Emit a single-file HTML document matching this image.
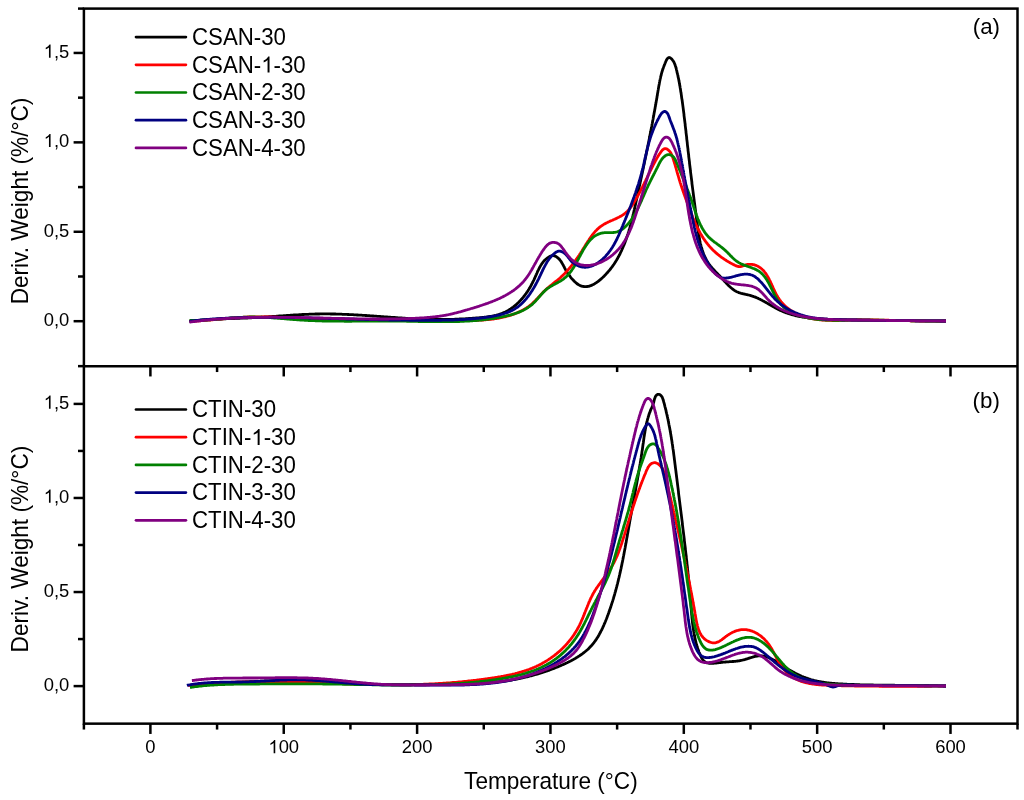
<!DOCTYPE html>
<html><head><meta charset="utf-8"><title>DTG curves</title>
<style>html,body{margin:0;padding:0;background:#fff;}body{width:1024px;height:800px;overflow:hidden;}svg{display:block;}text{font-family:"Liberation Sans",sans-serif;fill:#000;}</style>
</head><body>
<svg width="1024" height="800" viewBox="0 0 1024 800">
<rect x="0" y="0" width="1024" height="800" fill="#ffffff"/>
<g fill="none" stroke-width="2.8" stroke-linejoin="round" stroke-linecap="butt">
<path stroke="#000000" d="M189.5,321.3 L190.3,321.2 L191.0,321.1 L191.8,321.0 L192.6,320.9 L193.4,320.8 L194.1,320.8 L194.9,320.7 L195.7,320.6 L196.4,320.5 L197.2,320.5 L198.0,320.4 L198.7,320.3 L199.5,320.3 L200.3,320.2 L201.1,320.1 L201.8,320.1 L202.6,320.0 L203.4,320.0 L204.1,319.9 L204.9,319.8 L205.7,319.8 L206.5,319.7 L207.2,319.7 L208.0,319.6 L208.8,319.6 L209.5,319.5 L210.3,319.5 L211.1,319.5 L211.9,319.4 L212.6,319.4 L213.4,319.3 L214.2,319.3 L215.0,319.3 L215.7,319.2 L216.5,319.2 L217.3,319.1 L218.0,319.1 L218.8,319.1 L219.6,319.0 L220.4,319.0 L221.1,319.0 L221.9,318.9 L222.7,318.9 L223.5,318.9 L224.2,318.8 L225.0,318.8 L225.8,318.8 L226.5,318.7 L227.3,318.7 L228.1,318.7 L228.9,318.7 L229.6,318.6 L230.4,318.6 L231.2,318.6 L232.0,318.5 L232.7,318.5 L233.5,318.5 L234.3,318.5 L235.0,318.4 L235.8,318.4 L236.6,318.4 L237.4,318.3 L238.1,318.3 L238.9,318.3 L239.7,318.3 L240.5,318.2 L241.2,318.2 L242.0,318.2 L242.8,318.1 L243.5,318.1 L244.3,318.1 L245.1,318.1 L245.9,318.0 L246.6,318.0 L247.4,318.0 L248.2,317.9 L249.0,317.9 L249.7,317.9 L250.5,317.8 L251.3,317.8 L252.1,317.7 L252.8,317.7 L253.6,317.7 L254.4,317.6 L255.1,317.6 L255.9,317.6 L256.7,317.5 L257.5,317.5 L258.2,317.4 L259.0,317.4 L259.8,317.3 L260.5,317.3 L261.3,317.2 L262.1,317.2 L262.9,317.1 L263.6,317.1 L264.4,317.0 L265.2,317.0 L266.0,316.9 L266.7,316.9 L267.5,316.8 L268.3,316.8 L269.0,316.7 L269.8,316.7 L270.6,316.6 L271.4,316.6 L272.1,316.5 L272.9,316.5 L273.7,316.4 L274.4,316.4 L275.2,316.3 L276.0,316.3 L276.8,316.2 L277.5,316.2 L278.3,316.1 L279.1,316.0 L279.9,316.0 L280.6,315.9 L281.4,315.9 L282.2,315.8 L282.9,315.8 L283.7,315.7 L284.5,315.7 L285.3,315.6 L286.0,315.6 L286.8,315.5 L287.6,315.4 L288.3,315.4 L289.1,315.3 L289.9,315.3 L290.7,315.2 L291.4,315.2 L292.2,315.1 L293.0,315.1 L293.7,315.0 L294.5,315.0 L295.3,314.9 L296.1,314.9 L296.8,314.9 L297.6,314.8 L298.4,314.8 L299.1,314.7 L299.9,314.7 L300.7,314.6 L301.5,314.6 L302.2,314.5 L303.0,314.5 L303.8,314.5 L304.5,314.4 L305.3,314.4 L306.1,314.4 L306.9,314.3 L307.6,314.3 L308.4,314.3 L309.2,314.2 L309.9,314.2 L310.7,314.2 L311.5,314.1 L312.3,314.1 L313.0,314.1 L313.8,314.1 L314.6,314.1 L315.3,314.0 L316.1,314.0 L316.9,314.0 L317.7,314.0 L318.4,314.0 L319.2,314.0 L320.0,313.9 L320.7,313.9 L321.5,313.9 L322.3,313.9 L323.1,313.9 L323.8,313.9 L324.6,313.9 L325.4,313.9 L326.2,313.9 L326.9,313.9 L327.7,313.9 L328.5,313.9 L329.2,313.9 L330.0,313.9 L330.8,314.0 L331.6,314.0 L332.3,314.0 L333.1,314.0 L333.9,314.0 L334.6,314.0 L335.4,314.0 L336.2,314.1 L337.0,314.1 L337.7,314.1 L338.5,314.1 L339.3,314.2 L340.0,314.2 L340.8,314.2 L341.6,314.2 L342.4,314.3 L343.1,314.3 L343.9,314.3 L344.7,314.3 L345.5,314.4 L346.2,314.4 L347.0,314.4 L347.8,314.5 L348.5,314.5 L349.3,314.6 L350.1,314.6 L350.9,314.6 L351.6,314.7 L352.4,314.7 L353.2,314.7 L353.9,314.8 L354.7,314.8 L355.5,314.9 L356.3,314.9 L357.0,315.0 L357.8,315.0 L358.6,315.1 L359.4,315.1 L360.1,315.1 L360.9,315.2 L361.7,315.2 L362.4,315.3 L363.2,315.3 L364.0,315.4 L364.8,315.4 L365.5,315.5 L366.3,315.5 L367.1,315.6 L367.8,315.6 L368.6,315.7 L369.4,315.7 L370.2,315.8 L370.9,315.9 L371.7,315.9 L372.5,316.0 L373.3,316.0 L374.0,316.1 L374.8,316.1 L375.6,316.2 L376.3,316.2 L377.1,316.3 L377.9,316.3 L378.7,316.4 L379.4,316.4 L380.2,316.5 L381.0,316.6 L381.7,316.6 L382.5,316.7 L383.3,316.7 L384.1,316.8 L384.8,316.8 L385.6,316.9 L386.4,316.9 L387.2,317.0 L387.9,317.1 L388.7,317.1 L389.5,317.2 L390.2,317.2 L391.0,317.3 L391.8,317.3 L392.6,317.4 L393.3,317.4 L394.1,317.5 L394.9,317.5 L395.6,317.6 L396.4,317.7 L397.2,317.7 L398.0,317.8 L398.7,317.8 L399.5,317.9 L400.3,317.9 L401.1,318.0 L401.8,318.0 L402.6,318.1 L403.4,318.1 L404.1,318.2 L404.9,318.2 L405.7,318.3 L406.5,318.3 L407.2,318.3 L408.0,318.4 L408.8,318.4 L409.5,318.5 L410.3,318.5 L411.1,318.6 L411.9,318.6 L412.6,318.6 L413.4,318.7 L414.2,318.7 L415.0,318.8 L415.7,318.8 L416.5,318.8 L417.3,318.9 L418.0,318.9 L418.8,319.0 L419.6,319.0 L420.4,319.0 L421.1,319.0 L421.9,319.1 L422.7,319.1 L423.4,319.1 L424.2,319.2 L425.0,319.2 L425.8,319.2 L426.5,319.2 L427.3,319.3 L428.1,319.3 L428.8,319.3 L429.6,319.3 L430.4,319.4 L431.2,319.4 L431.9,319.4 L432.7,319.4 L433.5,319.4 L434.2,319.4 L435.0,319.4 L435.8,319.5 L436.6,319.5 L437.3,319.5 L438.1,319.5 L438.9,319.5 L439.7,319.5 L440.4,319.5 L441.2,319.5 L442.0,319.5 L442.7,319.5 L443.5,319.5 L444.3,319.5 L445.1,319.5 L445.8,319.5 L446.6,319.4 L447.4,319.4 L448.1,319.4 L448.9,319.4 L449.7,319.4 L450.5,319.4 L451.2,319.4 L452.0,319.3 L452.8,319.3 L453.5,319.3 L454.3,319.3 L455.1,319.2 L455.9,319.2 L456.6,319.2 L457.4,319.1 L458.2,319.1 L458.9,319.1 L459.7,319.0 L460.5,319.0 L461.3,319.0 L462.0,318.9 L462.8,318.9 L463.6,318.8 L464.4,318.8 L465.1,318.8 L465.9,318.7 L466.7,318.7 L467.5,318.6 L468.2,318.6 L469.0,318.5 L469.8,318.5 L470.6,318.4 L471.3,318.4 L472.1,318.3 L472.9,318.2 L473.7,318.2 L474.4,318.1 L475.2,318.1 L476.0,318.0 L476.8,317.9 L477.5,317.9 L478.3,317.8 L479.1,317.8 L479.9,317.7 L480.7,317.6 L481.4,317.6 L482.2,317.5 L483.0,317.4 L483.8,317.3 L484.5,317.2 L485.3,317.1 L486.1,317.1 L486.9,317.0 L487.6,316.9 L488.4,316.7 L489.2,316.6 L489.9,316.5 L490.7,316.4 L491.5,316.3 L492.2,316.1 L493.0,316.0 L493.7,315.8 L494.5,315.6 L495.2,315.5 L496.0,315.3 L496.7,315.1 L497.4,314.9 L498.2,314.7 L498.9,314.5 L499.6,314.2 L500.4,314.0 L501.1,313.7 L501.8,313.5 L502.5,313.2 L503.2,312.9 L503.9,312.6 L504.6,312.3 L505.3,312.0 L506.0,311.6 L506.7,311.3 L507.3,310.9 L508.0,310.5 L508.7,310.1 L509.3,309.7 L510.0,309.3 L510.6,308.9 L511.3,308.4 L511.9,308.0 L512.5,307.5 L513.2,307.1 L513.8,306.6 L514.4,306.1 L515.0,305.6 L515.6,305.1 L516.2,304.6 L516.8,304.1 L517.3,303.5 L517.9,303.0 L518.5,302.5 L519.0,301.9 L519.6,301.4 L520.1,300.8 L520.6,300.2 L521.2,299.6 L521.7,299.1 L522.2,298.5 L522.7,297.9 L523.2,297.3 L523.7,296.7 L524.1,296.1 L524.6,295.5 L525.1,294.9 L525.5,294.3 L526.0,293.6 L526.4,293.0 L526.8,292.4 L527.3,291.8 L527.7,291.1 L528.1,290.5 L528.5,289.8 L528.9,289.2 L529.3,288.5 L529.7,287.9 L530.1,287.2 L530.5,286.5 L530.8,285.9 L531.2,285.2 L531.6,284.5 L531.9,283.8 L532.3,283.2 L532.6,282.5 L533.0,281.8 L533.3,281.1 L533.7,280.4 L534.0,279.7 L534.3,279.0 L534.7,278.2 L535.0,277.5 L535.3,276.8 L535.6,276.1 L535.9,275.4 L536.3,274.6 L536.6,273.9 L536.9,273.2 L537.2,272.4 L537.5,271.7 L537.9,271.0 L538.2,270.3 L538.6,269.6 L538.9,268.9 L539.3,268.1 L539.6,267.5 L540.0,266.8 L540.4,266.1 L540.8,265.4 L541.2,264.8 L541.6,264.1 L542.0,263.5 L542.5,262.9 L542.9,262.3 L543.4,261.7 L543.9,261.1 L544.4,260.5 L544.9,260.0 L545.5,259.5 L546.1,259.0 L546.7,258.5 L547.3,258.0 L547.9,257.6 L548.6,257.1 L549.3,256.7 L550.0,256.4 L550.7,256.1 L551.5,255.8 L552.2,255.7 L552.9,255.6 L553.7,255.6 L554.4,255.8 L555.1,256.1 L555.8,256.4 L556.5,256.8 L557.2,257.3 L557.8,257.8 L558.4,258.3 L558.9,258.9 L559.5,259.4 L560.0,260.1 L560.5,260.7 L561.0,261.4 L561.4,262.0 L561.8,262.7 L562.2,263.4 L562.6,264.1 L563.0,264.8 L563.4,265.4 L563.7,266.1 L564.1,266.8 L564.4,267.4 L564.7,268.1 L565.1,268.8 L565.5,269.6 L565.9,270.3 L566.3,271.0 L566.8,271.7 L567.2,272.4 L567.6,273.0 L568.0,273.6 L568.5,274.3 L568.9,275.0 L569.5,275.6 L570.0,276.3 L570.5,277.0 L571.1,277.8 L571.7,278.5 L572.2,279.0 L572.6,279.5 L573.1,280.0 L573.6,280.6 L574.1,281.1 L574.8,281.7 L575.4,282.3 L576.1,282.9 L576.8,283.5 L577.5,284.0 L578.2,284.5 L578.9,284.9 L579.6,285.3 L580.3,285.6 L581.0,285.9 L581.7,286.1 L582.4,286.3 L583.1,286.4 L583.8,286.5 L584.5,286.6 L585.4,286.6 L586.3,286.6 L587.1,286.5 L588.0,286.4 L588.7,286.3 L589.3,286.1 L590.0,285.9 L590.7,285.7 L591.4,285.4 L592.0,285.1 L592.7,284.8 L593.4,284.5 L594.0,284.1 L594.7,283.7 L595.3,283.3 L596.0,282.9 L596.6,282.5 L597.2,282.0 L597.9,281.6 L598.5,281.1 L599.1,280.6 L599.7,280.1 L600.3,279.6 L600.9,279.1 L601.5,278.6 L602.1,278.0 L602.7,277.5 L603.2,277.0 L603.8,276.4 L604.3,275.9 L604.9,275.3 L605.4,274.8 L606.0,274.2 L606.5,273.6 L607.0,273.1 L607.5,272.5 L608.0,271.9 L608.5,271.3 L609.0,270.7 L609.5,270.2 L610.0,269.6 L610.5,269.0 L610.9,268.4 L611.4,267.7 L611.9,267.1 L612.3,266.5 L612.8,265.9 L613.2,265.3 L613.6,264.7 L614.1,264.0 L614.5,263.4 L614.9,262.8 L615.3,262.1 L615.7,261.5 L616.1,260.8 L616.5,260.2 L616.9,259.5 L617.3,258.9 L617.7,258.2 L618.0,257.5 L618.4,256.9 L618.8,256.2 L619.1,255.5 L619.5,254.9 L619.8,254.2 L620.2,253.5 L620.5,252.8 L620.8,252.1 L621.2,251.4 L621.5,250.7 L621.8,250.0 L622.1,249.3 L622.4,248.6 L622.7,247.9 L623.0,247.2 L623.3,246.5 L623.6,245.8 L623.9,245.1 L624.2,244.4 L624.5,243.7 L624.8,242.9 L625.1,242.2 L625.3,241.5 L625.6,240.8 L625.9,240.0 L626.1,239.3 L626.4,238.6 L626.6,237.9 L626.9,237.1 L627.1,236.4 L627.4,235.6 L627.6,234.9 L627.9,234.2 L628.1,233.4 L628.3,232.7 L628.6,231.9 L628.8,231.2 L629.0,230.4 L629.2,229.7 L629.5,228.9 L629.7,228.2 L629.9,227.4 L630.1,226.7 L630.3,225.9 L630.5,225.1 L630.7,224.4 L630.9,223.6 L631.1,222.9 L631.3,222.1 L631.5,221.3 L631.7,220.6 L631.9,219.8 L632.1,219.0 L632.3,218.3 L632.5,217.5 L632.7,216.7 L632.9,216.0 L633.0,215.2 L633.2,214.4 L633.4,213.7 L633.6,212.9 L633.8,212.1 L633.9,211.4 L634.1,210.6 L634.3,209.8 L634.4,209.1 L634.6,208.3 L634.8,207.5 L635.0,206.8 L635.1,206.0 L635.3,205.2 L635.5,204.5 L635.6,203.7 L635.8,202.9 L636.0,202.1 L636.1,201.4 L636.3,200.6 L636.5,199.8 L636.6,199.1 L636.8,198.3 L637.0,197.6 L637.1,196.8 L637.3,196.0 L637.5,195.3 L637.6,194.5 L637.8,193.7 L638.0,193.0 L638.1,192.2 L638.3,191.5 L638.4,190.7 L638.6,189.9 L638.8,189.2 L638.9,188.4 L639.1,187.7 L639.3,186.9 L639.4,186.1 L639.6,185.4 L639.8,184.6 L639.9,183.9 L640.1,183.1 L640.2,182.4 L640.4,181.6 L640.6,180.9 L640.7,180.1 L640.9,179.4 L641.0,178.6 L641.2,177.8 L641.4,177.1 L641.5,176.3 L641.7,175.6 L641.8,174.8 L642.0,174.1 L642.2,173.3 L642.3,172.6 L642.5,171.8 L642.6,171.1 L642.8,170.3 L643.0,169.6 L643.1,168.8 L643.3,168.1 L643.4,167.3 L643.6,166.6 L643.7,165.8 L643.9,165.1 L644.1,164.3 L644.2,163.6 L644.4,162.8 L644.5,162.1 L644.7,161.3 L644.8,160.6 L645.0,159.8 L645.2,159.1 L645.3,158.3 L645.5,157.6 L645.6,156.8 L645.8,156.1 L645.9,155.4 L646.1,154.6 L646.2,153.9 L646.4,153.1 L646.5,152.4 L646.7,151.6 L646.8,150.9 L647.0,150.1 L647.1,149.4 L647.3,148.6 L647.5,147.9 L647.6,147.1 L647.8,146.4 L647.9,145.6 L648.1,144.9 L648.2,144.1 L648.4,143.4 L648.5,142.6 L648.7,141.9 L648.8,141.1 L649.0,140.4 L649.1,139.6 L649.3,138.9 L649.4,138.1 L649.5,137.4 L649.7,136.6 L649.8,135.9 L650.0,135.1 L650.1,134.4 L650.3,133.6 L650.4,132.9 L650.6,132.1 L650.7,131.4 L650.9,130.6 L651.0,129.8 L651.2,129.1 L651.3,128.3 L651.4,127.6 L651.6,126.8 L651.7,126.1 L651.9,125.3 L652.0,124.6 L652.2,123.8 L652.3,123.1 L652.5,122.3 L652.6,121.5 L652.7,120.8 L652.9,120.0 L653.0,119.3 L653.2,118.5 L653.3,117.7 L653.4,117.0 L653.6,116.2 L653.7,115.5 L653.9,114.7 L654.0,113.9 L654.1,113.2 L654.3,112.4 L654.4,111.6 L654.6,110.9 L654.7,110.1 L654.8,109.4 L655.0,108.6 L655.1,107.8 L655.2,107.1 L655.4,106.3 L655.5,105.5 L655.7,104.7 L655.8,104.0 L655.9,103.2 L656.1,102.4 L656.2,101.7 L656.3,100.9 L656.5,100.1 L656.6,99.3 L656.7,98.6 L656.9,97.8 L657.0,97.0 L657.1,96.2 L657.3,95.5 L657.4,94.7 L657.5,93.9 L657.6,93.1 L657.8,92.4 L657.9,91.6 L658.0,90.8 L658.2,90.0 L658.3,89.2 L658.4,88.5 L658.6,87.7 L658.7,86.9 L658.8,86.1 L659.0,85.4 L659.1,84.6 L659.3,83.8 L659.4,83.1 L659.5,82.3 L659.7,81.5 L659.8,80.8 L660.0,80.0 L660.1,79.3 L660.3,78.6 L660.5,77.8 L660.6,77.1 L660.8,76.4 L661.0,75.7 L661.2,75.0 L661.3,74.3 L661.5,73.6 L661.7,72.9 L661.9,72.2 L662.1,71.5 L662.3,70.8 L662.5,70.1 L662.8,69.4 L663.0,68.7 L663.3,67.9 L663.5,67.2 L663.8,66.5 L664.1,65.7 L664.4,64.9 L664.7,64.2 L665.0,63.4 L665.4,62.5 L665.7,61.7 L666.1,60.8 L666.5,60.0 L666.9,59.3 L667.4,58.6 L667.8,58.1 L668.5,57.7 L669.2,57.5 L669.9,57.7 L670.5,58.0 L671.1,58.5 L671.7,59.1 L672.3,59.7 L672.7,60.3 L673.2,60.9 L673.6,61.6 L674.0,62.3 L674.3,63.0 L674.6,63.7 L674.9,64.4 L675.2,65.2 L675.4,65.9 L675.7,66.7 L675.9,67.5 L676.1,68.2 L676.3,69.0 L676.5,69.8 L676.7,70.5 L676.9,71.3 L677.0,72.1 L677.2,72.8 L677.4,73.6 L677.6,74.4 L677.8,75.1 L677.9,75.9 L678.1,76.7 L678.2,77.4 L678.4,78.2 L678.6,78.9 L678.7,79.7 L678.9,80.5 L679.0,81.2 L679.2,82.0 L679.3,82.7 L679.4,83.5 L679.6,84.2 L679.7,85.0 L679.8,85.7 L680.0,86.5 L680.1,87.2 L680.2,88.0 L680.4,88.8 L680.5,89.5 L680.6,90.3 L680.7,91.0 L680.8,91.8 L681.0,92.5 L681.1,93.3 L681.2,94.0 L681.3,94.8 L681.4,95.5 L681.5,96.3 L681.6,97.0 L681.7,97.8 L681.8,98.6 L682.0,99.3 L682.1,100.1 L682.2,100.8 L682.3,101.6 L682.4,102.3 L682.5,103.1 L682.6,103.9 L682.7,104.6 L682.8,105.4 L682.9,106.2 L683.0,106.9 L683.1,107.7 L683.2,108.4 L683.3,109.2 L683.4,110.0 L683.5,110.7 L683.6,111.5 L683.7,112.3 L683.8,113.0 L683.9,113.8 L684.0,114.6 L684.0,115.3 L684.1,116.1 L684.2,116.9 L684.3,117.7 L684.4,118.4 L684.5,119.2 L684.6,120.0 L684.7,120.7 L684.8,121.5 L684.9,122.3 L685.0,123.1 L685.1,123.8 L685.2,124.6 L685.2,125.4 L685.3,126.1 L685.4,126.9 L685.5,127.7 L685.6,128.5 L685.7,129.2 L685.8,130.0 L685.9,130.8 L686.0,131.6 L686.0,132.3 L686.1,133.1 L686.2,133.9 L686.3,134.6 L686.4,135.4 L686.5,136.2 L686.6,137.0 L686.7,137.7 L686.7,138.5 L686.8,139.3 L686.9,140.1 L687.0,140.8 L687.1,141.6 L687.2,142.4 L687.3,143.2 L687.3,143.9 L687.4,144.7 L687.5,145.5 L687.6,146.3 L687.7,147.0 L687.8,147.8 L687.9,148.6 L688.0,149.3 L688.0,150.1 L688.1,150.9 L688.2,151.7 L688.3,152.4 L688.4,153.2 L688.5,154.0 L688.6,154.7 L688.7,155.5 L688.7,156.3 L688.8,157.0 L688.9,157.8 L689.0,158.6 L689.1,159.3 L689.2,160.1 L689.3,160.9 L689.4,161.6 L689.5,162.4 L689.5,163.2 L689.6,163.9 L689.7,164.7 L689.8,165.5 L689.9,166.2 L690.0,167.0 L690.1,167.8 L690.2,168.5 L690.3,169.3 L690.4,170.1 L690.5,170.8 L690.5,171.6 L690.6,172.4 L690.7,173.1 L690.8,173.9 L690.9,174.6 L691.0,175.4 L691.1,176.2 L691.2,176.9 L691.3,177.7 L691.4,178.5 L691.5,179.2 L691.6,180.0 L691.7,180.8 L691.8,181.5 L691.9,182.3 L691.9,183.0 L692.0,183.8 L692.1,184.6 L692.2,185.3 L692.3,186.1 L692.4,186.9 L692.5,187.6 L692.6,188.4 L692.7,189.1 L692.8,189.9 L692.9,190.7 L693.0,191.4 L693.1,192.2 L693.2,193.0 L693.3,193.7 L693.4,194.5 L693.5,195.3 L693.6,196.0 L693.7,196.8 L693.8,197.5 L693.9,198.3 L694.0,199.1 L694.1,199.8 L694.2,200.6 L694.3,201.4 L694.4,202.1 L694.5,202.9 L694.6,203.7 L694.7,204.4 L694.8,205.2 L694.9,206.0 L695.0,206.7 L695.1,207.5 L695.2,208.3 L695.3,209.0 L695.4,209.8 L695.5,210.6 L695.6,211.3 L695.7,212.1 L695.8,212.9 L695.9,213.7 L696.0,214.4 L696.1,215.2 L696.2,216.0 L696.3,216.7 L696.4,217.5 L696.5,218.3 L696.6,219.1 L696.7,219.8 L696.8,220.6 L696.9,221.4 L697.0,222.2 L697.1,222.9 L697.2,223.7 L697.3,224.5 L697.4,225.3 L697.5,226.0 L697.6,226.8 L697.7,227.6 L697.8,228.4 L697.9,229.2 L698.1,229.9 L698.2,230.7 L698.3,231.5 L698.4,232.3 L698.5,233.1 L698.6,233.8 L698.7,234.6 L698.9,235.4 L699.0,236.1 L699.1,236.9 L699.3,237.7 L699.4,238.5 L699.5,239.2 L699.7,240.0 L699.8,240.8 L700.0,241.5 L700.2,242.3 L700.3,243.0 L700.5,243.8 L700.7,244.5 L700.9,245.3 L701.1,246.0 L701.3,246.8 L701.5,247.5 L701.7,248.2 L701.9,249.0 L702.1,249.7 L702.4,250.4 L702.6,251.1 L702.8,251.9 L703.1,252.6 L703.4,253.3 L703.6,254.0 L703.9,254.7 L704.2,255.4 L704.5,256.1 L704.8,256.8 L705.2,257.5 L705.5,258.1 L705.8,258.8 L706.2,259.5 L706.5,260.1 L706.9,260.8 L707.3,261.4 L707.7,262.1 L708.1,262.7 L708.5,263.3 L709.0,264.0 L709.4,264.6 L709.9,265.2 L710.3,265.8 L710.8,266.4 L711.3,267.0 L711.8,267.6 L712.3,268.2 L712.8,268.8 L713.3,269.4 L713.9,269.9 L714.4,270.5 L714.9,271.1 L715.5,271.7 L716.0,272.2 L716.5,272.8 L717.1,273.4 L717.7,273.9 L718.2,274.5 L718.8,275.1 L719.3,275.7 L719.9,276.2 L720.4,276.8 L721.0,277.4 L721.5,278.0 L722.1,278.5 L722.6,279.1 L723.1,279.7 L723.7,280.3 L724.2,280.9 L724.7,281.5 L725.3,282.1 L725.8,282.6 L726.3,283.2 L726.9,283.8 L727.4,284.3 L728.0,284.9 L728.5,285.4 L729.1,286.0 L729.6,286.5 L730.2,287.0 L730.7,287.5 L731.3,288.0 L731.9,288.5 L732.5,289.0 L733.1,289.4 L733.7,289.9 L734.3,290.3 L734.9,290.7 L735.5,291.0 L736.2,291.4 L736.8,291.7 L737.5,292.0 L738.2,292.3 L738.9,292.6 L739.6,292.8 L740.3,293.0 L741.0,293.3 L741.8,293.5 L742.5,293.6 L743.3,293.8 L744.0,294.0 L744.8,294.1 L745.5,294.3 L746.3,294.5 L747.0,294.6 L747.8,294.8 L748.6,295.0 L749.3,295.2 L750.1,295.4 L750.8,295.6 L751.5,295.8 L752.3,296.1 L753.0,296.3 L753.7,296.6 L754.5,296.8 L755.2,297.1 L755.9,297.4 L756.6,297.7 L757.3,298.0 L758.0,298.3 L758.7,298.7 L759.4,299.0 L760.1,299.3 L760.8,299.7 L761.5,300.0 L762.1,300.4 L762.8,300.8 L763.5,301.1 L764.2,301.5 L764.9,301.9 L765.5,302.3 L766.2,302.6 L766.9,303.0 L767.6,303.4 L768.2,303.8 L768.9,304.2 L769.6,304.6 L770.3,305.0 L770.9,305.3 L771.6,305.7 L772.3,306.1 L772.9,306.5 L773.6,306.9 L774.3,307.3 L775.0,307.6 L775.6,308.0 L776.3,308.4 L777.0,308.7 L777.7,309.1 L778.4,309.4 L779.0,309.8 L779.7,310.1 L780.4,310.4 L781.1,310.7 L781.8,311.0 L782.5,311.4 L783.2,311.6 L783.9,311.9 L784.6,312.2 L785.3,312.5 L786.0,312.8 L786.8,313.0 L787.5,313.3 L788.2,313.5 L788.9,313.7 L789.6,314.0 L790.4,314.2 L791.1,314.4 L791.8,314.6 L792.6,314.8 L793.3,315.0 L794.0,315.2 L794.8,315.4 L795.5,315.6 L796.2,315.8 L797.0,315.9 L797.7,316.1 L798.5,316.3 L799.2,316.4 L800.0,316.6 L800.7,316.7 L801.5,316.8 L802.2,317.0 L803.0,317.1 L803.8,317.2 L804.5,317.3 L805.3,317.5 L806.0,317.6 L806.8,317.7 L807.6,317.8 L808.3,317.9 L809.1,318.0 L809.9,318.0 L810.6,318.1 L811.4,318.2 L812.2,318.3 L813.0,318.4 L813.7,318.4 L814.5,318.5 L815.3,318.6 L816.1,318.6 L816.8,318.7 L817.6,318.7 L818.4,318.8 L819.2,318.8 L819.9,318.9 L820.7,318.9 L821.5,319.0 L822.3,319.0 L823.1,319.1 L823.9,319.1 L824.6,319.1 L825.4,319.2 L826.2,319.2 L827.0,319.2 L827.8,319.3 L828.6,319.3 L829.3,319.3 L830.1,319.3 L830.9,319.4 L831.7,319.4 L832.5,319.4 L833.3,319.4 L834.0,319.4 L834.8,319.5 L835.6,319.5 L836.4,319.5 L837.2,319.5 L837.9,319.5 L838.7,319.6 L839.5,319.6 L840.3,319.6 L841.1,319.6 L841.8,319.6 L842.6,319.6 L843.4,319.7 L844.2,319.7 L845.0,319.7 L845.7,319.7 L846.5,319.7 L847.3,319.8 L848.1,319.8 L848.9,319.8 L849.6,319.8 L850.4,319.8 L851.2,319.8 L852.0,319.9 L852.7,319.9 L853.5,319.9 L854.3,319.9 L855.1,319.9 L855.8,319.9 L856.6,319.9 L857.4,320.0 L858.2,320.0 L858.9,320.0 L859.7,320.0 L860.5,320.0 L861.3,320.0 L862.0,320.1 L862.8,320.1 L863.6,320.1 L864.3,320.1 L865.1,320.1 L865.9,320.1 L866.7,320.1 L867.4,320.2 L868.2,320.2 L869.0,320.2 L869.7,320.2 L870.5,320.2 L871.3,320.2 L872.1,320.2 L872.8,320.2 L873.6,320.3 L874.4,320.3 L875.1,320.3 L875.9,320.3 L876.7,320.3 L877.5,320.3 L878.2,320.3 L879.0,320.4 L879.8,320.4 L880.5,320.4 L881.3,320.4 L882.1,320.4 L882.8,320.4 L883.6,320.4 L884.4,320.4 L885.1,320.4 L885.9,320.5 L886.7,320.5 L887.5,320.5 L888.2,320.5 L889.0,320.5 L889.8,320.5 L890.5,320.5 L891.3,320.5 L892.1,320.5 L892.8,320.6 L893.6,320.6 L894.4,320.6 L895.1,320.6 L895.9,320.6 L896.7,320.6 L897.5,320.6 L898.2,320.6 L899.0,320.6 L899.8,320.6 L900.5,320.6 L901.3,320.7 L902.1,320.7 L902.8,320.7 L903.6,320.7 L904.4,320.7 L905.2,320.7 L905.9,320.7 L906.7,320.7 L907.5,320.7 L908.2,320.7 L909.0,320.7 L909.8,320.7 L910.5,320.8 L911.3,320.8 L912.1,320.8 L912.9,320.8 L913.6,320.8 L914.4,320.8 L915.2,320.8 L915.9,320.8 L916.7,320.8 L917.5,320.8 L918.3,320.8 L919.0,320.8 L919.8,320.8 L920.6,320.8 L921.3,320.9 L922.1,320.9 L922.9,320.9 L923.7,320.9 L924.4,320.9 L925.2,320.9 L926.0,320.9 L926.8,320.9 L927.5,320.9 L928.3,320.9 L929.1,320.9 L929.9,320.9 L930.6,320.9 L931.4,320.9 L932.2,320.9 L933.0,320.9 L933.7,320.9 L934.5,320.9 L935.3,320.9 L936.1,321.0 L936.8,321.0 L937.6,321.0 L938.4,321.0 L939.2,321.0 L940.0,321.0 L940.7,321.0 L941.5,321.0 L942.3,321.0 L943.1,321.0 L943.9,321.0 L944.6,321.0 L945.4,321.0 L946.0,321.0"/>
<path stroke="#ff0000" d="M189.5,321.2 L190.3,321.2 L191.0,321.2 L191.8,321.2 L192.6,321.2 L193.4,321.1 L194.2,321.1 L194.9,321.1 L195.7,321.0 L196.5,321.0 L197.3,320.9 L198.0,320.9 L198.8,320.8 L199.6,320.8 L200.4,320.8 L201.1,320.7 L201.9,320.7 L202.7,320.6 L203.5,320.5 L204.2,320.5 L205.0,320.4 L205.8,320.4 L206.6,320.3 L207.3,320.2 L208.1,320.2 L208.9,320.1 L209.7,320.1 L210.4,320.0 L211.2,319.9 L212.0,319.9 L212.8,319.8 L213.5,319.7 L214.3,319.6 L215.1,319.6 L215.9,319.5 L216.7,319.4 L217.4,319.4 L218.2,319.3 L219.0,319.2 L219.8,319.2 L220.5,319.1 L221.3,319.0 L222.1,318.9 L222.9,318.9 L223.6,318.8 L224.4,318.7 L225.2,318.7 L226.0,318.6 L226.7,318.5 L227.5,318.4 L228.3,318.4 L229.1,318.3 L229.9,318.2 L230.6,318.2 L231.4,318.1 L232.2,318.0 L233.0,318.0 L233.7,317.9 L234.5,317.9 L235.3,317.8 L236.1,317.7 L236.8,317.7 L237.6,317.6 L238.4,317.6 L239.2,317.5 L240.0,317.5 L240.7,317.4 L241.5,317.4 L242.3,317.3 L243.1,317.3 L243.8,317.2 L244.6,317.2 L245.4,317.1 L246.2,317.1 L246.9,317.1 L247.7,317.0 L248.5,317.0 L249.3,317.0 L250.1,317.0 L250.8,316.9 L251.6,316.9 L252.4,316.9 L253.2,316.9 L253.9,316.9 L254.7,316.9 L255.5,316.8 L256.3,316.8 L257.0,316.8 L257.8,316.8 L258.6,316.8 L259.4,316.8 L260.1,316.8 L260.9,316.8 L261.7,316.8 L262.5,316.8 L263.2,316.8 L264.0,316.9 L264.8,316.9 L265.6,316.9 L266.4,316.9 L267.1,316.9 L267.9,316.9 L268.7,317.0 L269.5,317.0 L270.2,317.0 L271.0,317.0 L271.8,317.0 L272.6,317.1 L273.3,317.1 L274.1,317.1 L274.9,317.1 L275.7,317.2 L276.4,317.2 L277.2,317.2 L278.0,317.3 L278.8,317.3 L279.5,317.3 L280.3,317.4 L281.1,317.4 L281.9,317.4 L282.7,317.5 L283.4,317.5 L284.2,317.5 L285.0,317.6 L285.8,317.6 L286.5,317.6 L287.3,317.7 L288.1,317.7 L288.9,317.8 L289.6,317.8 L290.4,317.8 L291.2,317.9 L292.0,317.9 L292.7,317.9 L293.5,318.0 L294.3,318.0 L295.1,318.1 L295.9,318.1 L296.6,318.1 L297.4,318.2 L298.2,318.2 L299.0,318.2 L299.7,318.3 L300.5,318.3 L301.3,318.3 L302.1,318.4 L302.8,318.4 L303.6,318.4 L304.4,318.5 L305.2,318.5 L306.0,318.5 L306.7,318.6 L307.5,318.6 L308.3,318.6 L309.1,318.7 L309.8,318.7 L310.6,318.7 L311.4,318.8 L312.2,318.8 L312.9,318.8 L313.7,318.8 L314.5,318.9 L315.3,318.9 L316.1,318.9 L316.8,319.0 L317.6,319.0 L318.4,319.0 L319.2,319.0 L319.9,319.1 L320.7,319.1 L321.5,319.1 L322.3,319.1 L323.1,319.2 L323.8,319.2 L324.6,319.2 L325.4,319.2 L326.2,319.2 L326.9,319.3 L327.7,319.3 L328.5,319.3 L329.3,319.3 L330.1,319.4 L330.8,319.4 L331.6,319.4 L332.4,319.4 L333.2,319.4 L333.9,319.5 L334.7,319.5 L335.5,319.5 L336.3,319.5 L337.1,319.5 L337.8,319.6 L338.6,319.6 L339.4,319.6 L340.2,319.6 L341.0,319.6 L341.7,319.6 L342.5,319.7 L343.3,319.7 L344.1,319.7 L344.8,319.7 L345.6,319.7 L346.4,319.7 L347.2,319.7 L348.0,319.8 L348.7,319.8 L349.5,319.8 L350.3,319.8 L351.1,319.8 L351.8,319.8 L352.6,319.8 L353.4,319.8 L354.2,319.9 L355.0,319.9 L355.7,319.9 L356.5,319.9 L357.3,319.9 L358.1,319.9 L358.9,319.9 L359.6,319.9 L360.4,320.0 L361.2,320.0 L362.0,320.0 L362.7,320.0 L363.5,320.0 L364.3,320.0 L365.1,320.0 L365.9,320.0 L366.6,320.0 L367.4,320.0 L368.2,320.0 L369.0,320.0 L369.7,320.1 L370.5,320.1 L371.3,320.1 L372.1,320.1 L372.9,320.1 L373.6,320.1 L374.4,320.1 L375.2,320.1 L376.0,320.1 L376.7,320.1 L377.5,320.1 L378.3,320.1 L379.1,320.1 L379.9,320.1 L380.6,320.1 L381.4,320.2 L382.2,320.2 L383.0,320.2 L383.7,320.2 L384.5,320.2 L385.3,320.2 L386.1,320.2 L386.9,320.2 L387.6,320.2 L388.4,320.2 L389.2,320.2 L390.0,320.2 L390.7,320.2 L391.5,320.2 L392.3,320.2 L393.1,320.2 L393.8,320.2 L394.6,320.2 L395.4,320.2 L396.2,320.2 L397.0,320.2 L397.7,320.2 L398.5,320.2 L399.3,320.2 L400.1,320.2 L400.8,320.2 L401.6,320.2 L402.4,320.2 L403.2,320.2 L403.9,320.2 L404.7,320.2 L405.5,320.2 L406.3,320.2 L407.1,320.2 L407.8,320.2 L408.6,320.2 L409.4,320.2 L410.2,320.2 L410.9,320.2 L411.7,320.2 L412.5,320.2 L413.3,320.2 L414.0,320.3 L414.8,320.3 L415.6,320.3 L416.4,320.3 L417.2,320.3 L417.9,320.3 L418.7,320.3 L419.5,320.3 L420.3,320.3 L421.0,320.3 L421.8,320.3 L422.6,320.3 L423.4,320.3 L424.1,320.3 L424.9,320.3 L425.7,320.3 L426.5,320.3 L427.3,320.3 L428.0,320.3 L428.8,320.3 L429.6,320.3 L430.4,320.3 L431.1,320.3 L431.9,320.3 L432.7,320.3 L433.5,320.3 L434.2,320.3 L435.0,320.3 L435.8,320.3 L436.6,320.3 L437.4,320.3 L438.1,320.3 L438.9,320.3 L439.7,320.3 L440.5,320.3 L441.3,320.3 L442.0,320.3 L442.8,320.3 L443.6,320.3 L444.4,320.3 L445.1,320.3 L445.9,320.4 L446.7,320.4 L447.5,320.4 L448.3,320.4 L449.0,320.4 L449.8,320.4 L450.6,320.4 L451.4,320.4 L452.2,320.4 L452.9,320.4 L453.7,320.4 L454.5,320.4 L455.3,320.4 L456.1,320.4 L456.9,320.5 L457.6,320.5 L458.4,320.5 L459.2,320.5 L460.0,320.5 L460.8,320.5 L461.5,320.5 L462.3,320.5 L463.1,320.5 L463.9,320.5 L464.7,320.5 L465.4,320.5 L466.2,320.5 L467.0,320.5 L467.8,320.5 L468.6,320.5 L469.3,320.5 L470.1,320.5 L470.9,320.5 L471.7,320.5 L472.5,320.4 L473.2,320.4 L474.0,320.4 L474.8,320.4 L475.6,320.4 L476.4,320.3 L477.1,320.3 L477.9,320.3 L478.7,320.2 L479.5,320.2 L480.2,320.2 L481.0,320.1 L481.8,320.1 L482.6,320.0 L483.3,320.0 L484.1,319.9 L484.9,319.9 L485.7,319.8 L486.4,319.7 L487.2,319.7 L488.0,319.6 L488.8,319.5 L489.5,319.4 L490.3,319.4 L491.1,319.3 L491.8,319.2 L492.6,319.1 L493.4,319.0 L494.1,318.9 L494.9,318.7 L495.7,318.6 L496.4,318.5 L497.2,318.4 L498.0,318.3 L498.7,318.1 L499.5,318.0 L500.2,317.8 L501.0,317.7 L501.8,317.5 L502.5,317.3 L503.3,317.2 L504.0,317.0 L504.8,316.8 L505.5,316.6 L506.3,316.4 L507.0,316.2 L507.8,316.0 L508.5,315.8 L509.3,315.6 L510.0,315.4 L510.8,315.1 L511.5,314.9 L512.2,314.7 L513.0,314.4 L513.7,314.1 L514.4,313.9 L515.2,313.6 L515.9,313.3 L516.6,313.0 L517.3,312.7 L518.0,312.4 L518.7,312.1 L519.4,311.8 L520.1,311.5 L520.8,311.1 L521.5,310.8 L522.2,310.4 L522.9,310.0 L523.5,309.7 L524.2,309.3 L524.9,308.9 L525.5,308.5 L526.2,308.1 L526.8,307.7 L527.5,307.2 L528.1,306.8 L528.7,306.4 L529.4,305.9 L530.0,305.4 L530.6,305.0 L531.2,304.5 L531.8,304.0 L532.4,303.5 L532.9,302.9 L533.5,302.4 L534.1,301.9 L534.6,301.3 L535.2,300.8 L535.7,300.2 L536.3,299.6 L536.8,299.1 L537.4,298.5 L537.9,297.9 L538.4,297.3 L539.0,296.7 L539.5,296.2 L540.0,295.6 L540.6,295.0 L541.1,294.4 L541.6,293.8 L542.2,293.3 L542.7,292.7 L543.3,292.1 L543.8,291.6 L544.4,291.0 L545.0,290.5 L545.6,289.9 L546.1,289.4 L546.7,288.9 L547.3,288.3 L547.9,287.8 L548.5,287.3 L549.1,286.8 L549.7,286.3 L550.3,285.8 L550.9,285.3 L551.6,284.8 L552.2,284.4 L552.8,283.9 L553.4,283.4 L554.0,282.9 L554.6,282.4 L555.2,281.9 L555.8,281.4 L556.4,281.0 L557.1,280.5 L557.7,280.0 L558.2,279.5 L558.8,279.0 L559.4,278.5 L560.0,278.0 L560.6,277.4 L561.1,276.9 L561.7,276.4 L562.3,275.9 L562.8,275.3 L563.4,274.8 L563.9,274.3 L564.5,273.7 L565.0,273.2 L565.5,272.6 L566.0,272.0 L566.6,271.5 L567.1,270.9 L567.6,270.3 L568.1,269.8 L568.6,269.2 L569.1,268.6 L569.6,268.0 L570.1,267.4 L570.6,266.8 L571.1,266.2 L571.6,265.6 L572.0,265.0 L572.5,264.4 L573.0,263.8 L573.5,263.2 L573.9,262.6 L574.4,262.0 L574.8,261.4 L575.3,260.7 L575.7,260.1 L576.2,259.5 L576.6,258.8 L577.1,258.2 L577.5,257.6 L578.0,256.9 L578.4,256.3 L578.9,255.6 L579.3,255.0 L579.7,254.3 L580.1,253.7 L580.6,253.0 L581.0,252.3 L581.4,251.7 L581.9,251.0 L582.3,250.4 L582.7,249.7 L583.1,249.0 L583.5,248.3 L583.9,247.7 L584.4,247.0 L584.8,246.3 L585.2,245.7 L585.6,245.0 L586.0,244.3 L586.4,243.6 L586.9,243.0 L587.3,242.3 L587.7,241.6 L588.1,241.0 L588.6,240.3 L589.0,239.7 L589.4,239.0 L589.9,238.4 L590.3,237.7 L590.8,237.1 L591.2,236.4 L591.7,235.8 L592.2,235.2 L592.6,234.6 L593.1,234.0 L593.6,233.4 L594.1,232.8 L594.6,232.2 L595.1,231.6 L595.6,231.1 L596.2,230.5 L596.7,230.0 L597.2,229.4 L597.8,228.9 L598.3,228.4 L598.9,227.9 L599.5,227.4 L600.1,226.9 L600.7,226.5 L601.3,226.0 L602.0,225.6 L602.6,225.1 L603.3,224.7 L603.9,224.3 L604.6,223.9 L605.3,223.6 L606.0,223.2 L606.7,222.8 L607.4,222.5 L608.1,222.1 L608.8,221.8 L609.5,221.5 L610.3,221.1 L611.0,220.8 L611.7,220.5 L612.5,220.2 L613.2,219.9 L613.9,219.5 L614.7,219.2 L615.4,218.9 L616.1,218.6 L616.8,218.2 L617.5,217.9 L618.2,217.5 L619.0,217.2 L619.6,216.8 L620.3,216.4 L621.0,216.1 L621.7,215.7 L622.3,215.3 L623.0,214.9 L623.6,214.4 L624.2,214.0 L624.8,213.5 L625.4,213.0 L626.0,212.6 L626.5,212.0 L627.1,211.5 L627.6,211.0 L628.1,210.4 L628.6,209.9 L629.1,209.3 L629.6,208.7 L630.1,208.1 L630.6,207.5 L631.0,206.9 L631.5,206.3 L631.9,205.6 L632.3,205.0 L632.8,204.4 L633.2,203.7 L633.6,203.1 L634.0,202.4 L634.4,201.7 L634.8,201.1 L635.2,200.4 L635.6,199.7 L636.0,199.1 L636.4,198.4 L636.8,197.7 L637.1,197.0 L637.5,196.4 L637.9,195.7 L638.3,195.0 L638.6,194.3 L639.0,193.6 L639.4,192.9 L639.8,192.3 L640.1,191.6 L640.5,190.9 L640.8,190.2 L641.2,189.5 L641.5,188.8 L641.9,188.1 L642.3,187.4 L642.6,186.7 L643.0,186.0 L643.3,185.3 L643.6,184.6 L644.0,183.9 L644.3,183.2 L644.7,182.5 L645.0,181.8 L645.4,181.1 L645.7,180.4 L646.0,179.7 L646.4,179.0 L646.7,178.3 L647.1,177.6 L647.4,176.9 L647.7,176.2 L648.1,175.5 L648.4,174.8 L648.8,174.1 L649.1,173.4 L649.4,172.7 L649.8,172.0 L650.1,171.3 L650.5,170.6 L650.8,169.9 L651.2,169.2 L651.5,168.5 L651.8,167.9 L652.2,167.2 L652.5,166.5 L652.9,165.8 L653.2,165.1 L653.6,164.4 L653.9,163.7 L654.3,163.0 L654.6,162.4 L655.0,161.7 L655.4,161.0 L655.7,160.3 L656.1,159.7 L656.5,159.0 L656.8,158.3 L657.2,157.6 L657.6,157.0 L658.0,156.3 L658.5,155.6 L658.9,154.9 L659.3,154.2 L659.8,153.6 L660.3,152.9 L660.7,152.2 L661.2,151.5 L661.8,150.8 L662.3,150.2 L662.9,149.7 L663.4,149.2 L664.2,148.8 L664.9,148.6 L665.7,148.6 L666.5,148.8 L667.2,149.2 L667.8,149.6 L668.4,150.1 L669.0,150.7 L669.6,151.3 L670.1,152.0 L670.6,152.6 L671.0,153.3 L671.4,154.1 L671.7,154.8 L672.0,155.5 L672.3,156.3 L672.6,157.1 L672.9,157.8 L673.1,158.6 L673.4,159.4 L673.6,160.1 L673.8,160.9 L674.1,161.6 L674.3,162.4 L674.5,163.2 L674.8,163.9 L675.0,164.7 L675.2,165.4 L675.4,166.2 L675.6,166.9 L675.9,167.6 L676.1,168.4 L676.3,169.1 L676.5,169.9 L676.7,170.6 L676.9,171.3 L677.1,172.1 L677.3,172.8 L677.5,173.5 L677.7,174.2 L677.9,175.0 L678.2,175.7 L678.4,176.4 L678.6,177.2 L678.8,177.9 L679.0,178.6 L679.2,179.3 L679.4,180.1 L679.7,180.8 L679.9,181.5 L680.1,182.3 L680.3,183.0 L680.6,183.7 L680.8,184.5 L681.0,185.2 L681.3,185.9 L681.5,186.6 L681.8,187.4 L682.0,188.1 L682.3,188.8 L682.5,189.6 L682.8,190.3 L683.0,191.0 L683.3,191.8 L683.5,192.5 L683.8,193.2 L684.0,194.0 L684.3,194.7 L684.6,195.4 L684.8,196.2 L685.1,196.9 L685.4,197.6 L685.6,198.4 L685.9,199.1 L686.2,199.8 L686.4,200.6 L686.7,201.3 L687.0,202.1 L687.3,202.8 L687.5,203.5 L687.8,204.3 L688.1,205.0 L688.3,205.7 L688.6,206.5 L688.9,207.2 L689.2,207.9 L689.4,208.7 L689.7,209.4 L690.0,210.2 L690.3,210.9 L690.5,211.6 L690.8,212.4 L691.1,213.1 L691.4,213.8 L691.7,214.6 L692.0,215.3 L692.3,216.0 L692.5,216.7 L692.8,217.5 L693.1,218.2 L693.4,218.9 L693.7,219.6 L694.0,220.4 L694.4,221.1 L694.7,221.8 L695.0,222.5 L695.3,223.2 L695.6,223.9 L695.9,224.6 L696.3,225.3 L696.6,226.0 L696.9,226.7 L697.3,227.4 L697.6,228.1 L698.0,228.8 L698.3,229.5 L698.7,230.2 L699.0,230.9 L699.4,231.5 L699.8,232.2 L700.1,232.9 L700.5,233.6 L700.9,234.2 L701.3,234.9 L701.7,235.5 L702.1,236.2 L702.5,236.9 L702.9,237.5 L703.3,238.1 L703.7,238.8 L704.2,239.4 L704.6,240.0 L705.0,240.7 L705.5,241.3 L705.9,241.9 L706.4,242.5 L706.9,243.1 L707.3,243.7 L707.8,244.3 L708.3,244.9 L708.8,245.5 L709.3,246.1 L709.8,246.7 L710.3,247.2 L710.8,247.8 L711.3,248.4 L711.9,248.9 L712.4,249.5 L712.9,250.0 L713.5,250.6 L714.1,251.1 L714.6,251.6 L715.2,252.2 L715.8,252.7 L716.3,253.2 L716.9,253.7 L717.5,254.2 L718.1,254.7 L718.8,255.2 L719.4,255.7 L720.0,256.2 L720.6,256.6 L721.3,257.1 L721.9,257.6 L722.6,258.0 L723.2,258.5 L723.9,258.9 L724.5,259.4 L725.2,259.8 L725.9,260.2 L726.5,260.7 L727.2,261.1 L727.9,261.5 L728.6,261.9 L729.3,262.3 L730.0,262.7 L730.7,263.1 L731.4,263.5 L732.1,263.8 L732.8,264.2 L733.5,264.6 L734.2,264.9 L734.9,265.3 L735.6,265.6 L736.3,265.9 L737.0,266.2 L737.7,266.4 L738.5,266.5 L739.2,266.6 L739.9,266.6 L740.6,266.6 L741.3,266.4 L742.1,266.2 L742.8,265.9 L743.6,265.7 L744.3,265.4 L745.1,265.1 L745.8,264.8 L746.6,264.6 L747.4,264.5 L748.2,264.4 L748.9,264.3 L749.7,264.3 L750.5,264.3 L751.3,264.3 L752.1,264.4 L752.9,264.6 L753.7,264.7 L754.4,264.9 L755.2,265.2 L755.9,265.4 L756.7,265.7 L757.4,266.0 L758.1,266.4 L758.7,266.8 L759.4,267.2 L760.0,267.6 L760.6,268.0 L761.2,268.5 L761.8,269.0 L762.3,269.5 L762.9,270.0 L763.4,270.5 L763.9,271.1 L764.4,271.7 L764.8,272.3 L765.3,272.9 L765.8,273.5 L766.2,274.1 L766.6,274.8 L767.0,275.4 L767.4,276.1 L767.8,276.8 L768.2,277.5 L768.6,278.2 L769.0,278.9 L769.3,279.6 L769.7,280.3 L770.0,281.0 L770.4,281.8 L770.7,282.5 L771.1,283.3 L771.4,284.0 L771.8,284.8 L772.1,285.5 L772.4,286.3 L772.8,287.0 L773.1,287.8 L773.4,288.5 L773.8,289.3 L774.1,290.0 L774.5,290.8 L774.8,291.5 L775.2,292.2 L775.5,293.0 L775.9,293.7 L776.3,294.4 L776.7,295.1 L777.1,295.8 L777.5,296.5 L777.9,297.2 L778.3,297.8 L778.7,298.5 L779.2,299.1 L779.6,299.8 L780.1,300.4 L780.6,301.0 L781.0,301.6 L781.5,302.2 L782.0,302.8 L782.5,303.3 L783.1,303.9 L783.6,304.4 L784.1,305.0 L784.7,305.5 L785.2,306.0 L785.8,306.5 L786.4,307.0 L786.9,307.5 L787.5,308.0 L788.1,308.4 L788.7,308.9 L789.3,309.3 L789.9,309.8 L790.5,310.2 L791.2,310.6 L791.8,311.0 L792.4,311.4 L793.1,311.8 L793.7,312.1 L794.4,312.5 L795.1,312.9 L795.7,313.2 L796.4,313.5 L797.1,313.9 L797.8,314.2 L798.4,314.5 L799.1,314.8 L799.8,315.1 L800.5,315.4 L801.2,315.6 L801.9,315.9 L802.6,316.1 L803.4,316.4 L804.1,316.6 L804.8,316.9 L805.5,317.1 L806.2,317.3 L807.0,317.5 L807.7,317.7 L808.4,317.9 L809.2,318.0 L809.9,318.2 L810.6,318.4 L811.4,318.5 L812.1,318.7 L812.9,318.8 L813.6,318.9 L814.4,319.1 L815.1,319.2 L815.9,319.3 L816.6,319.4 L817.4,319.5 L818.2,319.6 L818.9,319.7 L819.7,319.8 L820.5,319.9 L821.2,319.9 L822.0,320.0 L822.8,320.1 L823.5,320.1 L824.3,320.2 L825.1,320.2 L825.9,320.3 L826.6,320.3 L827.4,320.3 L828.2,320.4 L829.0,320.4 L829.8,320.4 L830.6,320.4 L831.3,320.4 L832.1,320.5 L832.9,320.5 L833.7,320.5 L834.5,320.5 L835.3,320.5 L836.1,320.5 L836.9,320.5 L837.6,320.5 L838.4,320.5 L839.2,320.4 L840.0,320.4 L840.8,320.4 L841.6,320.4 L842.4,320.4 L843.2,320.4 L844.0,320.3 L844.8,320.3 L845.6,320.3 L846.4,320.3 L847.2,320.3 L847.9,320.2 L848.7,320.2 L849.5,320.2 L850.3,320.2 L851.1,320.2 L851.9,320.1 L852.7,320.1 L853.5,320.1 L854.3,320.1 L855.1,320.1 L855.9,320.1 L856.6,320.0 L857.4,320.0 L858.2,320.0 L859.0,320.0 L859.8,320.0 L860.6,320.0 L861.4,320.0 L862.1,320.0 L862.9,320.0 L863.7,320.0 L864.5,320.0 L865.3,320.0 L866.1,320.0 L866.8,320.0 L867.6,320.0 L868.4,320.0 L869.2,320.0 L870.0,320.0 L870.7,320.0 L871.5,320.0 L872.3,320.0 L873.1,320.0 L873.8,320.0 L874.6,320.0 L875.4,320.0 L876.2,320.0 L877.0,320.0 L877.7,320.0 L878.5,320.0 L879.3,320.1 L880.1,320.1 L880.8,320.1 L881.6,320.1 L882.4,320.1 L883.2,320.1 L883.9,320.1 L884.7,320.2 L885.5,320.2 L886.2,320.2 L887.0,320.2 L887.8,320.2 L888.6,320.2 L889.3,320.3 L890.1,320.3 L890.9,320.3 L891.7,320.3 L892.4,320.3 L893.2,320.3 L894.0,320.4 L894.7,320.4 L895.5,320.4 L896.3,320.4 L897.1,320.4 L897.8,320.5 L898.6,320.5 L899.4,320.5 L900.1,320.5 L900.9,320.5 L901.7,320.6 L902.5,320.6 L903.2,320.6 L904.0,320.6 L904.8,320.6 L905.5,320.7 L906.3,320.7 L907.1,320.7 L907.9,320.7 L908.6,320.7 L909.4,320.7 L910.2,320.8 L910.9,320.8 L911.7,320.8 L912.5,320.8 L913.3,320.8 L914.0,320.9 L914.8,320.9 L915.6,320.9 L916.4,320.9 L917.1,320.9 L917.9,320.9 L918.7,320.9 L919.4,321.0 L920.2,321.0 L921.0,321.0 L921.8,321.0 L922.5,321.0 L923.3,321.0 L924.1,321.0 L924.9,321.0 L925.7,321.0 L926.4,321.1 L927.2,321.1 L928.0,321.1 L928.8,321.1 L929.5,321.1 L930.3,321.1 L931.1,321.1 L931.9,321.1 L932.7,321.1 L933.4,321.1 L934.2,321.1 L935.0,321.1 L935.8,321.1 L936.6,321.1 L937.4,321.1 L938.1,321.1 L938.9,321.1 L939.7,321.1 L940.5,321.1 L941.3,321.1 L942.1,321.1 L942.8,321.0 L943.6,321.0 L944.4,321.0 L945.2,321.0 L946.0,321.0 L946.0,321.0"/>
<path stroke="#008000" d="M189.5,320.3 L190.3,320.3 L191.0,320.3 L191.8,320.4 L192.6,320.4 L193.3,320.4 L194.1,320.4 L194.9,320.4 L195.7,320.4 L196.4,320.4 L197.2,320.4 L198.0,320.4 L198.7,320.3 L199.5,320.3 L200.3,320.3 L201.0,320.3 L201.8,320.2 L202.6,320.2 L203.3,320.2 L204.1,320.1 L204.9,320.1 L205.6,320.1 L206.4,320.0 L207.2,320.0 L207.9,319.9 L208.7,319.9 L209.5,319.8 L210.3,319.8 L211.0,319.7 L211.8,319.7 L212.6,319.6 L213.3,319.5 L214.1,319.5 L214.9,319.4 L215.6,319.4 L216.4,319.3 L217.2,319.2 L217.9,319.2 L218.7,319.1 L219.5,319.0 L220.2,319.0 L221.0,318.9 L221.8,318.8 L222.5,318.8 L223.3,318.7 L224.1,318.6 L224.9,318.6 L225.6,318.5 L226.4,318.4 L227.2,318.4 L227.9,318.3 L228.7,318.2 L229.5,318.2 L230.2,318.1 L231.0,318.0 L231.8,318.0 L232.5,317.9 L233.3,317.9 L234.1,317.8 L234.8,317.7 L235.6,317.7 L236.4,317.6 L237.1,317.6 L237.9,317.5 L238.7,317.5 L239.4,317.4 L240.2,317.4 L241.0,317.3 L241.7,317.3 L242.5,317.3 L243.3,317.2 L244.0,317.2 L244.8,317.2 L245.6,317.1 L246.4,317.1 L247.1,317.1 L247.9,317.1 L248.7,317.1 L249.4,317.0 L250.2,317.0 L251.0,317.0 L251.7,317.0 L252.5,317.0 L253.3,317.0 L254.0,317.0 L254.8,317.0 L255.6,317.1 L256.3,317.1 L257.1,317.1 L257.9,317.1 L258.6,317.1 L259.4,317.1 L260.2,317.2 L260.9,317.2 L261.7,317.2 L262.5,317.3 L263.2,317.3 L264.0,317.3 L264.8,317.4 L265.6,317.4 L266.3,317.5 L267.1,317.5 L267.9,317.5 L268.6,317.6 L269.4,317.6 L270.2,317.7 L270.9,317.7 L271.7,317.8 L272.5,317.9 L273.2,317.9 L274.0,318.0 L274.8,318.0 L275.5,318.1 L276.3,318.1 L277.1,318.2 L277.8,318.3 L278.6,318.3 L279.4,318.4 L280.1,318.4 L280.9,318.5 L281.7,318.6 L282.4,318.6 L283.2,318.7 L284.0,318.7 L284.8,318.8 L285.5,318.9 L286.3,318.9 L287.1,319.0 L287.8,319.1 L288.6,319.1 L289.4,319.2 L290.1,319.3 L290.9,319.3 L291.7,319.4 L292.4,319.4 L293.2,319.5 L294.0,319.6 L294.7,319.6 L295.5,319.7 L296.3,319.7 L297.0,319.8 L297.8,319.8 L298.6,319.9 L299.3,319.9 L300.1,320.0 L300.9,320.0 L301.6,320.1 L302.4,320.1 L303.2,320.2 L303.9,320.2 L304.7,320.3 L305.5,320.3 L306.2,320.3 L307.0,320.4 L307.8,320.4 L308.5,320.5 L309.3,320.5 L310.1,320.5 L310.9,320.6 L311.6,320.6 L312.4,320.6 L313.2,320.7 L313.9,320.7 L314.7,320.7 L315.5,320.8 L316.2,320.8 L317.0,320.8 L317.8,320.8 L318.5,320.9 L319.3,320.9 L320.1,320.9 L320.8,320.9 L321.6,320.9 L322.4,321.0 L323.1,321.0 L323.9,321.0 L324.7,321.0 L325.4,321.0 L326.2,321.1 L327.0,321.1 L327.7,321.1 L328.5,321.1 L329.3,321.1 L330.0,321.1 L330.8,321.1 L331.6,321.1 L332.3,321.2 L333.1,321.2 L333.9,321.2 L334.6,321.2 L335.4,321.2 L336.2,321.2 L336.9,321.2 L337.7,321.2 L338.5,321.2 L339.2,321.2 L340.0,321.2 L340.8,321.2 L341.5,321.2 L342.3,321.2 L343.1,321.2 L343.8,321.2 L344.6,321.3 L345.4,321.3 L346.1,321.3 L346.9,321.3 L347.7,321.3 L348.5,321.3 L349.2,321.3 L350.0,321.3 L350.8,321.3 L351.5,321.3 L352.3,321.2 L353.1,321.2 L353.8,321.2 L354.6,321.2 L355.4,321.2 L356.1,321.2 L356.9,321.2 L357.7,321.2 L358.4,321.2 L359.2,321.2 L360.0,321.2 L360.7,321.2 L361.5,321.2 L362.3,321.2 L363.0,321.2 L363.8,321.2 L364.6,321.2 L365.4,321.2 L366.1,321.2 L366.9,321.2 L367.7,321.2 L368.4,321.2 L369.2,321.2 L370.0,321.2 L370.7,321.2 L371.5,321.2 L372.3,321.2 L373.0,321.1 L373.8,321.1 L374.6,321.1 L375.3,321.1 L376.1,321.1 L376.9,321.1 L377.7,321.1 L378.4,321.1 L379.2,321.1 L380.0,321.1 L380.7,321.1 L381.5,321.1 L382.3,321.1 L383.0,321.1 L383.8,321.1 L384.6,321.1 L385.3,321.1 L386.1,321.1 L386.9,321.1 L387.7,321.1 L388.4,321.1 L389.2,321.1 L390.0,321.1 L390.7,321.1 L391.5,321.1 L392.3,321.1 L393.0,321.1 L393.8,321.1 L394.6,321.1 L395.4,321.1 L396.1,321.1 L396.9,321.1 L397.7,321.1 L398.4,321.1 L399.2,321.2 L400.0,321.2 L400.8,321.2 L401.5,321.2 L402.3,321.2 L403.1,321.2 L403.8,321.2 L404.6,321.2 L405.4,321.2 L406.2,321.2 L406.9,321.3 L407.7,321.3 L408.5,321.3 L409.2,321.3 L410.0,321.3 L410.8,321.3 L411.6,321.3 L412.3,321.3 L413.1,321.4 L413.9,321.4 L414.6,321.4 L415.4,321.4 L416.2,321.4 L417.0,321.4 L417.7,321.4 L418.5,321.5 L419.3,321.5 L420.0,321.5 L420.8,321.5 L421.6,321.5 L422.4,321.5 L423.1,321.5 L423.9,321.6 L424.7,321.6 L425.4,321.6 L426.2,321.6 L427.0,321.6 L427.8,321.6 L428.5,321.6 L429.3,321.6 L430.1,321.6 L430.8,321.7 L431.6,321.7 L432.4,321.7 L433.2,321.7 L433.9,321.7 L434.7,321.7 L435.5,321.7 L436.2,321.7 L437.0,321.7 L437.8,321.7 L438.6,321.7 L439.3,321.7 L440.1,321.7 L440.9,321.7 L441.6,321.7 L442.4,321.7 L443.2,321.7 L444.0,321.7 L444.7,321.7 L445.5,321.7 L446.3,321.7 L447.0,321.7 L447.8,321.7 L448.6,321.7 L449.3,321.7 L450.1,321.7 L450.9,321.7 L451.6,321.7 L452.4,321.6 L453.2,321.6 L454.0,321.6 L454.7,321.6 L455.5,321.6 L456.3,321.6 L457.0,321.5 L457.8,321.5 L458.6,321.5 L459.3,321.5 L460.1,321.4 L460.9,321.4 L461.6,321.4 L462.4,321.4 L463.2,321.3 L463.9,321.3 L464.7,321.2 L465.5,321.2 L466.2,321.2 L467.0,321.1 L467.8,321.1 L468.5,321.0 L469.3,321.0 L470.1,320.9 L470.8,320.9 L471.6,320.8 L472.4,320.8 L473.1,320.7 L473.9,320.7 L474.6,320.6 L475.4,320.5 L476.2,320.5 L476.9,320.4 L477.7,320.3 L478.5,320.3 L479.2,320.2 L480.0,320.1 L480.7,320.1 L481.5,320.0 L482.3,319.9 L483.0,319.8 L483.8,319.7 L484.5,319.6 L485.3,319.5 L486.1,319.4 L486.8,319.4 L487.6,319.3 L488.3,319.2 L489.1,319.0 L489.9,318.9 L490.6,318.8 L491.4,318.7 L492.1,318.6 L492.9,318.5 L493.7,318.4 L494.4,318.3 L495.2,318.1 L495.9,318.0 L496.7,317.9 L497.4,317.7 L498.2,317.6 L498.9,317.5 L499.7,317.3 L500.5,317.2 L501.2,317.0 L502.0,316.9 L502.7,316.7 L503.5,316.6 L504.2,316.4 L505.0,316.3 L505.7,316.1 L506.5,315.9 L507.2,315.7 L508.0,315.6 L508.7,315.4 L509.5,315.2 L510.2,315.0 L510.9,314.8 L511.7,314.6 L512.4,314.4 L513.1,314.2 L513.9,314.0 L514.6,313.7 L515.3,313.5 L516.1,313.2 L516.8,313.0 L517.5,312.7 L518.2,312.5 L518.9,312.2 L519.6,311.9 L520.3,311.6 L521.0,311.3 L521.7,311.0 L522.4,310.7 L523.0,310.4 L523.7,310.0 L524.4,309.7 L525.0,309.3 L525.7,308.9 L526.3,308.6 L527.0,308.2 L527.6,307.8 L528.2,307.3 L528.9,306.9 L529.5,306.5 L530.1,306.0 L530.7,305.5 L531.3,305.1 L531.9,304.6 L532.5,304.1 L533.0,303.5 L533.6,303.0 L534.1,302.5 L534.7,301.9 L535.2,301.3 L535.8,300.8 L536.3,300.2 L536.8,299.6 L537.4,299.0 L537.9,298.4 L538.4,297.8 L538.9,297.2 L539.5,296.6 L540.0,296.0 L540.5,295.4 L541.0,294.8 L541.6,294.2 L542.1,293.6 L542.7,293.0 L543.2,292.4 L543.8,291.9 L544.4,291.3 L544.9,290.7 L545.5,290.2 L546.1,289.7 L546.7,289.2 L547.3,288.7 L548.0,288.2 L548.6,287.8 L549.3,287.3 L549.9,286.9 L550.6,286.5 L551.3,286.1 L552.0,285.7 L552.7,285.3 L553.4,284.9 L554.0,284.5 L554.7,284.2 L555.4,283.8 L556.1,283.4 L556.8,283.1 L557.5,282.7 L558.2,282.3 L558.9,281.9 L559.5,281.5 L560.2,281.2 L560.9,280.8 L561.5,280.4 L562.1,279.9 L562.8,279.5 L563.4,279.1 L564.0,278.6 L564.5,278.1 L565.1,277.7 L565.7,277.2 L566.2,276.7 L566.7,276.2 L567.3,275.6 L567.8,275.1 L568.3,274.5 L568.8,274.0 L569.3,273.4 L569.7,272.9 L570.2,272.3 L570.7,271.7 L571.1,271.1 L571.6,270.5 L572.0,269.8 L572.4,269.2 L572.8,268.6 L573.3,268.0 L573.7,267.3 L574.1,266.7 L574.5,266.0 L574.9,265.3 L575.3,264.7 L575.6,264.0 L576.0,263.3 L576.4,262.7 L576.8,262.0 L577.2,261.3 L577.5,260.6 L577.9,259.9 L578.3,259.2 L578.7,258.5 L579.0,257.8 L579.4,257.1 L579.8,256.4 L580.2,255.7 L580.5,255.0 L580.9,254.3 L581.3,253.6 L581.7,252.9 L582.1,252.2 L582.4,251.5 L582.8,250.8 L583.2,250.1 L583.6,249.4 L584.0,248.7 L584.4,248.1 L584.8,247.4 L585.3,246.7 L585.7,246.1 L586.1,245.4 L586.6,244.8 L587.0,244.1 L587.4,243.5 L587.9,242.9 L588.4,242.3 L588.8,241.7 L589.3,241.1 L589.8,240.5 L590.3,240.0 L590.8,239.4 L591.4,238.9 L591.9,238.4 L592.4,237.9 L593.0,237.4 L593.5,237.0 L594.1,236.5 L594.7,236.1 L595.3,235.7 L595.9,235.4 L596.6,235.0 L597.2,234.7 L597.8,234.4 L598.5,234.1 L599.2,233.8 L599.9,233.6 L600.6,233.4 L601.3,233.2 L602.1,233.0 L602.8,232.9 L603.6,232.8 L604.4,232.7 L605.2,232.7 L606.0,232.7 L606.9,232.6 L607.7,232.6 L608.5,232.6 L609.4,232.6 L610.2,232.6 L611.0,232.6 L611.9,232.6 L612.7,232.6 L613.5,232.5 L614.3,232.4 L615.1,232.3 L615.8,232.2 L616.6,232.0 L617.3,231.8 L618.0,231.5 L618.7,231.2 L619.4,230.9 L620.1,230.6 L620.7,230.2 L621.4,229.9 L622.0,229.4 L622.6,229.0 L623.2,228.6 L623.8,228.1 L624.3,227.6 L624.9,227.1 L625.4,226.6 L626.0,226.1 L626.5,225.5 L627.0,225.0 L627.5,224.4 L628.0,223.9 L628.5,223.3 L629.0,222.7 L629.5,222.1 L630.0,221.5 L630.4,220.9 L630.9,220.3 L631.3,219.7 L631.8,219.0 L632.2,218.4 L632.6,217.8 L633.0,217.1 L633.4,216.5 L633.8,215.8 L634.2,215.1 L634.6,214.5 L635.0,213.8 L635.4,213.1 L635.8,212.4 L636.2,211.8 L636.5,211.1 L636.9,210.4 L637.3,209.7 L637.6,209.0 L638.0,208.3 L638.3,207.6 L638.6,206.9 L639.0,206.2 L639.3,205.5 L639.6,204.7 L640.0,204.0 L640.3,203.3 L640.6,202.6 L640.9,201.9 L641.3,201.2 L641.6,200.4 L641.9,199.7 L642.2,199.0 L642.5,198.3 L642.8,197.6 L643.1,196.9 L643.5,196.1 L643.8,195.4 L644.1,194.7 L644.4,194.0 L644.7,193.3 L645.0,192.6 L645.3,191.9 L645.6,191.2 L645.9,190.5 L646.2,189.8 L646.5,189.1 L646.9,188.4 L647.2,187.7 L647.5,187.1 L647.8,186.4 L648.1,185.7 L648.4,185.0 L648.8,184.4 L649.1,183.7 L649.4,183.1 L649.7,182.4 L650.1,181.7 L650.4,181.1 L650.7,180.4 L651.1,179.8 L651.4,179.1 L651.7,178.5 L652.1,177.8 L652.4,177.1 L652.7,176.5 L653.1,175.8 L653.4,175.2 L653.8,174.5 L654.1,173.8 L654.5,173.2 L654.8,172.5 L655.1,171.8 L655.5,171.1 L655.8,170.4 L656.2,169.7 L656.5,169.0 L656.9,168.3 L657.3,167.6 L657.6,166.9 L658.0,166.1 L658.3,165.4 L658.7,164.7 L659.0,163.9 L659.4,163.2 L659.8,162.5 L660.2,161.8 L660.6,161.1 L661.0,160.4 L661.5,159.7 L661.9,159.1 L662.4,158.4 L662.9,157.9 L663.5,157.3 L664.0,156.8 L664.6,156.3 L665.2,155.8 L665.9,155.4 L666.5,155.1 L667.2,154.8 L668.0,154.6 L668.7,154.6 L669.4,154.6 L670.2,154.8 L670.9,155.1 L671.6,155.4 L672.2,155.8 L672.7,156.3 L673.3,156.8 L673.8,157.3 L674.2,157.9 L674.6,158.6 L675.0,159.3 L675.4,160.0 L675.8,160.7 L676.1,161.4 L676.4,162.2 L676.7,162.9 L677.1,163.7 L677.4,164.5 L677.7,165.2 L678.0,166.0 L678.3,166.7 L678.6,167.5 L678.9,168.2 L679.2,168.9 L679.5,169.7 L679.8,170.4 L680.1,171.1 L680.4,171.8 L680.7,172.6 L680.9,173.3 L681.2,174.0 L681.5,174.7 L681.8,175.4 L682.1,176.1 L682.4,176.8 L682.7,177.5 L683.0,178.3 L683.2,179.0 L683.5,179.7 L683.8,180.4 L684.1,181.1 L684.4,181.8 L684.7,182.4 L684.9,183.1 L685.2,183.8 L685.5,184.5 L685.8,185.2 L686.0,185.9 L686.3,186.6 L686.6,187.3 L686.9,188.0 L687.1,188.7 L687.4,189.4 L687.7,190.1 L687.9,190.8 L688.2,191.5 L688.5,192.2 L688.7,192.9 L689.0,193.6 L689.2,194.3 L689.5,195.0 L689.8,195.7 L690.0,196.4 L690.3,197.1 L690.5,197.8 L690.8,198.5 L691.0,199.2 L691.3,199.9 L691.6,200.7 L691.8,201.4 L692.1,202.1 L692.3,202.8 L692.6,203.6 L692.8,204.3 L693.1,205.0 L693.3,205.8 L693.6,206.5 L693.8,207.3 L694.0,208.0 L694.3,208.7 L694.5,209.5 L694.8,210.2 L695.1,211.0 L695.3,211.7 L695.6,212.5 L695.8,213.2 L696.1,214.0 L696.3,214.7 L696.6,215.5 L696.9,216.2 L697.2,217.0 L697.4,217.7 L697.7,218.4 L698.0,219.2 L698.3,219.9 L698.6,220.6 L698.9,221.4 L699.2,222.1 L699.5,222.8 L699.8,223.5 L700.2,224.2 L700.5,224.9 L700.9,225.6 L701.2,226.3 L701.6,227.0 L701.9,227.7 L702.3,228.3 L702.7,229.0 L703.1,229.6 L703.5,230.3 L703.9,230.9 L704.3,231.6 L704.7,232.2 L705.1,232.8 L705.6,233.4 L706.0,234.0 L706.5,234.6 L707.0,235.2 L707.5,235.7 L708.0,236.3 L708.5,236.9 L709.0,237.4 L709.6,237.9 L710.1,238.4 L710.7,238.9 L711.2,239.4 L711.8,239.9 L712.4,240.4 L713.0,240.9 L713.6,241.3 L714.2,241.8 L714.8,242.3 L715.4,242.7 L716.1,243.2 L716.7,243.6 L717.3,244.1 L717.9,244.5 L718.5,245.0 L719.2,245.5 L719.8,245.9 L720.4,246.4 L721.0,246.8 L721.7,247.3 L722.3,247.8 L722.9,248.3 L723.5,248.8 L724.1,249.3 L724.6,249.8 L725.2,250.3 L725.8,250.8 L726.4,251.4 L726.9,251.9 L727.5,252.5 L728.0,253.0 L728.5,253.6 L729.1,254.1 L729.6,254.7 L730.1,255.3 L730.7,255.8 L731.2,256.4 L731.8,256.9 L732.3,257.5 L732.9,258.0 L733.4,258.5 L734.0,259.0 L734.5,259.5 L735.1,260.0 L735.7,260.5 L736.3,261.0 L736.9,261.4 L737.5,261.8 L738.2,262.2 L738.8,262.6 L739.5,263.0 L740.1,263.3 L740.8,263.7 L741.5,264.0 L742.2,264.3 L742.9,264.6 L743.6,264.9 L744.3,265.1 L745.0,265.4 L745.7,265.7 L746.5,265.9 L747.2,266.2 L747.9,266.5 L748.6,266.7 L749.4,267.0 L750.1,267.2 L750.8,267.5 L751.5,267.7 L752.2,268.0 L752.9,268.3 L753.6,268.5 L754.3,268.8 L755.0,269.1 L755.7,269.4 L756.3,269.8 L757.0,270.1 L757.6,270.5 L758.3,270.8 L758.9,271.2 L759.5,271.6 L760.1,272.1 L760.6,272.5 L761.2,273.0 L761.7,273.5 L762.2,274.0 L762.8,274.5 L763.3,275.0 L763.7,275.6 L764.2,276.2 L764.7,276.8 L765.1,277.4 L765.6,278.0 L766.0,278.6 L766.4,279.2 L766.8,279.9 L767.2,280.6 L767.6,281.2 L768.0,281.9 L768.4,282.6 L768.8,283.3 L769.2,284.0 L769.5,284.7 L769.9,285.5 L770.3,286.2 L770.6,286.9 L771.0,287.6 L771.3,288.4 L771.7,289.1 L772.1,289.8 L772.4,290.6 L772.8,291.3 L773.1,292.0 L773.5,292.8 L773.9,293.5 L774.2,294.2 L774.6,294.9 L775.0,295.6 L775.4,296.3 L775.8,297.0 L776.2,297.7 L776.6,298.4 L777.0,299.1 L777.4,299.8 L777.8,300.4 L778.3,301.1 L778.7,301.7 L779.2,302.3 L779.6,302.9 L780.1,303.5 L780.6,304.1 L781.1,304.7 L781.6,305.2 L782.2,305.7 L782.7,306.3 L783.2,306.8 L783.8,307.3 L784.4,307.8 L785.0,308.2 L785.5,308.7 L786.1,309.1 L786.8,309.6 L787.4,310.0 L788.0,310.4 L788.6,310.8 L789.3,311.2 L789.9,311.5 L790.6,311.9 L791.2,312.3 L791.9,312.6 L792.6,312.9 L793.3,313.3 L794.0,313.6 L794.6,313.9 L795.3,314.2 L796.1,314.4 L796.8,314.7 L797.5,315.0 L798.2,315.2 L798.9,315.5 L799.6,315.7 L800.4,316.0 L801.1,316.2 L801.9,316.4 L802.6,316.6 L803.3,316.8 L804.1,317.0 L804.8,317.2 L805.6,317.3 L806.3,317.5 L807.1,317.7 L807.8,317.8 L808.6,318.0 L809.3,318.1 L810.1,318.3 L810.8,318.4 L811.6,318.5 L812.4,318.7 L813.1,318.8 L813.9,318.9 L814.6,319.0 L815.4,319.1 L816.2,319.2 L816.9,319.3 L817.7,319.4 L818.4,319.4 L819.2,319.5 L820.0,319.6 L820.7,319.7 L821.5,319.7 L822.3,319.8 L823.0,319.8 L823.8,319.9 L824.6,319.9 L825.3,320.0 L826.1,320.0 L826.9,320.1 L827.6,320.1 L828.4,320.1 L829.2,320.2 L829.9,320.2 L830.7,320.2 L831.5,320.2 L832.2,320.2 L833.0,320.3 L833.8,320.3 L834.5,320.3 L835.3,320.3 L836.1,320.3 L836.9,320.3 L837.6,320.3 L838.4,320.3 L839.2,320.3 L839.9,320.3 L840.7,320.3 L841.5,320.3 L842.3,320.3 L843.0,320.3 L843.8,320.3 L844.6,320.3 L845.4,320.2 L846.1,320.2 L846.9,320.2 L847.7,320.2 L848.4,320.2 L849.2,320.2 L850.0,320.2 L850.8,320.2 L851.5,320.2 L852.3,320.2 L853.1,320.1 L853.9,320.1 L854.6,320.1 L855.4,320.1 L856.2,320.1 L856.9,320.1 L857.7,320.1 L858.5,320.1 L859.3,320.1 L860.0,320.1 L860.8,320.1 L861.6,320.1 L862.3,320.1 L863.1,320.1 L863.9,320.1 L864.7,320.1 L865.4,320.1 L866.2,320.1 L867.0,320.1 L867.7,320.1 L868.5,320.1 L869.3,320.1 L870.0,320.1 L870.8,320.1 L871.6,320.1 L872.4,320.1 L873.1,320.1 L873.9,320.1 L874.7,320.1 L875.4,320.1 L876.2,320.1 L877.0,320.2 L877.7,320.2 L878.5,320.2 L879.3,320.2 L880.0,320.2 L880.8,320.2 L881.6,320.2 L882.3,320.2 L883.1,320.2 L883.9,320.2 L884.7,320.3 L885.4,320.3 L886.2,320.3 L887.0,320.3 L887.7,320.3 L888.5,320.3 L889.3,320.3 L890.0,320.3 L890.8,320.4 L891.6,320.4 L892.3,320.4 L893.1,320.4 L893.9,320.4 L894.6,320.4 L895.4,320.4 L896.2,320.5 L896.9,320.5 L897.7,320.5 L898.5,320.5 L899.2,320.5 L900.0,320.5 L900.8,320.5 L901.5,320.6 L902.3,320.6 L903.1,320.6 L903.8,320.6 L904.6,320.6 L905.4,320.6 L906.2,320.7 L906.9,320.7 L907.7,320.7 L908.5,320.7 L909.2,320.7 L910.0,320.7 L910.8,320.7 L911.5,320.8 L912.3,320.8 L913.1,320.8 L913.8,320.8 L914.6,320.8 L915.4,320.8 L916.1,320.8 L916.9,320.8 L917.7,320.9 L918.4,320.9 L919.2,320.9 L920.0,320.9 L920.7,320.9 L921.5,320.9 L922.3,320.9 L923.1,320.9 L923.8,320.9 L924.6,320.9 L925.4,321.0 L926.1,321.0 L926.9,321.0 L927.7,321.0 L928.4,321.0 L929.2,321.0 L930.0,321.0 L930.7,321.0 L931.5,321.0 L932.3,321.0 L933.1,321.0 L933.8,321.0 L934.6,321.0 L935.4,321.0 L936.1,321.0 L936.9,321.0 L937.7,321.0 L938.4,321.0 L939.2,321.0 L940.0,321.0 L940.8,321.0 L941.5,321.0 L942.3,321.0 L943.1,321.0 L943.8,321.0 L944.6,321.0 L945.4,321.0 L946.0,321.0"/>
<path stroke="#000080" d="M189.5,321.3 L190.4,321.2 L191.2,321.0 L192.1,321.0 L192.9,320.9 L193.8,320.8 L194.7,320.7 L195.5,320.6 L196.4,320.5 L197.3,320.4 L198.1,320.3 L199.0,320.2 L199.8,320.1 L200.7,320.0 L201.6,320.0 L202.4,319.9 L203.3,319.8 L204.1,319.7 L205.0,319.6 L205.9,319.6 L206.7,319.5 L207.6,319.4 L208.5,319.4 L209.3,319.3 L210.2,319.2 L211.0,319.2 L211.9,319.1 L212.8,319.0 L213.6,319.0 L214.5,318.9 L215.3,318.8 L216.2,318.8 L217.1,318.7 L217.9,318.7 L218.8,318.6 L219.6,318.6 L220.5,318.5 L221.4,318.5 L222.2,318.4 L223.1,318.4 L224.0,318.3 L224.8,318.3 L225.7,318.2 L226.5,318.2 L227.4,318.1 L228.3,318.1 L229.1,318.1 L230.0,318.0 L230.8,318.0 L231.7,317.9 L232.6,317.9 L233.4,317.9 L234.3,317.8 L235.2,317.8 L236.0,317.8 L236.9,317.8 L237.7,317.7 L238.6,317.7 L239.5,317.7 L240.3,317.6 L241.2,317.6 L242.0,317.6 L242.9,317.6 L243.8,317.6 L244.6,317.5 L245.5,317.5 L246.4,317.5 L247.2,317.5 L248.1,317.5 L248.9,317.4 L249.8,317.4 L250.7,317.4 L251.5,317.4 L252.4,317.4 L253.2,317.4 L254.1,317.4 L255.0,317.4 L255.8,317.3 L256.7,317.3 L257.6,317.3 L258.4,317.3 L259.3,317.3 L260.1,317.3 L261.0,317.3 L261.9,317.3 L262.7,317.3 L263.6,317.3 L264.4,317.3 L265.3,317.3 L266.2,317.3 L267.0,317.3 L267.9,317.3 L268.8,317.3 L269.6,317.3 L270.5,317.3 L271.3,317.3 L272.2,317.3 L273.1,317.3 L273.9,317.3 L274.8,317.3 L275.7,317.3 L276.5,317.4 L277.4,317.4 L278.2,317.4 L279.1,317.4 L280.0,317.4 L280.8,317.4 L281.7,317.4 L282.6,317.4 L283.4,317.4 L284.3,317.4 L285.1,317.5 L286.0,317.5 L286.9,317.5 L287.7,317.5 L288.6,317.5 L289.4,317.5 L290.3,317.5 L291.2,317.6 L292.0,317.6 L292.9,317.6 L293.8,317.6 L294.6,317.6 L295.5,317.6 L296.3,317.7 L297.2,317.7 L298.1,317.7 L298.9,317.7 L299.8,317.7 L300.7,317.8 L301.5,317.8 L302.4,317.8 L303.2,317.8 L304.1,317.8 L305.0,317.9 L305.8,317.9 L306.7,317.9 L307.6,317.9 L308.4,317.9 L309.3,318.0 L310.2,318.0 L311.0,318.0 L311.9,318.0 L312.7,318.1 L313.6,318.1 L314.5,318.1 L315.3,318.1 L316.2,318.1 L317.1,318.2 L317.9,318.2 L318.8,318.2 L319.6,318.2 L320.5,318.3 L321.4,318.3 L322.2,318.3 L323.1,318.3 L324.0,318.3 L324.8,318.4 L325.7,318.4 L326.6,318.4 L327.4,318.4 L328.3,318.5 L329.1,318.5 L330.0,318.5 L330.9,318.5 L331.7,318.6 L332.6,318.6 L333.5,318.6 L334.3,318.6 L335.2,318.7 L336.1,318.7 L336.9,318.7 L337.8,318.7 L338.6,318.7 L339.5,318.8 L340.4,318.8 L341.2,318.8 L342.1,318.8 L343.0,318.9 L343.8,318.9 L344.7,318.9 L345.6,318.9 L346.4,319.0 L347.3,319.0 L348.1,319.0 L349.0,319.0 L349.9,319.1 L350.7,319.1 L351.6,319.1 L352.5,319.1 L353.3,319.1 L354.2,319.2 L355.0,319.2 L355.9,319.2 L356.8,319.2 L357.6,319.3 L358.5,319.3 L359.4,319.3 L360.2,319.3 L361.1,319.3 L362.0,319.4 L362.8,319.4 L363.7,319.4 L364.5,319.4 L365.4,319.5 L366.3,319.5 L367.1,319.5 L368.0,319.5 L368.9,319.5 L369.7,319.6 L370.6,319.6 L371.5,319.6 L372.3,319.6 L373.2,319.6 L374.0,319.7 L374.9,319.7 L375.8,319.7 L376.6,319.7 L377.5,319.7 L378.4,319.8 L379.2,319.8 L380.1,319.8 L381.0,319.8 L381.8,319.8 L382.7,319.8 L383.5,319.9 L384.4,319.9 L385.3,319.9 L386.1,319.9 L387.0,319.9 L387.9,319.9 L388.7,320.0 L389.6,320.0 L390.4,320.0 L391.3,320.0 L392.2,320.0 L393.0,320.0 L393.9,320.0 L394.8,320.1 L395.6,320.1 L396.5,320.1 L397.3,320.1 L398.2,320.1 L399.1,320.1 L399.9,320.1 L400.8,320.2 L401.7,320.2 L402.5,320.2 L403.4,320.2 L404.2,320.2 L405.1,320.2 L406.0,320.2 L406.8,320.2 L407.7,320.2 L408.6,320.2 L409.4,320.3 L410.3,320.3 L411.1,320.3 L412.0,320.3 L412.9,320.3 L413.7,320.3 L414.6,320.3 L415.5,320.3 L416.3,320.3 L417.2,320.3 L418.0,320.3 L418.9,320.3 L419.8,320.3 L420.6,320.3 L421.5,320.3 L422.3,320.3 L423.2,320.3 L424.1,320.3 L424.9,320.3 L425.8,320.3 L426.6,320.3 L427.5,320.3 L428.4,320.3 L429.2,320.3 L430.1,320.3 L431.0,320.3 L431.8,320.3 L432.7,320.3 L433.5,320.3 L434.4,320.3 L435.3,320.3 L436.1,320.3 L437.0,320.3 L437.8,320.3 L438.7,320.3 L439.6,320.3 L440.4,320.3 L441.3,320.3 L442.1,320.2 L443.0,320.2 L443.9,320.2 L444.7,320.2 L445.6,320.2 L446.4,320.2 L447.3,320.1 L448.2,320.1 L449.0,320.1 L449.9,320.1 L450.7,320.0 L451.6,320.0 L452.5,320.0 L453.3,320.0 L454.2,319.9 L455.1,319.9 L455.9,319.9 L456.8,319.8 L457.6,319.8 L458.5,319.7 L459.4,319.7 L460.2,319.7 L461.1,319.6 L462.0,319.6 L462.8,319.5 L463.7,319.5 L464.5,319.4 L465.4,319.4 L466.3,319.3 L467.1,319.2 L468.0,319.2 L468.9,319.1 L469.7,319.0 L470.6,319.0 L471.4,318.9 L472.3,318.8 L473.2,318.8 L474.0,318.7 L474.9,318.6 L475.8,318.5 L476.6,318.4 L477.5,318.3 L478.4,318.3 L479.2,318.2 L480.1,318.1 L481.0,318.0 L481.8,317.9 L482.7,317.8 L483.6,317.7 L484.4,317.5 L485.1,317.5 L485.8,317.4 L486.5,317.3 L487.2,317.2 L487.9,317.1 L488.6,317.0 L489.3,316.9 L490.0,316.8 L490.7,316.7 L491.4,316.5 L492.1,316.4 L492.8,316.3 L493.6,316.2 L494.5,316.0 L495.3,315.8 L496.2,315.7 L497.0,315.5 L497.9,315.3 L498.7,315.1 L499.6,314.9 L500.4,314.7 L501.2,314.5 L502.1,314.2 L502.9,314.0 L503.7,313.8 L504.5,313.5 L505.3,313.2 L506.1,313.0 L506.9,312.7 L507.7,312.4 L508.5,312.1 L509.3,311.7 L510.0,311.4 L510.8,311.0 L511.6,310.7 L512.3,310.3 L513.0,309.9 L513.8,309.5 L514.5,309.1 L515.2,308.7 L515.9,308.2 L516.6,307.7 L517.3,307.3 L517.9,306.8 L518.6,306.3 L519.3,305.7 L519.9,305.2 L520.5,304.7 L521.2,304.1 L521.8,303.5 L522.4,302.9 L523.0,302.3 L523.6,301.7 L524.2,301.1 L524.8,300.5 L525.3,299.8 L525.9,299.2 L526.5,298.5 L527.0,297.8 L527.5,297.1 L528.1,296.5 L528.5,295.9 L528.9,295.3 L529.3,294.8 L529.7,294.2 L530.1,293.6 L530.5,293.0 L530.9,292.4 L531.3,291.8 L531.7,291.2 L532.1,290.6 L532.5,290.0 L532.8,289.4 L533.2,288.8 L533.6,288.2 L533.9,287.6 L534.3,287.0 L534.7,286.4 L535.0,285.7 L535.4,285.1 L535.7,284.5 L536.1,283.8 L536.4,283.2 L536.7,282.6 L537.1,281.9 L537.4,281.3 L537.7,280.7 L538.0,280.0 L538.4,279.4 L538.7,278.8 L539.0,278.1 L539.3,277.5 L539.6,276.8 L539.9,276.2 L540.2,275.6 L540.5,274.9 L540.8,274.3 L541.1,273.7 L541.5,272.9 L541.8,272.1 L542.2,271.3 L542.6,270.5 L542.9,269.7 L543.3,269.0 L543.7,268.2 L544.1,267.4 L544.5,266.7 L544.9,265.9 L545.3,265.2 L545.7,264.4 L546.1,263.7 L546.5,263.0 L546.9,262.2 L547.4,261.5 L547.8,260.8 L548.3,260.1 L548.8,259.5 L549.3,258.8 L549.8,258.1 L550.3,257.5 L550.9,256.8 L551.5,256.2 L552.1,255.6 L552.7,255.0 L553.3,254.4 L554.0,253.8 L554.5,253.4 L555.1,252.9 L555.6,252.5 L556.2,252.1 L557.0,251.7 L557.8,251.4 L558.6,251.2 L559.4,251.2 L560.1,251.2 L560.8,251.4 L561.5,251.6 L562.2,251.8 L562.8,252.2 L563.6,252.6 L564.3,253.1 L564.9,253.6 L565.6,254.2 L566.1,254.8 L566.7,255.4 L567.3,256.1 L567.8,256.8 L568.3,257.5 L568.9,258.2 L569.3,258.7 L569.7,259.3 L570.2,259.8 L570.6,260.3 L571.1,260.9 L571.6,261.4 L572.1,261.9 L572.7,262.4 L573.2,262.8 L573.8,263.3 L574.4,263.7 L575.0,264.1 L575.6,264.5 L576.2,264.8 L576.8,265.2 L577.5,265.5 L578.1,265.8 L578.9,266.1 L579.7,266.4 L580.5,266.6 L581.4,266.9 L582.2,267.0 L583.0,267.1 L583.8,267.2 L584.6,267.3 L585.5,267.3 L586.3,267.2 L587.1,267.2 L587.9,267.0 L588.7,266.9 L589.5,266.7 L590.3,266.5 L591.1,266.3 L591.9,266.0 L592.7,265.7 L593.4,265.3 L594.2,265.0 L595.0,264.6 L595.7,264.2 L596.5,263.7 L597.2,263.3 L597.8,262.9 L598.4,262.5 L599.0,262.1 L599.5,261.7 L600.1,261.2 L600.7,260.8 L601.2,260.3 L601.8,259.9 L602.3,259.4 L602.8,258.9 L603.3,258.4 L603.9,257.9 L604.4,257.4 L604.9,256.9 L605.4,256.4 L605.9,255.9 L606.3,255.3 L606.8,254.8 L607.3,254.3 L607.7,253.7 L608.2,253.2 L608.6,252.6 L609.1,251.9 L609.7,251.2 L610.2,250.5 L610.7,249.8 L611.2,249.1 L611.6,248.4 L612.1,247.7 L612.6,246.9 L613.0,246.2 L613.4,245.5 L613.9,244.7 L614.3,244.0 L614.7,243.2 L615.1,242.5 L615.5,241.7 L615.9,241.0 L616.3,240.2 L616.7,239.5 L617.1,238.7 L617.4,237.9 L617.8,237.1 L618.2,236.4 L618.5,235.6 L618.9,234.8 L619.2,234.0 L619.5,233.3 L619.9,232.5 L620.2,231.7 L620.6,230.9 L620.9,230.1 L621.2,229.3 L621.6,228.5 L621.9,227.7 L622.2,226.9 L622.6,226.1 L622.9,225.4 L623.2,224.6 L623.5,223.8 L623.9,223.0 L624.2,222.2 L624.5,221.4 L624.8,220.6 L625.2,219.8 L625.5,219.0 L625.8,218.2 L626.2,217.4 L626.5,216.6 L626.8,215.8 L627.1,215.0 L627.4,214.2 L627.8,213.4 L628.1,212.6 L628.4,211.8 L628.7,211.0 L629.0,210.2 L629.4,209.4 L629.7,208.6 L630.0,207.8 L630.3,207.0 L630.6,206.2 L630.9,205.4 L631.2,204.6 L631.5,203.7 L631.8,202.9 L632.1,202.1 L632.4,201.3 L632.7,200.5 L633.0,199.7 L633.3,198.9 L633.6,198.1 L633.9,197.3 L634.2,196.4 L634.5,195.6 L634.8,194.8 L635.1,194.0 L635.4,193.2 L635.7,192.4 L635.9,191.5 L636.2,190.7 L636.5,189.9 L636.8,189.1 L637.0,188.3 L637.3,187.4 L637.6,186.6 L637.8,185.8 L638.1,185.0 L638.4,184.1 L638.6,183.3 L638.9,182.5 L639.1,181.7 L639.4,180.8 L639.6,180.0 L639.9,179.2 L640.1,178.3 L640.3,177.5 L640.6,176.7 L640.8,175.8 L641.0,175.0 L641.3,174.2 L641.5,173.3 L641.7,172.5 L641.9,171.7 L642.1,170.8 L642.4,170.0 L642.6,169.1 L642.8,168.3 L643.0,167.5 L643.2,166.6 L643.4,165.8 L643.6,164.9 L643.8,164.1 L644.0,163.2 L644.2,162.4 L644.3,161.5 L644.5,160.7 L644.7,159.9 L644.9,159.0 L645.1,158.2 L645.3,157.3 L645.5,156.5 L645.7,155.6 L645.9,154.8 L646.1,154.0 L646.3,153.1 L646.5,152.3 L646.7,151.4 L646.9,150.6 L647.1,149.8 L647.3,148.9 L647.5,148.1 L647.7,147.3 L647.9,146.5 L648.1,145.6 L648.4,144.8 L648.6,144.0 L648.8,143.1 L649.0,142.3 L649.3,141.5 L649.5,140.7 L649.7,139.9 L650.0,139.1 L650.2,138.3 L650.5,137.4 L650.8,136.6 L651.0,135.8 L651.3,135.0 L651.6,134.2 L651.9,133.4 L652.2,132.6 L652.5,131.9 L652.8,131.1 L653.1,130.3 L653.4,129.5 L653.7,128.7 L654.0,127.9 L654.4,127.1 L654.7,126.3 L655.1,125.5 L655.4,124.8 L655.8,124.0 L656.1,123.2 L656.5,122.4 L656.8,121.8 L657.1,121.1 L657.4,120.5 L657.8,119.9 L658.1,119.2 L658.4,118.6 L658.8,117.9 L659.1,117.3 L659.4,116.7 L659.8,116.0 L660.2,115.4 L660.6,114.8 L661.0,114.2 L661.4,113.6 L661.9,113.1 L662.4,112.6 L663.1,112.0 L663.8,111.6 L664.5,111.4 L665.2,111.5 L665.9,111.8 L666.5,112.3 L667.1,112.9 L667.5,113.5 L667.9,114.1 L668.2,114.8 L668.5,115.5 L668.8,116.2 L669.0,116.9 L669.3,117.6 L669.5,118.3 L669.8,119.0 L670.0,119.7 L670.3,120.4 L670.5,121.0 L670.8,121.7 L671.0,122.4 L671.4,123.2 L671.7,124.0 L672.0,124.8 L672.3,125.6 L672.6,126.4 L672.9,127.1 L673.2,127.9 L673.5,128.7 L673.8,129.5 L674.1,130.3 L674.4,131.1 L674.7,131.9 L674.9,132.7 L675.2,133.5 L675.5,134.3 L675.7,135.1 L676.0,135.9 L676.2,136.7 L676.4,137.5 L676.7,138.3 L676.9,139.2 L677.1,140.0 L677.3,140.8 L677.5,141.6 L677.7,142.5 L677.9,143.3 L678.1,144.1 L678.3,145.0 L678.5,145.8 L678.7,146.6 L678.9,147.5 L679.1,148.3 L679.2,149.1 L679.4,150.0 L679.6,150.8 L679.8,151.7 L679.9,152.5 L680.1,153.4 L680.3,154.2 L680.4,155.1 L680.6,155.9 L680.7,156.8 L680.9,157.6 L681.1,158.5 L681.2,159.3 L681.4,160.2 L681.5,161.0 L681.7,161.9 L681.8,162.7 L682.0,163.6 L682.2,164.4 L682.3,165.3 L682.5,166.2 L682.6,167.0 L682.8,167.9 L682.9,168.7 L683.1,169.6 L683.3,170.4 L683.4,171.3 L683.6,172.2 L683.7,173.0 L683.9,173.9 L684.0,174.7 L684.2,175.6 L684.4,176.4 L684.5,177.3 L684.7,178.2 L684.8,179.0 L685.0,179.9 L685.2,180.7 L685.3,181.6 L685.5,182.4 L685.6,183.3 L685.8,184.1 L686.0,185.0 L686.1,185.9 L686.3,186.7 L686.5,187.6 L686.6,188.4 L686.8,189.3 L686.9,190.1 L687.1,191.0 L687.3,191.8 L687.4,192.7 L687.6,193.5 L687.8,194.4 L687.9,195.3 L688.1,196.1 L688.2,197.0 L688.4,197.8 L688.6,198.7 L688.7,199.5 L688.9,200.4 L689.1,201.2 L689.2,202.1 L689.4,202.9 L689.6,203.7 L689.7,204.6 L689.9,205.4 L690.0,206.3 L690.2,207.1 L690.4,208.0 L690.5,208.8 L690.7,209.7 L690.9,210.5 L691.0,211.3 L691.2,212.2 L691.4,213.0 L691.5,213.9 L691.7,214.7 L691.9,215.5 L692.0,216.4 L692.2,217.2 L692.4,218.0 L692.6,218.9 L692.7,219.7 L692.9,220.5 L693.1,221.4 L693.2,222.2 L693.4,223.0 L693.6,223.8 L693.8,224.7 L694.0,225.5 L694.1,226.3 L694.3,227.1 L694.5,228.0 L694.7,228.8 L694.9,229.6 L695.1,230.4 L695.3,231.3 L695.5,232.1 L695.7,232.9 L695.9,233.7 L696.1,234.5 L696.4,235.3 L696.6,236.2 L696.8,237.0 L697.0,237.8 L697.3,238.6 L697.5,239.4 L697.8,240.2 L698.0,241.0 L698.3,241.8 L698.5,242.6 L698.8,243.5 L699.1,244.3 L699.4,245.1 L699.7,245.9 L700.0,246.7 L700.3,247.5 L700.6,248.3 L700.9,249.1 L701.2,249.9 L701.5,250.7 L701.9,251.5 L702.2,252.3 L702.6,253.1 L702.9,253.9 L703.2,254.5 L703.5,255.2 L703.8,255.8 L704.1,256.4 L704.4,257.1 L704.8,257.7 L705.1,258.3 L705.4,259.0 L705.8,259.6 L706.1,260.2 L706.4,260.9 L706.8,261.5 L707.2,262.1 L707.5,262.7 L707.9,263.4 L708.3,264.0 L708.7,264.6 L709.1,265.3 L709.5,265.9 L709.9,266.5 L710.3,267.1 L710.7,267.8 L711.1,268.4 L711.6,269.0 L712.0,269.6 L712.5,270.2 L712.9,270.8 L713.4,271.4 L713.9,272.0 L714.3,272.5 L714.8,273.0 L715.3,273.6 L715.8,274.1 L716.5,274.7 L717.1,275.2 L717.8,275.7 L718.5,276.2 L719.1,276.6 L719.8,277.0 L720.6,277.3 L721.3,277.6 L722.0,277.8 L722.8,278.0 L723.5,278.1 L724.3,278.1 L725.1,278.1 L725.9,278.1 L726.7,278.0 L727.5,277.9 L728.3,277.8 L729.2,277.6 L730.0,277.5 L730.8,277.3 L731.7,277.1 L732.5,276.8 L733.2,276.7 L733.9,276.5 L734.6,276.3 L735.2,276.1 L735.9,275.9 L736.6,275.7 L737.3,275.6 L738.0,275.4 L738.7,275.2 L739.3,275.1 L740.0,274.9 L740.9,274.7 L741.7,274.6 L742.6,274.4 L743.4,274.3 L744.3,274.2 L745.1,274.2 L745.9,274.2 L746.8,274.2 L747.6,274.2 L748.4,274.3 L749.2,274.4 L750.0,274.5 L750.8,274.8 L751.6,275.0 L752.4,275.3 L753.2,275.7 L753.9,276.1 L754.7,276.5 L755.3,276.9 L755.8,277.3 L756.4,277.8 L757.0,278.2 L757.6,278.7 L758.1,279.2 L758.7,279.7 L759.2,280.3 L759.8,280.8 L760.3,281.4 L760.8,281.9 L761.4,282.5 L761.9,283.1 L762.4,283.7 L762.9,284.3 L763.4,284.9 L763.8,285.4 L764.3,286.0 L764.8,286.6 L765.2,287.2 L765.7,287.8 L766.1,288.3 L766.6,288.9 L767.1,289.6 L767.6,290.3 L768.2,290.9 L768.7,291.6 L769.2,292.2 L769.7,292.9 L770.2,293.5 L770.7,294.1 L771.2,294.7 L771.7,295.3 L772.2,295.9 L772.7,296.5 L773.3,297.1 L773.8,297.7 L774.3,298.3 L774.9,298.9 L775.4,299.4 L776.0,300.0 L776.6,300.5 L777.1,301.1 L777.8,301.7 L778.4,302.2 L779.0,302.7 L779.7,303.3 L780.3,303.8 L781.0,304.4 L781.7,304.9 L782.4,305.4 L783.1,305.9 L783.7,306.3 L784.3,306.7 L784.9,307.1 L785.4,307.5 L786.0,307.9 L786.6,308.2 L787.2,308.6 L787.9,309.0 L788.5,309.3 L789.1,309.7 L789.7,310.0 L790.3,310.3 L790.9,310.7 L791.6,311.0 L792.4,311.4 L793.1,311.7 L793.9,312.1 L794.7,312.5 L795.5,312.8 L796.3,313.1 L797.1,313.4 L797.9,313.7 L798.7,314.0 L799.5,314.3 L800.3,314.6 L801.2,314.9 L802.0,315.1 L802.8,315.4 L803.6,315.6 L804.4,315.8 L805.3,316.1 L806.1,316.3 L806.9,316.5 L807.8,316.7 L808.6,316.8 L809.4,317.0 L810.3,317.2 L811.1,317.3 L811.9,317.5 L812.8,317.7 L813.6,317.8 L814.5,317.9 L815.3,318.1 L816.2,318.2 L817.0,318.3 L817.9,318.4 L818.7,318.5 L819.6,318.6 L820.4,318.7 L821.3,318.8 L822.2,318.9 L823.0,318.9 L823.9,319.0 L824.7,319.1 L825.6,319.1 L826.5,319.2 L827.3,319.2 L828.2,319.3 L829.1,319.3 L829.9,319.4 L830.8,319.4 L831.7,319.5 L832.5,319.5 L833.4,319.5 L834.3,319.6 L835.1,319.6 L836.0,319.6 L836.9,319.6 L837.7,319.7 L838.6,319.7 L839.5,319.7 L840.3,319.7 L841.2,319.7 L842.1,319.8 L842.9,319.8 L843.8,319.8 L844.7,319.8 L845.5,319.8 L846.4,319.9 L847.3,319.9 L848.2,319.9 L849.0,319.9 L849.9,319.9 L850.8,319.9 L851.6,320.0 L852.5,320.0 L853.3,320.0 L854.2,320.0 L855.1,320.0 L855.9,320.0 L856.8,320.0 L857.7,320.1 L858.5,320.1 L859.4,320.1 L860.3,320.1 L861.1,320.1 L862.0,320.1 L862.9,320.1 L863.7,320.2 L864.6,320.2 L865.5,320.2 L866.3,320.2 L867.2,320.2 L868.0,320.2 L868.9,320.2 L869.8,320.2 L870.6,320.3 L871.5,320.3 L872.4,320.3 L873.2,320.3 L874.1,320.3 L874.9,320.3 L875.8,320.3 L876.7,320.3 L877.5,320.4 L878.4,320.4 L879.3,320.4 L880.1,320.4 L881.0,320.4 L881.8,320.4 L882.7,320.4 L883.6,320.4 L884.4,320.4 L885.3,320.5 L886.1,320.5 L887.0,320.5 L887.9,320.5 L888.7,320.5 L889.6,320.5 L890.4,320.5 L891.3,320.5 L892.2,320.5 L893.0,320.5 L893.9,320.5 L894.7,320.6 L895.6,320.6 L896.5,320.6 L897.3,320.6 L898.2,320.6 L899.1,320.6 L899.9,320.6 L900.8,320.6 L901.6,320.6 L902.5,320.6 L903.4,320.6 L904.2,320.7 L905.1,320.7 L905.9,320.7 L906.8,320.7 L907.7,320.7 L908.5,320.7 L909.4,320.7 L910.2,320.7 L911.1,320.7 L912.0,320.7 L912.8,320.7 L913.7,320.7 L914.6,320.7 L915.4,320.8 L916.3,320.8 L917.1,320.8 L918.0,320.8 L918.9,320.8 L919.7,320.8 L920.6,320.8 L921.4,320.8 L922.3,320.8 L923.2,320.8 L924.0,320.8 L924.9,320.8 L925.8,320.8 L926.6,320.8 L927.5,320.9 L928.3,320.9 L929.2,320.9 L930.1,320.9 L930.9,320.9 L931.8,320.9 L932.7,320.9 L933.5,320.9 L934.4,320.9 L935.3,320.9 L936.1,320.9 L937.0,320.9 L937.9,320.9 L938.7,320.9 L939.6,320.9 L940.5,321.0 L941.3,321.0 L942.2,321.0 L943.1,321.0 L943.9,321.0 L944.8,321.0 L945.7,321.0 L946.0,321.0"/>
<path stroke="#800080" d="M189.5,322.1 L190.3,322.0 L191.1,321.9 L192.0,321.8 L192.8,321.7 L193.6,321.6 L194.4,321.5 L195.2,321.4 L196.1,321.3 L196.9,321.2 L197.7,321.1 L198.5,321.0 L199.3,320.9 L200.2,320.8 L201.0,320.7 L201.8,320.6 L202.6,320.5 L203.5,320.4 L204.3,320.3 L205.1,320.2 L205.9,320.2 L206.7,320.1 L207.6,320.0 L208.4,319.9 L209.2,319.8 L210.0,319.8 L210.8,319.7 L211.7,319.6 L212.5,319.5 L213.3,319.5 L214.1,319.4 L214.9,319.3 L215.8,319.3 L216.6,319.2 L217.4,319.1 L218.2,319.1 L219.1,319.0 L219.9,319.0 L220.7,318.9 L221.5,318.8 L222.3,318.8 L223.2,318.7 L224.0,318.7 L224.8,318.6 L225.6,318.6 L226.4,318.5 L227.3,318.5 L228.1,318.4 L228.9,318.4 L229.7,318.3 L230.6,318.3 L231.4,318.2 L232.2,318.2 L233.0,318.1 L233.8,318.1 L234.7,318.1 L235.5,318.0 L236.3,318.0 L237.1,318.0 L237.9,317.9 L238.8,317.9 L239.6,317.9 L240.4,317.8 L241.2,317.8 L242.1,317.8 L242.9,317.7 L243.7,317.7 L244.5,317.7 L245.3,317.6 L246.2,317.6 L247.0,317.6 L247.8,317.6 L248.6,317.5 L249.5,317.5 L250.3,317.5 L251.1,317.5 L251.9,317.5 L252.7,317.4 L253.6,317.4 L254.4,317.4 L255.2,317.4 L256.0,317.4 L256.9,317.4 L257.7,317.4 L258.5,317.3 L259.3,317.3 L260.1,317.3 L261.0,317.3 L261.8,317.3 L262.6,317.3 L263.4,317.3 L264.3,317.3 L265.1,317.3 L265.9,317.3 L266.7,317.3 L267.5,317.3 L268.4,317.3 L269.2,317.2 L270.0,317.2 L270.8,317.2 L271.7,317.2 L272.5,317.2 L273.3,317.2 L274.1,317.2 L274.9,317.2 L275.8,317.2 L276.6,317.3 L277.4,317.3 L278.2,317.3 L279.1,317.3 L279.9,317.3 L280.7,317.3 L281.5,317.3 L282.3,317.3 L283.2,317.3 L284.0,317.3 L284.8,317.3 L285.6,317.3 L286.5,317.3 L287.3,317.3 L288.1,317.3 L288.9,317.4 L289.8,317.4 L290.6,317.4 L291.4,317.4 L292.2,317.4 L293.0,317.4 L293.9,317.4 L294.7,317.4 L295.5,317.5 L296.3,317.5 L297.2,317.5 L298.0,317.5 L298.8,317.5 L299.6,317.5 L300.4,317.5 L301.3,317.6 L302.1,317.6 L302.9,317.6 L303.7,317.6 L304.6,317.6 L305.4,317.6 L306.2,317.7 L307.0,317.7 L307.9,317.7 L308.7,317.7 L309.5,317.7 L310.3,317.7 L311.2,317.8 L312.0,317.8 L312.8,317.8 L313.6,317.8 L314.4,317.8 L315.3,317.9 L316.1,317.9 L316.9,317.9 L317.7,317.9 L318.6,317.9 L319.4,318.0 L320.2,318.0 L321.0,318.0 L321.9,318.0 L322.7,318.0 L323.5,318.1 L324.3,318.1 L325.1,318.1 L326.0,318.1 L326.8,318.1 L327.6,318.2 L328.4,318.2 L329.3,318.2 L330.1,318.2 L330.9,318.2 L331.7,318.3 L332.6,318.3 L333.4,318.3 L334.2,318.3 L335.0,318.3 L335.9,318.4 L336.7,318.4 L337.5,318.4 L338.3,318.4 L339.1,318.4 L340.0,318.5 L340.8,318.5 L341.6,318.5 L342.4,318.5 L343.3,318.5 L344.1,318.5 L344.9,318.6 L345.7,318.6 L346.6,318.6 L347.4,318.6 L348.2,318.6 L349.0,318.7 L349.9,318.7 L350.7,318.7 L351.5,318.7 L352.3,318.7 L353.2,318.7 L354.0,318.7 L354.8,318.8 L355.6,318.8 L356.4,318.8 L357.3,318.8 L358.1,318.8 L358.9,318.8 L359.7,318.8 L360.6,318.9 L361.4,318.9 L362.2,318.9 L363.0,318.9 L363.9,318.9 L364.7,318.9 L365.5,318.9 L366.3,318.9 L367.2,318.9 L368.0,318.9 L368.8,318.9 L369.6,319.0 L370.5,319.0 L371.3,319.0 L372.1,319.0 L372.9,319.0 L373.8,319.0 L374.6,319.0 L375.4,319.0 L376.2,319.0 L377.1,319.0 L377.9,319.0 L378.7,319.0 L379.5,319.0 L380.3,319.0 L381.2,319.0 L382.0,319.0 L382.8,319.0 L383.6,319.0 L384.5,319.0 L385.3,319.0 L386.1,319.0 L386.9,319.0 L387.8,319.0 L388.6,319.0 L389.4,318.9 L390.2,318.9 L391.1,318.9 L391.9,318.9 L392.7,318.9 L393.5,318.9 L394.4,318.9 L395.2,318.9 L396.0,318.9 L396.8,318.8 L397.7,318.8 L398.5,318.8 L399.3,318.8 L400.1,318.8 L401.0,318.7 L401.8,318.7 L402.6,318.7 L403.4,318.7 L404.3,318.7 L405.1,318.6 L405.9,318.6 L406.7,318.6 L407.6,318.6 L408.4,318.5 L409.2,318.5 L410.0,318.5 L410.9,318.4 L411.7,318.4 L412.5,318.4 L413.3,318.3 L414.1,318.3 L415.0,318.3 L415.8,318.2 L416.6,318.2 L417.4,318.2 L418.3,318.1 L419.1,318.1 L419.9,318.0 L420.7,318.0 L421.6,317.9 L422.4,317.9 L423.2,317.8 L424.0,317.8 L424.9,317.7 L425.7,317.7 L426.5,317.6 L427.3,317.5 L428.1,317.5 L428.9,317.4 L429.8,317.3 L430.6,317.2 L431.4,317.2 L432.2,317.1 L433.0,317.0 L433.9,316.9 L434.7,316.8 L435.5,316.7 L436.3,316.6 L437.1,316.5 L437.9,316.4 L438.7,316.3 L439.5,316.2 L440.3,316.1 L441.1,315.9 L442.0,315.8 L442.8,315.7 L443.6,315.6 L444.4,315.4 L445.2,315.3 L446.0,315.1 L446.8,315.0 L447.6,314.8 L448.4,314.7 L449.2,314.5 L450.0,314.3 L450.8,314.1 L451.5,314.0 L452.3,313.8 L453.1,313.6 L453.9,313.4 L454.7,313.2 L455.5,313.0 L456.3,312.8 L457.1,312.6 L457.9,312.4 L458.7,312.2 L459.5,312.0 L460.2,311.8 L461.0,311.6 L461.8,311.3 L462.6,311.1 L463.4,310.9 L464.2,310.7 L465.0,310.4 L465.8,310.2 L466.6,310.0 L467.4,309.7 L468.1,309.5 L468.9,309.3 L469.7,309.0 L470.5,308.8 L471.3,308.5 L472.1,308.3 L472.9,308.1 L473.7,307.8 L474.5,307.6 L475.3,307.3 L476.1,307.1 L476.9,306.8 L477.7,306.6 L478.5,306.3 L479.3,306.1 L480.1,305.8 L480.9,305.5 L481.7,305.3 L482.5,305.0 L483.3,304.7 L484.1,304.5 L484.9,304.2 L485.7,303.9 L486.5,303.6 L487.3,303.4 L488.1,303.1 L488.8,302.8 L489.6,302.5 L490.4,302.2 L491.2,301.9 L492.0,301.6 L492.7,301.3 L493.5,301.0 L494.3,300.7 L495.1,300.4 L495.8,300.0 L496.6,299.7 L497.4,299.4 L498.1,299.0 L498.9,298.7 L499.6,298.4 L500.4,298.0 L501.1,297.6 L501.8,297.3 L502.6,296.9 L503.3,296.6 L504.0,296.2 L504.7,295.8 L505.5,295.4 L506.2,295.0 L506.9,294.6 L507.6,294.2 L508.3,293.8 L509.0,293.4 L509.7,293.0 L510.3,292.5 L511.0,292.1 L511.7,291.7 L512.3,291.2 L513.0,290.8 L513.7,290.3 L514.3,289.8 L514.9,289.4 L515.6,288.9 L516.2,288.4 L516.8,287.9 L517.4,287.4 L518.0,286.9 L518.6,286.3 L519.2,285.8 L519.8,285.3 L520.4,284.7 L521.0,284.2 L521.5,283.6 L522.1,283.1 L522.6,282.5 L523.2,281.9 L523.7,281.3 L524.2,280.7 L524.7,280.1 L525.2,279.5 L525.7,278.8 L526.2,278.2 L526.7,277.5 L527.2,276.9 L527.6,276.2 L528.1,275.6 L528.5,274.9 L529.0,274.2 L529.4,273.5 L529.9,272.8 L530.3,272.1 L530.7,271.4 L531.1,270.7 L531.6,270.0 L532.0,269.3 L532.4,268.5 L532.8,267.8 L533.2,267.1 L533.6,266.3 L534.0,265.6 L534.4,264.9 L534.8,264.1 L535.3,263.4 L535.7,262.6 L536.1,261.9 L536.5,261.1 L536.9,260.4 L537.3,259.6 L537.7,258.9 L538.2,258.2 L538.6,257.4 L539.0,256.7 L539.5,255.9 L539.9,255.2 L540.4,254.5 L540.8,253.7 L541.3,253.0 L541.7,252.3 L542.2,251.5 L542.7,250.8 L543.2,250.1 L543.7,249.4 L544.2,248.7 L544.7,248.0 L545.2,247.3 L545.8,246.7 L546.3,246.0 L546.9,245.4 L547.5,244.9 L548.1,244.3 L548.8,243.9 L549.4,243.4 L550.1,243.1 L550.8,242.8 L551.6,242.6 L552.4,242.4 L553.2,242.4 L554.0,242.4 L554.9,242.5 L555.7,242.7 L556.5,242.9 L557.4,243.2 L558.1,243.6 L558.8,244.0 L559.4,244.5 L560.0,245.1 L560.6,245.6 L561.1,246.2 L561.6,246.9 L562.1,247.6 L562.6,248.2 L563.1,248.9 L563.6,249.6 L564.1,250.3 L564.5,250.9 L564.9,251.5 L565.3,252.1 L565.7,252.6 L566.2,253.2 L566.6,253.8 L567.0,254.3 L567.4,254.9 L567.9,255.5 L568.3,256.0 L568.8,256.6 L569.3,257.1 L569.8,257.7 L570.4,258.4 L571.0,259.0 L571.6,259.6 L572.3,260.1 L572.9,260.7 L573.5,261.2 L574.2,261.6 L574.8,262.1 L575.5,262.5 L576.2,262.9 L576.9,263.2 L577.6,263.6 L578.3,263.9 L579.0,264.1 L579.7,264.4 L580.4,264.6 L581.2,264.8 L581.9,265.0 L582.7,265.1 L583.4,265.2 L584.2,265.3 L584.9,265.4 L585.7,265.4 L586.5,265.5 L587.2,265.5 L588.0,265.4 L588.8,265.4 L589.6,265.3 L590.3,265.3 L591.1,265.1 L591.9,265.0 L592.7,264.9 L593.5,264.7 L594.3,264.5 L595.1,264.3 L595.8,264.1 L596.6,263.9 L597.4,263.6 L598.2,263.3 L599.0,263.0 L599.7,262.7 L600.5,262.4 L601.3,262.1 L602.0,261.7 L602.8,261.3 L603.6,260.9 L604.3,260.5 L605.1,260.1 L605.8,259.7 L606.5,259.3 L607.3,258.8 L608.0,258.3 L608.7,257.9 L609.4,257.4 L610.1,256.9 L610.8,256.4 L611.5,255.8 L612.1,255.3 L612.8,254.8 L613.4,254.2 L614.1,253.7 L614.7,253.1 L615.3,252.5 L615.9,251.9 L616.5,251.3 L617.1,250.7 L617.7,250.1 L618.3,249.5 L618.8,248.9 L619.3,248.3 L619.9,247.7 L620.4,247.0 L620.9,246.4 L621.4,245.7 L621.9,245.1 L622.3,244.4 L622.8,243.8 L623.3,243.1 L623.7,242.4 L624.1,241.7 L624.6,241.1 L625.0,240.4 L625.4,239.7 L625.8,239.0 L626.2,238.3 L626.6,237.6 L627.0,236.8 L627.4,236.1 L627.7,235.4 L628.1,234.7 L628.4,234.0 L628.8,233.2 L629.1,232.5 L629.5,231.7 L629.8,231.0 L630.1,230.3 L630.4,229.5 L630.7,228.8 L631.1,228.0 L631.4,227.2 L631.7,226.5 L632.0,225.7 L632.2,224.9 L632.5,224.2 L632.8,223.4 L633.1,222.6 L633.4,221.9 L633.6,221.1 L633.9,220.3 L634.2,219.5 L634.5,218.7 L634.7,218.0 L635.0,217.2 L635.2,216.4 L635.5,215.6 L635.8,214.8 L636.0,214.0 L636.3,213.2 L636.5,212.4 L636.8,211.6 L637.0,210.9 L637.3,210.1 L637.6,209.3 L637.8,208.5 L638.1,207.7 L638.3,206.9 L638.6,206.1 L638.8,205.3 L639.1,204.5 L639.3,203.7 L639.6,202.9 L639.8,202.1 L640.1,201.3 L640.3,200.5 L640.6,199.8 L640.8,199.0 L641.1,198.2 L641.3,197.4 L641.5,196.6 L641.8,195.8 L642.0,195.0 L642.3,194.2 L642.5,193.4 L642.8,192.6 L643.0,191.8 L643.3,191.0 L643.5,190.2 L643.8,189.4 L644.0,188.6 L644.3,187.9 L644.5,187.1 L644.7,186.3 L645.0,185.5 L645.2,184.7 L645.5,183.9 L645.7,183.1 L646.0,182.3 L646.2,181.5 L646.5,180.8 L646.7,180.0 L647.0,179.2 L647.2,178.4 L647.5,177.6 L647.7,176.9 L648.0,176.1 L648.2,175.3 L648.5,174.5 L648.7,173.7 L649.0,173.0 L649.2,172.2 L649.5,171.4 L649.7,170.6 L650.0,169.9 L650.2,169.1 L650.5,168.3 L650.7,167.6 L651.0,166.8 L651.2,166.0 L651.5,165.3 L651.8,164.5 L652.0,163.8 L652.3,163.0 L652.5,162.3 L652.8,161.5 L653.1,160.7 L653.3,160.0 L653.6,159.2 L653.9,158.5 L654.2,157.7 L654.4,157.0 L654.7,156.2 L655.0,155.5 L655.3,154.7 L655.6,154.0 L655.9,153.2 L656.2,152.5 L656.5,151.7 L656.9,150.9 L657.2,150.2 L657.5,149.4 L657.9,148.7 L658.2,147.9 L658.6,147.1 L658.9,146.4 L659.3,145.6 L659.7,144.8 L660.1,144.1 L660.5,143.3 L660.8,142.7 L661.2,142.0 L661.5,141.4 L661.9,140.8 L662.3,140.1 L662.8,139.4 L663.4,138.7 L663.9,138.2 L664.6,137.7 L665.3,137.3 L666.0,137.1 L666.8,137.1 L667.5,137.3 L668.2,137.7 L668.9,138.2 L669.5,138.7 L670.0,139.3 L670.5,140.0 L670.9,140.7 L671.3,141.4 L671.7,142.1 L672.1,142.9 L672.4,143.6 L672.8,144.4 L673.1,145.1 L673.5,145.9 L673.8,146.7 L674.2,147.4 L674.5,148.2 L674.8,148.9 L675.1,149.7 L675.4,150.5 L675.7,151.2 L676.0,152.0 L676.3,152.8 L676.6,153.6 L676.9,154.3 L677.1,155.1 L677.4,155.9 L677.7,156.7 L677.9,157.4 L678.2,158.2 L678.4,159.0 L678.7,159.8 L678.9,160.6 L679.1,161.4 L679.4,162.2 L679.6,162.9 L679.8,163.7 L680.0,164.5 L680.2,165.3 L680.4,166.1 L680.6,166.9 L680.8,167.7 L681.0,168.5 L681.2,169.3 L681.4,170.1 L681.6,170.9 L681.8,171.7 L682.0,172.5 L682.1,173.3 L682.3,174.1 L682.5,174.9 L682.6,175.7 L682.8,176.6 L683.0,177.4 L683.1,178.2 L683.3,179.0 L683.4,179.8 L683.6,180.6 L683.7,181.4 L683.9,182.2 L684.0,183.0 L684.1,183.9 L684.3,184.7 L684.4,185.5 L684.6,186.3 L684.7,187.1 L684.8,187.9 L684.9,188.8 L685.1,189.6 L685.2,190.4 L685.3,191.2 L685.5,192.0 L685.6,192.8 L685.7,193.7 L685.8,194.5 L686.0,195.3 L686.1,196.1 L686.2,196.9 L686.3,197.7 L686.4,198.6 L686.6,199.4 L686.7,200.2 L686.8,201.0 L686.9,201.8 L687.1,202.7 L687.2,203.5 L687.3,204.3 L687.4,205.1 L687.5,205.9 L687.7,206.7 L687.8,207.6 L687.9,208.4 L688.0,209.2 L688.2,210.0 L688.3,210.8 L688.4,211.6 L688.6,212.5 L688.7,213.3 L688.8,214.1 L689.0,214.9 L689.1,215.7 L689.3,216.5 L689.4,217.3 L689.5,218.1 L689.7,218.9 L689.8,219.8 L690.0,220.6 L690.2,221.4 L690.3,222.2 L690.5,223.0 L690.6,223.8 L690.8,224.6 L691.0,225.4 L691.1,226.2 L691.3,227.0 L691.5,227.8 L691.7,228.6 L691.9,229.4 L692.0,230.2 L692.2,231.0 L692.4,231.8 L692.6,232.6 L692.8,233.3 L693.1,234.1 L693.3,234.9 L693.5,235.7 L693.7,236.5 L693.9,237.3 L694.2,238.1 L694.4,238.8 L694.6,239.6 L694.9,240.4 L695.1,241.2 L695.4,241.9 L695.6,242.7 L695.9,243.5 L696.2,244.3 L696.5,245.0 L696.7,245.8 L697.0,246.5 L697.3,247.3 L697.6,248.0 L698.0,248.8 L698.3,249.5 L698.6,250.3 L698.9,251.0 L699.3,251.8 L699.6,252.5 L700.0,253.2 L700.3,254.0 L700.7,254.7 L701.1,255.4 L701.4,256.1 L701.8,256.8 L702.2,257.5 L702.6,258.2 L703.1,258.9 L703.5,259.6 L703.9,260.3 L704.4,261.0 L704.8,261.7 L705.3,262.4 L705.7,263.1 L706.2,263.7 L706.7,264.4 L707.2,265.1 L707.7,265.7 L708.2,266.4 L708.8,267.0 L709.3,267.6 L709.9,268.3 L710.4,268.9 L711.0,269.5 L711.6,270.1 L712.2,270.8 L712.8,271.4 L713.4,272.0 L714.0,272.5 L714.6,273.1 L715.3,273.7 L715.9,274.3 L716.6,274.8 L717.2,275.4 L717.9,275.9 L718.6,276.4 L719.3,276.9 L720.0,277.4 L720.6,277.9 L721.3,278.4 L722.0,278.8 L722.7,279.3 L723.5,279.7 L724.2,280.1 L724.9,280.5 L725.6,280.8 L726.3,281.2 L727.0,281.5 L727.7,281.8 L728.4,282.1 L729.1,282.4 L729.9,282.6 L730.6,282.9 L731.3,283.1 L732.0,283.3 L732.8,283.5 L733.5,283.6 L734.3,283.8 L735.0,283.9 L735.8,284.1 L736.6,284.2 L737.4,284.3 L738.2,284.4 L739.0,284.5 L739.8,284.6 L740.6,284.7 L741.4,284.8 L742.3,284.8 L743.1,284.9 L744.0,285.0 L744.8,285.1 L745.6,285.2 L746.5,285.3 L747.3,285.4 L748.1,285.5 L749.0,285.7 L749.8,285.8 L750.6,286.0 L751.4,286.2 L752.2,286.4 L753.0,286.7 L753.8,287.0 L754.5,287.3 L755.2,287.6 L756.0,287.9 L756.7,288.3 L757.3,288.8 L758.0,289.2 L758.7,289.7 L759.3,290.2 L759.9,290.8 L760.5,291.3 L761.1,291.9 L761.7,292.5 L762.3,293.1 L762.9,293.8 L763.5,294.4 L764.0,295.0 L764.6,295.7 L765.2,296.3 L765.7,297.0 L766.3,297.6 L766.9,298.3 L767.4,298.9 L768.0,299.5 L768.6,300.1 L769.2,300.7 L769.8,301.3 L770.4,301.9 L771.1,302.4 L771.7,303.0 L772.3,303.5 L773.0,304.0 L773.6,304.5 L774.3,305.0 L775.0,305.5 L775.6,306.0 L776.3,306.4 L777.0,306.8 L777.7,307.3 L778.4,307.7 L779.1,308.1 L779.8,308.5 L780.5,308.9 L781.3,309.3 L782.0,309.6 L782.7,310.0 L783.5,310.3 L784.2,310.7 L785.0,311.0 L785.7,311.3 L786.5,311.6 L787.2,311.9 L788.0,312.2 L788.7,312.5 L789.5,312.8 L790.3,313.0 L791.1,313.3 L791.8,313.5 L792.6,313.8 L793.4,314.0 L794.2,314.3 L795.0,314.5 L795.8,314.7 L796.6,314.9 L797.3,315.1 L798.1,315.3 L798.9,315.5 L799.7,315.7 L800.5,315.9 L801.3,316.0 L802.1,316.2 L802.9,316.4 L803.7,316.5 L804.5,316.7 L805.3,316.8 L806.1,317.0 L806.9,317.1 L807.7,317.3 L808.6,317.4 L809.4,317.5 L810.2,317.6 L811.0,317.7 L811.8,317.9 L812.6,318.0 L813.4,318.1 L814.2,318.2 L815.1,318.3 L815.9,318.4 L816.7,318.4 L817.5,318.5 L818.3,318.6 L819.1,318.7 L820.0,318.8 L820.8,318.8 L821.6,318.9 L822.4,319.0 L823.2,319.0 L824.1,319.1 L824.9,319.1 L825.7,319.2 L826.5,319.2 L827.3,319.3 L828.2,319.3 L829.0,319.4 L829.8,319.4 L830.6,319.5 L831.5,319.5 L832.3,319.5 L833.1,319.6 L834.0,319.6 L834.8,319.6 L835.6,319.7 L836.4,319.7 L837.3,319.7 L838.1,319.7 L838.9,319.7 L839.7,319.8 L840.6,319.8 L841.4,319.8 L842.2,319.8 L843.1,319.8 L843.9,319.9 L844.7,319.9 L845.5,319.9 L846.4,319.9 L847.2,319.9 L848.0,319.9 L848.8,319.9 L849.7,320.0 L850.5,320.0 L851.3,320.0 L852.1,320.0 L853.0,320.0 L853.8,320.0 L854.6,320.0 L855.5,320.0 L856.3,320.1 L857.1,320.1 L857.9,320.1 L858.8,320.1 L859.6,320.1 L860.4,320.1 L861.2,320.1 L862.1,320.1 L862.9,320.2 L863.7,320.2 L864.5,320.2 L865.3,320.2 L866.2,320.2 L867.0,320.2 L867.8,320.2 L868.6,320.2 L869.5,320.2 L870.3,320.3 L871.1,320.3 L871.9,320.3 L872.8,320.3 L873.6,320.3 L874.4,320.3 L875.2,320.3 L876.0,320.3 L876.9,320.3 L877.7,320.3 L878.5,320.4 L879.3,320.4 L880.2,320.4 L881.0,320.4 L881.8,320.4 L882.6,320.4 L883.5,320.4 L884.3,320.4 L885.1,320.4 L885.9,320.4 L886.7,320.5 L887.6,320.5 L888.4,320.5 L889.2,320.5 L890.0,320.5 L890.8,320.5 L891.7,320.5 L892.5,320.5 L893.3,320.5 L894.1,320.5 L895.0,320.5 L895.8,320.6 L896.6,320.6 L897.4,320.6 L898.2,320.6 L899.1,320.6 L899.9,320.6 L900.7,320.6 L901.5,320.6 L902.4,320.6 L903.2,320.6 L904.0,320.6 L904.8,320.6 L905.6,320.7 L906.5,320.7 L907.3,320.7 L908.1,320.7 L908.9,320.7 L909.7,320.7 L910.6,320.7 L911.4,320.7 L912.2,320.7 L913.0,320.7 L913.9,320.7 L914.7,320.7 L915.5,320.8 L916.3,320.8 L917.1,320.8 L918.0,320.8 L918.8,320.8 L919.6,320.8 L920.4,320.8 L921.3,320.8 L922.1,320.8 L922.9,320.8 L923.7,320.8 L924.6,320.8 L925.4,320.8 L926.2,320.8 L927.0,320.9 L927.8,320.9 L928.7,320.9 L929.5,320.9 L930.3,320.9 L931.1,320.9 L932.0,320.9 L932.8,320.9 L933.6,320.9 L934.4,320.9 L935.3,320.9 L936.1,320.9 L936.9,320.9 L937.7,320.9 L938.6,320.9 L939.4,320.9 L940.2,321.0 L941.0,321.0 L941.9,321.0 L942.7,321.0 L943.5,321.0 L944.3,321.0 L945.2,321.0 L946.0,321.0 L946.0,321.0"/>
</g>
<g fill="none" stroke-width="2.8" stroke-linejoin="round" stroke-linecap="butt">
<path stroke="#000000" d="M190.0,685.5 L190.8,685.5 L191.6,685.4 L192.4,685.4 L193.2,685.3 L194.0,685.3 L194.8,685.2 L195.6,685.2 L196.4,685.2 L197.1,685.1 L197.9,685.1 L198.7,685.0 L199.5,685.0 L200.3,684.9 L201.1,684.9 L201.9,684.8 L202.7,684.8 L203.5,684.7 L204.3,684.7 L205.1,684.6 L205.9,684.6 L206.7,684.5 L207.5,684.5 L208.3,684.4 L209.1,684.4 L209.9,684.3 L210.7,684.3 L211.5,684.2 L212.3,684.2 L213.1,684.1 L213.8,684.1 L214.6,684.0 L215.4,684.0 L216.2,683.9 L217.0,683.9 L217.8,683.8 L218.6,683.8 L219.4,683.7 L220.2,683.7 L221.0,683.6 L221.8,683.6 L222.6,683.5 L223.4,683.4 L224.2,683.4 L225.0,683.3 L225.8,683.3 L226.6,683.2 L227.4,683.2 L228.2,683.1 L229.0,683.1 L229.8,683.0 L230.6,683.0 L231.4,682.9 L232.2,682.9 L233.0,682.8 L233.8,682.8 L234.6,682.7 L235.3,682.7 L236.1,682.6 L236.9,682.6 L237.7,682.5 L238.5,682.5 L239.3,682.4 L240.1,682.4 L240.9,682.3 L241.7,682.3 L242.5,682.2 L243.3,682.2 L244.1,682.1 L244.9,682.1 L245.7,682.0 L246.5,682.0 L247.3,681.9 L248.1,681.9 L248.9,681.8 L249.7,681.8 L250.5,681.7 L251.3,681.7 L252.1,681.7 L252.9,681.6 L253.7,681.6 L254.5,681.5 L255.3,681.5 L256.1,681.4 L256.9,681.4 L257.7,681.4 L258.5,681.3 L259.3,681.3 L260.1,681.2 L260.9,681.2 L261.7,681.2 L262.4,681.1 L263.2,681.1 L264.0,681.1 L264.8,681.0 L265.6,681.0 L266.4,681.0 L267.2,680.9 L268.0,680.9 L268.8,680.9 L269.6,680.8 L270.4,680.8 L271.2,680.8 L272.0,680.7 L272.8,680.7 L273.6,680.7 L274.4,680.7 L275.2,680.6 L276.0,680.6 L276.8,680.6 L277.6,680.6 L278.4,680.6 L279.2,680.5 L280.0,680.5 L280.8,680.5 L281.6,680.5 L282.4,680.5 L283.2,680.4 L284.0,680.4 L284.8,680.4 L285.6,680.4 L286.4,680.4 L287.2,680.4 L288.0,680.4 L288.8,680.4 L289.6,680.4 L290.3,680.4 L291.1,680.3 L291.9,680.3 L292.7,680.3 L293.5,680.3 L294.3,680.3 L295.1,680.3 L295.9,680.3 L296.7,680.3 L297.5,680.4 L298.3,680.4 L299.1,680.4 L299.9,680.4 L300.7,680.4 L301.5,680.4 L302.3,680.4 L303.1,680.4 L303.9,680.4 L304.7,680.5 L305.5,680.5 L306.3,680.5 L307.1,680.5 L307.9,680.5 L308.7,680.6 L309.5,680.6 L310.3,680.6 L311.1,680.6 L311.9,680.7 L312.6,680.7 L313.4,680.7 L314.2,680.8 L315.0,680.8 L315.8,680.8 L316.6,680.9 L317.4,680.9 L318.2,681.0 L319.0,681.0 L319.8,681.0 L320.6,681.1 L321.4,681.1 L322.2,681.2 L323.0,681.2 L323.8,681.3 L324.6,681.3 L325.4,681.4 L326.2,681.4 L327.0,681.5 L327.8,681.5 L328.6,681.6 L329.4,681.6 L330.2,681.7 L330.9,681.7 L331.7,681.8 L332.5,681.8 L333.3,681.9 L334.1,682.0 L334.9,682.0 L335.7,682.1 L336.5,682.1 L337.3,682.2 L338.1,682.2 L338.9,682.3 L339.7,682.4 L340.5,682.4 L341.3,682.5 L342.1,682.5 L342.9,682.6 L343.7,682.7 L344.5,682.7 L345.3,682.8 L346.1,682.8 L346.9,682.9 L347.6,682.9 L348.4,683.0 L349.2,683.1 L350.0,683.1 L350.8,683.2 L351.6,683.2 L352.4,683.3 L353.2,683.3 L354.0,683.4 L354.8,683.5 L355.6,683.5 L356.4,683.6 L357.2,683.6 L358.0,683.7 L358.8,683.7 L359.6,683.8 L360.4,683.8 L361.2,683.9 L362.0,683.9 L362.8,684.0 L363.6,684.0 L364.4,684.1 L365.1,684.1 L365.9,684.2 L366.7,684.2 L367.5,684.2 L368.3,684.3 L369.1,684.3 L369.9,684.4 L370.7,684.4 L371.5,684.4 L372.3,684.5 L373.1,684.5 L373.9,684.5 L374.7,684.6 L375.5,684.6 L376.3,684.6 L377.1,684.6 L377.9,684.7 L378.7,684.7 L379.5,684.7 L380.3,684.7 L381.1,684.7 L381.9,684.8 L382.7,684.8 L383.5,684.8 L384.3,684.8 L385.1,684.8 L385.9,684.8 L386.7,684.8 L387.5,684.9 L388.2,684.9 L389.0,684.9 L389.8,684.9 L390.6,684.9 L391.4,684.9 L392.2,684.9 L393.0,684.9 L393.8,684.9 L394.6,684.9 L395.4,684.9 L396.2,684.9 L397.0,684.9 L397.8,684.9 L398.6,684.9 L399.4,684.9 L400.2,684.9 L401.0,684.9 L401.8,684.9 L402.6,684.9 L403.4,684.9 L404.2,684.8 L405.0,684.8 L405.8,684.8 L406.6,684.8 L407.4,684.8 L408.2,684.8 L409.0,684.8 L409.8,684.8 L410.6,684.8 L411.4,684.7 L412.2,684.7 L413.0,684.7 L413.8,684.7 L414.6,684.7 L415.4,684.7 L416.2,684.7 L417.0,684.7 L417.8,684.6 L418.6,684.6 L419.4,684.6 L420.2,684.6 L421.0,684.6 L421.8,684.6 L422.6,684.6 L423.4,684.5 L424.1,684.5 L424.9,684.5 L425.7,684.5 L426.5,684.5 L427.3,684.5 L428.1,684.5 L428.9,684.4 L429.7,684.4 L430.5,684.4 L431.3,684.4 L432.1,684.4 L432.9,684.4 L433.7,684.4 L434.5,684.3 L435.3,684.3 L436.1,684.3 L436.9,684.3 L437.7,684.3 L438.5,684.3 L439.3,684.3 L440.1,684.3 L440.9,684.3 L441.7,684.3 L442.5,684.2 L443.3,684.2 L444.1,684.2 L444.9,684.2 L445.7,684.2 L446.5,684.2 L447.3,684.2 L448.1,684.2 L448.9,684.2 L449.7,684.2 L450.5,684.2 L451.3,684.2 L452.1,684.1 L452.9,684.1 L453.7,684.1 L454.5,684.1 L455.3,684.1 L456.1,684.1 L456.8,684.1 L457.6,684.1 L458.4,684.1 L459.2,684.0 L460.0,684.0 L460.8,684.0 L461.6,684.0 L462.4,684.0 L463.2,684.0 L464.0,684.0 L464.8,683.9 L465.6,683.9 L466.4,683.9 L467.2,683.9 L468.0,683.9 L468.8,683.8 L469.6,683.8 L470.4,683.8 L471.2,683.8 L472.0,683.7 L472.8,683.7 L473.6,683.7 L474.4,683.6 L475.1,683.6 L475.9,683.6 L476.7,683.5 L477.5,683.5 L478.3,683.5 L479.1,683.4 L479.9,683.4 L480.7,683.3 L481.5,683.3 L482.3,683.3 L483.1,683.2 L483.9,683.2 L484.7,683.1 L485.5,683.1 L486.3,683.0 L487.1,682.9 L487.8,682.9 L488.6,682.8 L489.4,682.8 L490.2,682.7 L491.0,682.6 L491.8,682.6 L492.6,682.5 L493.4,682.4 L494.2,682.3 L495.0,682.3 L495.8,682.2 L496.6,682.1 L497.3,682.0 L498.1,681.9 L498.9,681.8 L499.7,681.7 L500.5,681.6 L501.3,681.5 L502.1,681.4 L502.9,681.3 L503.7,681.2 L504.4,681.1 L505.2,681.0 L506.0,680.9 L506.8,680.8 L507.6,680.7 L508.4,680.5 L509.2,680.4 L510.0,680.3 L510.7,680.2 L511.5,680.0 L512.3,679.9 L513.1,679.7 L513.9,679.6 L514.7,679.5 L515.5,679.3 L516.2,679.2 L517.0,679.0 L517.8,678.9 L518.6,678.7 L519.4,678.5 L520.2,678.4 L520.9,678.2 L521.7,678.0 L522.5,677.9 L523.3,677.7 L524.1,677.5 L524.8,677.3 L525.6,677.2 L526.4,677.0 L527.2,676.8 L527.9,676.6 L528.7,676.4 L529.5,676.2 L530.3,676.0 L531.0,675.8 L531.8,675.6 L532.6,675.4 L533.4,675.2 L534.1,675.0 L534.9,674.7 L535.7,674.5 L536.4,674.3 L537.2,674.1 L538.0,673.9 L538.7,673.6 L539.5,673.4 L540.3,673.2 L541.0,672.9 L541.8,672.7 L542.6,672.4 L543.3,672.2 L544.1,671.9 L544.8,671.7 L545.6,671.4 L546.4,671.2 L547.1,670.9 L547.9,670.6 L548.6,670.4 L549.4,670.1 L550.1,669.8 L550.9,669.5 L551.6,669.3 L552.4,669.0 L553.1,668.7 L553.9,668.4 L554.6,668.1 L555.4,667.8 L556.1,667.5 L556.9,667.2 L557.6,666.9 L558.4,666.6 L559.1,666.3 L559.8,666.0 L560.6,665.7 L561.3,665.3 L562.1,665.0 L562.8,664.7 L563.5,664.4 L564.3,664.0 L565.0,663.7 L565.7,663.4 L566.4,663.0 L567.2,662.7 L567.9,662.3 L568.6,662.0 L569.3,661.6 L570.0,661.3 L570.8,660.9 L571.5,660.5 L572.2,660.1 L572.9,659.8 L573.6,659.4 L574.3,659.0 L575.0,658.6 L575.6,658.2 L576.3,657.8 L577.0,657.4 L577.7,657.0 L578.3,656.5 L579.0,656.1 L579.7,655.7 L580.3,655.2 L581.0,654.8 L581.6,654.3 L582.2,653.9 L582.9,653.4 L583.5,652.9 L584.1,652.5 L584.7,652.0 L585.3,651.5 L585.9,651.0 L586.5,650.5 L587.1,650.0 L587.7,649.5 L588.3,648.9 L588.8,648.4 L589.4,647.8 L589.9,647.3 L590.4,646.7 L591.0,646.2 L591.5,645.6 L592.0,645.0 L592.5,644.4 L593.0,643.8 L593.5,643.2 L594.0,642.6 L594.4,641.9 L594.9,641.3 L595.4,640.7 L595.8,640.0 L596.3,639.4 L596.7,638.7 L597.1,638.0 L597.5,637.4 L598.0,636.7 L598.4,636.0 L598.8,635.3 L599.2,634.6 L599.5,633.9 L599.9,633.2 L600.3,632.5 L600.7,631.8 L601.0,631.1 L601.4,630.4 L601.8,629.7 L602.1,628.9 L602.5,628.2 L602.8,627.5 L603.1,626.7 L603.5,626.0 L603.8,625.2 L604.1,624.5 L604.4,623.7 L604.8,623.0 L605.1,622.2 L605.4,621.5 L605.7,620.7 L606.0,620.0 L606.3,619.2 L606.6,618.5 L606.9,617.7 L607.2,617.0 L607.4,616.2 L607.7,615.4 L608.0,614.7 L608.3,613.9 L608.6,613.2 L608.8,612.4 L609.1,611.6 L609.4,610.9 L609.6,610.1 L609.9,609.3 L610.2,608.6 L610.4,607.8 L610.7,607.1 L610.9,606.3 L611.2,605.5 L611.4,604.8 L611.7,604.0 L611.9,603.2 L612.2,602.5 L612.4,601.7 L612.7,600.9 L612.9,600.2 L613.1,599.4 L613.4,598.7 L613.6,597.9 L613.8,597.1 L614.0,596.4 L614.3,595.6 L614.5,594.8 L614.7,594.0 L614.9,593.3 L615.1,592.5 L615.4,591.7 L615.6,591.0 L615.8,590.2 L616.0,589.4 L616.2,588.7 L616.4,587.9 L616.6,587.1 L616.8,586.4 L617.0,585.6 L617.2,584.8 L617.4,584.0 L617.6,583.3 L617.8,582.5 L618.0,581.7 L618.2,581.0 L618.4,580.2 L618.5,579.4 L618.7,578.6 L618.9,577.9 L619.1,577.1 L619.3,576.3 L619.4,575.5 L619.6,574.8 L619.8,574.0 L620.0,573.2 L620.2,572.4 L620.3,571.7 L620.5,570.9 L620.7,570.1 L620.8,569.3 L621.0,568.6 L621.2,567.8 L621.3,567.0 L621.5,566.2 L621.7,565.5 L621.8,564.7 L622.0,563.9 L622.1,563.1 L622.3,562.3 L622.5,561.6 L622.6,560.8 L622.8,560.0 L622.9,559.2 L623.1,558.5 L623.2,557.7 L623.4,556.9 L623.5,556.1 L623.7,555.3 L623.8,554.6 L624.0,553.8 L624.1,553.0 L624.3,552.2 L624.4,551.4 L624.6,550.7 L624.7,549.9 L624.9,549.1 L625.0,548.3 L625.2,547.5 L625.3,546.8 L625.4,546.0 L625.6,545.2 L625.7,544.4 L625.9,543.6 L626.0,542.9 L626.2,542.1 L626.3,541.3 L626.4,540.5 L626.6,539.7 L626.7,538.9 L626.8,538.2 L627.0,537.4 L627.1,536.6 L627.3,535.8 L627.4,535.0 L627.5,534.2 L627.7,533.5 L627.8,532.7 L628.0,531.9 L628.1,531.1 L628.2,530.3 L628.4,529.6 L628.5,528.8 L628.6,528.0 L628.8,527.2 L628.9,526.4 L629.1,525.6 L629.2,524.9 L629.3,524.1 L629.5,523.3 L629.6,522.5 L629.7,521.7 L629.9,520.9 L630.0,520.1 L630.2,519.4 L630.3,518.6 L630.4,517.8 L630.6,517.0 L630.7,516.2 L630.9,515.4 L631.0,514.7 L631.2,513.9 L631.3,513.1 L631.4,512.3 L631.6,511.5 L631.7,510.7 L631.9,510.0 L632.0,509.2 L632.2,508.4 L632.3,507.6 L632.4,506.8 L632.6,506.0 L632.7,505.2 L632.9,504.5 L633.0,503.7 L633.2,502.9 L633.3,502.1 L633.5,501.3 L633.6,500.5 L633.7,499.8 L633.9,499.0 L634.0,498.2 L634.2,497.4 L634.3,496.6 L634.5,495.8 L634.6,495.0 L634.8,494.3 L634.9,493.5 L635.0,492.7 L635.2,491.9 L635.3,491.1 L635.5,490.3 L635.6,489.5 L635.8,488.8 L635.9,488.0 L636.0,487.2 L636.2,486.4 L636.3,485.6 L636.5,484.8 L636.6,484.0 L636.8,483.2 L636.9,482.5 L637.0,481.7 L637.2,480.9 L637.3,480.1 L637.5,479.3 L637.6,478.5 L637.7,477.7 L637.9,476.9 L638.0,476.2 L638.2,475.4 L638.3,474.6 L638.4,473.8 L638.6,473.0 L638.7,472.2 L638.8,471.4 L639.0,470.6 L639.1,469.9 L639.2,469.1 L639.4,468.3 L639.5,467.5 L639.6,466.7 L639.8,465.9 L639.9,465.1 L640.0,464.3 L640.2,463.5 L640.3,462.8 L640.4,462.0 L640.6,461.2 L640.7,460.4 L640.8,459.6 L640.9,458.8 L641.1,458.0 L641.2,457.2 L641.3,456.4 L641.4,455.7 L641.5,454.9 L641.7,454.1 L641.8,453.3 L641.9,452.5 L642.0,451.7 L642.1,450.9 L642.3,450.1 L642.4,449.3 L642.5,448.5 L642.6,447.7 L642.7,447.0 L642.8,446.2 L642.9,445.4 L643.0,444.6 L643.1,443.8 L643.3,443.0 L643.4,442.2 L643.5,441.4 L643.6,440.6 L643.7,439.8 L643.8,439.0 L643.9,438.3 L644.0,437.5 L644.1,436.7 L644.3,435.9 L644.4,435.1 L644.5,434.3 L644.6,433.5 L644.8,432.8 L644.9,432.0 L645.0,431.2 L645.2,430.4 L645.3,429.6 L645.4,428.8 L645.6,428.1 L645.7,427.3 L645.9,426.5 L646.0,425.7 L646.2,425.0 L646.4,424.2 L646.6,423.4 L646.7,422.7 L646.9,421.9 L647.1,421.1 L647.3,420.4 L647.5,419.6 L647.7,418.8 L647.9,418.1 L648.1,417.3 L648.4,416.6 L648.6,415.8 L648.8,415.1 L649.1,414.3 L649.3,413.6 L649.6,412.8 L649.9,412.1 L650.2,411.4 L650.4,410.6 L650.7,409.9 L651.0,409.2 L651.4,408.4 L651.7,407.7 L652.0,407.0 L652.3,406.2 L652.6,405.5 L652.9,404.7 L653.2,403.9 L653.4,403.2 L653.7,402.4 L653.9,401.5 L654.1,400.7 L654.3,399.8 L654.5,399.0 L654.8,398.2 L655.1,397.4 L655.4,396.6 L655.8,395.9 L656.3,395.3 L656.9,394.8 L657.5,394.4 L658.2,394.3 L658.9,394.3 L659.6,394.5 L660.3,394.9 L660.9,395.5 L661.4,396.1 L661.9,396.7 L662.3,397.5 L662.6,398.2 L662.9,399.0 L663.1,399.8 L663.4,400.6 L663.6,401.4 L663.8,402.2 L664.1,403.1 L664.3,403.9 L664.5,404.7 L664.7,405.5 L664.9,406.3 L665.1,407.1 L665.3,407.8 L665.5,408.6 L665.7,409.4 L665.9,410.2 L666.1,411.0 L666.2,411.8 L666.4,412.5 L666.6,413.3 L666.8,414.1 L667.0,414.8 L667.1,415.6 L667.3,416.4 L667.5,417.1 L667.6,417.9 L667.8,418.7 L668.0,419.4 L668.1,420.2 L668.3,421.0 L668.4,421.7 L668.6,422.5 L668.7,423.3 L668.9,424.1 L669.0,424.8 L669.2,425.6 L669.3,426.4 L669.5,427.1 L669.6,427.9 L669.8,428.7 L669.9,429.5 L670.1,430.2 L670.2,431.0 L670.3,431.8 L670.5,432.6 L670.6,433.3 L670.7,434.1 L670.9,434.9 L671.0,435.7 L671.1,436.5 L671.3,437.2 L671.4,438.0 L671.5,438.8 L671.6,439.6 L671.8,440.4 L671.9,441.2 L672.0,441.9 L672.1,442.7 L672.2,443.5 L672.4,444.3 L672.5,445.1 L672.6,445.9 L672.7,446.7 L672.8,447.5 L672.9,448.2 L673.0,449.0 L673.2,449.8 L673.3,450.6 L673.4,451.4 L673.5,452.2 L673.6,453.0 L673.7,453.8 L673.8,454.6 L673.9,455.4 L674.0,456.1 L674.1,456.9 L674.2,457.7 L674.3,458.5 L674.4,459.3 L674.5,460.1 L674.6,460.9 L674.7,461.7 L674.8,462.5 L674.9,463.3 L675.0,464.1 L675.1,464.9 L675.2,465.7 L675.3,466.5 L675.4,467.3 L675.5,468.1 L675.6,468.9 L675.7,469.6 L675.8,470.4 L675.9,471.2 L676.0,472.0 L676.1,472.8 L676.2,473.6 L676.3,474.4 L676.4,475.2 L676.5,476.0 L676.6,476.8 L676.7,477.6 L676.8,478.4 L676.9,479.2 L677.0,480.0 L677.1,480.8 L677.2,481.6 L677.3,482.4 L677.4,483.2 L677.5,484.0 L677.6,484.8 L677.7,485.5 L677.8,486.3 L677.9,487.1 L678.0,487.9 L678.1,488.7 L678.2,489.5 L678.3,490.3 L678.4,491.1 L678.5,491.9 L678.5,492.7 L678.6,493.5 L678.7,494.3 L678.8,495.1 L678.9,495.9 L679.0,496.6 L679.1,497.4 L679.2,498.2 L679.3,499.0 L679.4,499.8 L679.5,500.6 L679.6,501.4 L679.7,502.2 L679.8,503.0 L679.9,503.8 L680.0,504.6 L680.1,505.4 L680.2,506.1 L680.3,506.9 L680.4,507.7 L680.5,508.5 L680.6,509.3 L680.7,510.1 L680.8,510.9 L680.9,511.7 L681.0,512.5 L681.1,513.3 L681.2,514.1 L681.3,514.8 L681.4,515.6 L681.5,516.4 L681.6,517.2 L681.7,518.0 L681.8,518.8 L681.9,519.6 L682.0,520.4 L682.1,521.2 L682.2,522.0 L682.3,522.8 L682.4,523.5 L682.4,524.3 L682.5,525.1 L682.6,525.9 L682.7,526.7 L682.8,527.5 L682.9,528.3 L683.0,529.1 L683.1,529.9 L683.2,530.7 L683.3,531.4 L683.4,532.2 L683.5,533.0 L683.6,533.8 L683.7,534.6 L683.8,535.4 L683.9,536.2 L684.0,537.0 L684.1,537.8 L684.2,538.6 L684.3,539.3 L684.3,540.1 L684.4,540.9 L684.5,541.7 L684.6,542.5 L684.7,543.3 L684.8,544.1 L684.9,544.9 L685.0,545.7 L685.1,546.5 L685.2,547.2 L685.3,548.0 L685.4,548.8 L685.4,549.6 L685.5,550.4 L685.6,551.2 L685.7,552.0 L685.8,552.8 L685.9,553.6 L686.0,554.4 L686.1,555.2 L686.2,555.9 L686.3,556.7 L686.3,557.5 L686.4,558.3 L686.5,559.1 L686.6,559.9 L686.7,560.7 L686.8,561.5 L686.9,562.3 L686.9,563.1 L687.0,563.9 L687.1,564.7 L687.2,565.4 L687.3,566.2 L687.4,567.0 L687.5,567.8 L687.5,568.6 L687.6,569.4 L687.7,570.2 L687.8,571.0 L687.9,571.8 L687.9,572.6 L688.0,573.4 L688.1,574.2 L688.2,575.0 L688.3,575.8 L688.3,576.5 L688.4,577.3 L688.5,578.1 L688.6,578.9 L688.7,579.7 L688.7,580.5 L688.8,581.3 L688.9,582.1 L689.0,582.9 L689.0,583.7 L689.1,584.5 L689.2,585.3 L689.3,586.1 L689.3,586.9 L689.4,587.7 L689.5,588.5 L689.6,589.3 L689.6,590.1 L689.7,590.9 L689.8,591.7 L689.9,592.5 L689.9,593.3 L690.0,594.1 L690.1,594.8 L690.1,595.6 L690.2,596.4 L690.3,597.2 L690.3,598.0 L690.4,598.8 L690.5,599.6 L690.5,600.4 L690.6,601.2 L690.7,602.0 L690.7,602.8 L690.8,603.6 L690.9,604.4 L690.9,605.2 L691.0,606.0 L691.0,606.8 L691.1,607.6 L691.2,608.4 L691.2,609.2 L691.3,610.0 L691.4,610.8 L691.4,611.6 L691.5,612.4 L691.6,613.2 L691.6,614.0 L691.7,614.8 L691.8,615.6 L691.9,616.4 L691.9,617.2 L692.0,618.0 L692.1,618.8 L692.2,619.6 L692.3,620.4 L692.3,621.2 L692.4,622.0 L692.5,622.8 L692.6,623.6 L692.7,624.4 L692.8,625.2 L692.9,626.0 L693.0,626.8 L693.1,627.6 L693.2,628.3 L693.3,629.1 L693.5,629.9 L693.6,630.7 L693.7,631.5 L693.9,632.3 L694.0,633.1 L694.1,633.8 L694.3,634.6 L694.4,635.4 L694.6,636.2 L694.7,637.0 L694.9,637.7 L695.1,638.5 L695.2,639.3 L695.4,640.0 L695.6,640.8 L695.8,641.6 L696.0,642.4 L696.2,643.1 L696.4,643.9 L696.6,644.6 L696.8,645.4 L697.1,646.2 L697.3,646.9 L697.5,647.7 L697.8,648.4 L698.0,649.2 L698.3,649.9 L698.6,650.7 L698.8,651.4 L699.1,652.2 L699.4,652.9 L699.7,653.6 L700.0,654.4 L700.3,655.1 L700.6,655.9 L701.0,656.6 L701.3,657.3 L701.7,658.0 L702.1,658.6 L702.5,659.3 L702.9,659.9 L703.4,660.5 L703.9,661.0 L704.4,661.5 L705.0,661.9 L705.6,662.3 L706.2,662.6 L706.9,662.8 L707.7,663.0 L708.4,663.2 L709.2,663.3 L710.0,663.4 L710.9,663.4 L711.7,663.4 L712.6,663.4 L713.5,663.3 L714.4,663.2 L715.3,663.1 L716.2,663.0 L717.1,662.9 L718.0,662.8 L718.9,662.7 L719.8,662.6 L720.7,662.5 L721.5,662.4 L722.4,662.3 L723.2,662.2 L724.0,662.1 L724.9,662.1 L725.7,662.0 L726.5,661.9 L727.2,661.9 L728.0,661.8 L728.8,661.8 L729.5,661.7 L730.3,661.7 L731.1,661.6 L731.8,661.6 L732.5,661.5 L733.3,661.5 L734.0,661.4 L734.8,661.3 L735.5,661.3 L736.2,661.2 L737.0,661.1 L737.7,661.0 L738.4,660.9 L739.2,660.8 L739.9,660.6 L740.7,660.5 L741.4,660.3 L742.2,660.2 L742.9,660.0 L743.7,659.8 L744.5,659.6 L745.3,659.4 L746.1,659.1 L746.9,658.9 L747.7,658.6 L748.5,658.4 L749.3,658.1 L750.1,657.8 L750.9,657.6 L751.7,657.3 L752.6,657.1 L753.4,656.8 L754.2,656.6 L755.0,656.4 L755.8,656.3 L756.6,656.1 L757.4,656.0 L758.2,655.9 L759.0,655.9 L759.8,655.9 L760.6,655.9 L761.4,655.9 L762.2,656.0 L762.9,656.1 L763.7,656.2 L764.4,656.4 L765.2,656.5 L765.9,656.7 L766.7,656.9 L767.4,657.2 L768.1,657.4 L768.9,657.7 L769.6,658.0 L770.3,658.3 L771.0,658.7 L771.8,659.0 L772.5,659.4 L773.2,659.8 L773.9,660.1 L774.6,660.5 L775.3,661.0 L776.0,661.4 L776.7,661.8 L777.4,662.2 L778.1,662.7 L778.8,663.1 L779.4,663.6 L780.1,664.0 L780.8,664.5 L781.5,664.9 L782.2,665.4 L782.9,665.8 L783.6,666.3 L784.3,666.7 L784.9,667.2 L785.6,667.6 L786.3,668.0 L787.0,668.5 L787.7,668.9 L788.4,669.3 L789.0,669.7 L789.7,670.1 L790.4,670.5 L791.1,670.9 L791.8,671.3 L792.5,671.7 L793.2,672.1 L793.9,672.4 L794.5,672.8 L795.2,673.2 L795.9,673.5 L796.6,673.9 L797.3,674.2 L798.0,674.6 L798.7,674.9 L799.4,675.2 L800.1,675.5 L800.8,675.9 L801.5,676.2 L802.3,676.5 L803.0,676.8 L803.7,677.1 L804.4,677.3 L805.1,677.6 L805.8,677.9 L806.6,678.1 L807.3,678.4 L808.0,678.6 L808.7,678.9 L809.5,679.1 L810.2,679.4 L810.9,679.6 L811.7,679.8 L812.4,680.0 L813.2,680.2 L813.9,680.4 L814.7,680.6 L815.5,680.8 L816.2,680.9 L817.0,681.1 L817.8,681.3 L818.5,681.4 L819.3,681.6 L820.1,681.7 L820.9,681.9 L821.6,682.0 L822.4,682.1 L823.2,682.2 L824.0,682.4 L824.8,682.5 L825.6,682.6 L826.4,682.7 L827.2,682.8 L828.0,682.9 L828.8,683.0 L829.6,683.1 L830.4,683.1 L831.2,683.2 L832.0,683.3 L832.8,683.4 L833.6,683.4 L834.4,683.5 L835.2,683.6 L836.0,683.6 L836.8,683.7 L837.6,683.7 L838.4,683.8 L839.2,683.8 L840.1,683.9 L840.9,683.9 L841.7,684.0 L842.5,684.0 L843.3,684.1 L844.1,684.1 L844.9,684.2 L845.7,684.2 L846.5,684.2 L847.3,684.3 L848.1,684.3 L848.9,684.3 L849.7,684.4 L850.6,684.4 L851.4,684.4 L852.2,684.5 L853.0,684.5 L853.8,684.5 L854.6,684.6 L855.4,684.6 L856.2,684.6 L857.0,684.7 L857.8,684.7 L858.6,684.7 L859.4,684.7 L860.2,684.8 L861.0,684.8 L861.8,684.8 L862.6,684.8 L863.4,684.8 L864.2,684.9 L865.0,684.9 L865.8,684.9 L866.6,684.9 L867.4,684.9 L868.2,685.0 L869.0,685.0 L869.8,685.0 L870.6,685.0 L871.4,685.0 L872.2,685.0 L873.0,685.0 L873.8,685.1 L874.6,685.1 L875.3,685.1 L876.1,685.1 L876.9,685.1 L877.7,685.1 L878.5,685.1 L879.3,685.1 L880.1,685.1 L880.9,685.1 L881.7,685.2 L882.5,685.2 L883.3,685.2 L884.1,685.2 L884.9,685.2 L885.7,685.2 L886.5,685.2 L887.3,685.2 L888.1,685.2 L888.9,685.2 L889.6,685.2 L890.4,685.2 L891.2,685.2 L892.0,685.2 L892.8,685.2 L893.6,685.2 L894.4,685.2 L895.2,685.3 L896.0,685.3 L896.8,685.3 L897.6,685.3 L898.4,685.3 L899.2,685.3 L900.0,685.3 L900.8,685.3 L901.5,685.3 L902.3,685.3 L903.1,685.3 L903.9,685.3 L904.7,685.3 L905.5,685.3 L906.3,685.3 L907.1,685.3 L907.9,685.3 L908.7,685.3 L909.5,685.3 L910.3,685.3 L911.1,685.3 L911.9,685.3 L912.7,685.4 L913.5,685.4 L914.2,685.4 L915.0,685.4 L915.8,685.4 L916.6,685.4 L917.4,685.4 L918.2,685.4 L919.0,685.4 L919.8,685.4 L920.6,685.4 L921.4,685.4 L922.2,685.4 L923.0,685.5 L923.8,685.5 L924.6,685.5 L925.4,685.5 L926.2,685.5 L927.0,685.5 L927.8,685.5 L928.6,685.5 L929.4,685.6 L930.2,685.6 L931.0,685.6 L931.8,685.6 L932.6,685.6 L933.4,685.6 L934.2,685.7 L935.0,685.7 L935.8,685.7 L936.6,685.7 L937.4,685.7 L938.2,685.8 L939.0,685.8 L939.8,685.8 L940.6,685.8 L941.4,685.8 L942.2,685.9 L943.0,685.9 L943.8,685.9 L944.6,685.9 L945.4,686.0 L946.0,686.0"/>
<path stroke="#ff0000" d="M188.0,685.5 L188.7,685.4 L189.4,685.3 L190.1,685.3 L190.8,685.2 L191.5,685.1 L192.2,685.0 L192.9,685.0 L193.6,684.9 L194.3,684.8 L195.0,684.7 L195.7,684.7 L196.4,684.6 L197.1,684.5 L197.8,684.5 L198.4,684.4 L199.3,684.3 L200.2,684.2 L201.1,684.1 L201.9,684.1 L202.8,684.0 L203.7,683.9 L204.5,683.8 L205.4,683.8 L206.3,683.7 L207.2,683.6 L208.0,683.6 L208.9,683.5 L209.8,683.4 L210.6,683.4 L211.5,683.3 L212.4,683.2 L213.3,683.2 L214.1,683.1 L215.0,683.1 L215.9,683.0 L216.8,683.0 L217.6,682.9 L218.5,682.9 L219.4,682.8 L220.2,682.8 L221.1,682.7 L222.0,682.7 L222.9,682.6 L223.7,682.6 L224.6,682.5 L225.5,682.5 L226.3,682.4 L227.2,682.4 L228.1,682.4 L229.0,682.3 L229.8,682.3 L230.7,682.3 L231.6,682.2 L232.5,682.2 L233.3,682.2 L234.2,682.1 L235.1,682.1 L235.9,682.1 L236.8,682.1 L237.7,682.0 L238.6,682.0 L239.4,682.0 L240.3,682.0 L241.2,681.9 L242.1,681.9 L242.9,681.9 L243.8,681.9 L244.7,681.9 L245.6,681.8 L246.4,681.8 L247.3,681.8 L248.2,681.8 L249.0,681.8 L249.9,681.8 L250.8,681.8 L251.7,681.8 L252.5,681.7 L253.4,681.7 L254.3,681.7 L255.2,681.7 L256.0,681.7 L256.9,681.7 L257.8,681.7 L258.7,681.7 L259.5,681.7 L260.4,681.7 L261.3,681.7 L262.2,681.7 L263.0,681.7 L263.9,681.7 L264.8,681.7 L265.6,681.7 L266.5,681.7 L267.4,681.7 L268.3,681.7 L269.1,681.7 L270.0,681.7 L270.9,681.7 L271.8,681.8 L272.6,681.8 L273.5,681.8 L274.4,681.8 L275.3,681.8 L276.1,681.8 L277.0,681.8 L277.9,681.8 L278.8,681.8 L279.6,681.9 L280.5,681.9 L281.4,681.9 L282.3,681.9 L283.1,681.9 L284.0,681.9 L284.9,681.9 L285.8,682.0 L286.6,682.0 L287.5,682.0 L288.4,682.0 L289.3,682.0 L290.1,682.1 L291.0,682.1 L291.9,682.1 L292.8,682.1 L293.6,682.1 L294.5,682.2 L295.4,682.2 L296.2,682.2 L297.1,682.2 L298.0,682.3 L298.9,682.3 L299.7,682.3 L300.6,682.3 L301.3,682.4 L302.0,682.4 L302.7,682.4 L303.4,682.4 L304.1,682.4 L304.8,682.5 L305.5,682.5 L306.2,682.5 L306.9,682.5 L307.6,682.5 L308.3,682.6 L309.0,682.6 L309.7,682.6 L310.4,682.6 L311.1,682.6 L311.8,682.7 L312.5,682.7 L313.2,682.7 L313.9,682.7 L314.6,682.8 L315.3,682.8 L316.0,682.8 L316.7,682.8 L317.4,682.9 L318.1,682.9 L318.8,682.9 L319.5,682.9 L320.2,682.9 L320.9,683.0 L321.6,683.0 L322.3,683.0 L323.0,683.0 L323.7,683.1 L324.4,683.1 L325.1,683.1 L325.8,683.1 L326.5,683.2 L327.2,683.2 L327.9,683.2 L328.6,683.2 L329.3,683.3 L330.0,683.3 L330.7,683.3 L331.4,683.3 L332.1,683.4 L332.8,683.4 L333.5,683.4 L334.2,683.4 L334.9,683.4 L335.6,683.5 L336.3,683.5 L337.0,683.5 L337.7,683.5 L338.4,683.6 L339.1,683.6 L339.8,683.6 L340.5,683.6 L341.2,683.7 L341.9,683.7 L342.6,683.7 L343.3,683.7 L344.0,683.7 L344.7,683.8 L345.4,683.8 L346.3,683.8 L347.2,683.8 L348.0,683.9 L348.9,683.9 L349.8,683.9 L350.7,684.0 L351.5,684.0 L352.4,684.0 L353.3,684.0 L354.2,684.1 L355.0,684.1 L355.9,684.1 L356.8,684.1 L357.6,684.2 L358.5,684.2 L359.4,684.2 L360.3,684.2 L361.1,684.3 L362.0,684.3 L362.9,684.3 L363.8,684.3 L364.6,684.3 L365.5,684.4 L366.4,684.4 L367.3,684.4 L368.1,684.4 L369.0,684.4 L369.9,684.5 L370.8,684.5 L371.6,684.5 L372.5,684.5 L373.4,684.5 L374.3,684.5 L375.1,684.6 L376.0,684.6 L376.9,684.6 L377.8,684.6 L378.6,684.6 L379.5,684.6 L380.4,684.6 L381.2,684.6 L382.1,684.7 L383.0,684.7 L383.9,684.7 L384.7,684.7 L385.6,684.7 L386.5,684.7 L387.4,684.7 L388.2,684.7 L389.1,684.7 L390.0,684.7 L390.9,684.7 L391.7,684.7 L392.6,684.7 L393.5,684.7 L394.4,684.7 L395.2,684.7 L396.1,684.7 L397.0,684.7 L397.8,684.7 L398.7,684.7 L399.6,684.7 L400.5,684.7 L401.3,684.7 L402.2,684.7 L403.1,684.7 L404.0,684.7 L404.8,684.7 L405.7,684.7 L406.6,684.7 L407.4,684.6 L408.3,684.6 L409.2,684.6 L410.1,684.6 L410.9,684.6 L411.8,684.6 L412.7,684.6 L413.6,684.5 L414.4,684.5 L415.3,684.5 L416.2,684.5 L417.0,684.5 L417.9,684.4 L418.8,684.4 L419.7,684.4 L420.5,684.4 L421.4,684.3 L422.3,684.3 L423.1,684.3 L424.0,684.2 L424.9,684.2 L425.8,684.2 L426.6,684.1 L427.5,684.1 L428.4,684.1 L429.2,684.0 L430.1,684.0 L431.0,683.9 L431.9,683.9 L432.7,683.9 L433.6,683.8 L434.5,683.8 L435.3,683.7 L436.2,683.7 L437.1,683.6 L438.0,683.6 L438.8,683.5 L439.7,683.5 L440.6,683.4 L441.4,683.4 L442.3,683.3 L443.2,683.2 L444.1,683.2 L444.9,683.1 L445.8,683.1 L446.7,683.0 L447.5,682.9 L448.4,682.9 L449.3,682.8 L450.2,682.8 L451.0,682.7 L451.9,682.6 L452.8,682.5 L453.6,682.5 L454.5,682.4 L455.4,682.3 L456.3,682.3 L457.1,682.2 L458.0,682.1 L458.9,682.0 L459.7,681.9 L460.6,681.9 L461.5,681.8 L462.3,681.7 L463.2,681.6 L464.1,681.5 L465.0,681.4 L465.8,681.3 L466.5,681.3 L467.2,681.2 L467.9,681.1 L468.6,681.0 L469.3,681.0 L470.0,680.9 L470.7,680.8 L471.4,680.7 L472.1,680.7 L472.8,680.6 L473.5,680.5 L474.2,680.4 L474.9,680.3 L475.6,680.3 L476.3,680.2 L477.0,680.1 L477.7,680.0 L478.4,679.9 L479.1,679.8 L479.8,679.7 L480.4,679.7 L481.1,679.6 L481.8,679.5 L482.5,679.4 L483.2,679.3 L483.9,679.2 L484.6,679.1 L485.3,679.0 L486.0,678.9 L486.7,678.8 L487.4,678.7 L488.1,678.6 L488.8,678.5 L489.5,678.4 L490.2,678.3 L490.9,678.2 L491.6,678.1 L492.3,678.0 L493.0,677.9 L493.7,677.8 L494.4,677.7 L495.1,677.6 L495.8,677.5 L496.5,677.4 L497.2,677.3 L497.8,677.1 L498.5,677.0 L499.2,676.9 L499.9,676.8 L500.6,676.7 L501.3,676.5 L502.0,676.4 L502.7,676.3 L503.4,676.2 L504.1,676.0 L504.8,675.9 L505.5,675.8 L506.1,675.6 L506.8,675.5 L507.5,675.4 L508.2,675.2 L508.9,675.1 L509.6,674.9 L510.3,674.8 L511.1,674.6 L512.0,674.4 L512.8,674.2 L513.7,674.0 L514.5,673.8 L515.4,673.6 L516.2,673.3 L517.1,673.1 L517.9,672.9 L518.7,672.7 L519.6,672.4 L520.4,672.2 L521.2,672.0 L522.1,671.7 L522.9,671.4 L523.7,671.2 L524.6,670.9 L525.4,670.6 L526.2,670.4 L527.0,670.1 L527.8,669.8 L528.7,669.5 L529.5,669.2 L530.3,668.9 L531.1,668.6 L531.9,668.3 L532.7,667.9 L533.5,667.6 L534.3,667.3 L535.1,666.9 L535.9,666.6 L536.7,666.2 L537.4,665.8 L538.2,665.5 L539.0,665.1 L539.8,664.7 L540.5,664.3 L541.3,663.9 L542.1,663.5 L542.8,663.0 L543.6,662.6 L544.4,662.2 L545.1,661.7 L545.9,661.3 L546.6,660.8 L547.3,660.4 L548.1,659.9 L548.8,659.4 L549.5,658.9 L550.3,658.4 L551.0,657.9 L551.7,657.4 L552.3,657.0 L552.8,656.6 L553.4,656.2 L553.9,655.8 L554.5,655.4 L555.0,654.9 L555.6,654.5 L556.1,654.0 L556.7,653.6 L557.2,653.2 L557.8,652.7 L558.3,652.2 L558.8,651.8 L559.4,651.3 L559.9,650.9 L560.4,650.4 L560.9,649.9 L561.4,649.4 L561.9,648.9 L562.4,648.5 L562.9,648.0 L563.4,647.5 L563.9,647.0 L564.4,646.5 L564.9,646.0 L565.4,645.5 L565.9,644.9 L566.3,644.4 L566.8,643.9 L567.3,643.4 L567.7,642.8 L568.2,642.3 L568.6,641.8 L569.1,641.2 L569.5,640.7 L570.0,640.1 L570.4,639.6 L570.8,639.0 L571.3,638.5 L571.7,637.9 L572.1,637.4 L572.5,636.8 L572.9,636.2 L573.3,635.6 L573.7,635.1 L574.1,634.5 L574.5,633.9 L574.9,633.3 L575.2,632.7 L575.6,632.1 L576.0,631.5 L576.3,630.9 L576.7,630.3 L577.1,629.7 L577.4,629.1 L577.7,628.5 L578.1,627.9 L578.4,627.3 L578.7,626.7 L579.1,626.0 L579.4,625.4 L579.7,624.8 L580.0,624.1 L580.3,623.5 L580.6,622.9 L580.9,622.2 L581.2,621.6 L581.4,620.9 L581.7,620.3 L582.0,619.7 L582.3,619.0 L582.6,618.4 L582.8,617.7 L583.1,617.1 L583.4,616.4 L583.6,615.8 L583.9,615.1 L584.2,614.5 L584.4,613.8 L584.7,613.1 L584.9,612.5 L585.2,611.8 L585.4,611.2 L585.7,610.5 L586.0,609.9 L586.2,609.2 L586.5,608.6 L586.7,607.9 L587.0,607.3 L587.3,606.6 L587.5,605.9 L587.8,605.3 L588.0,604.7 L588.3,604.0 L588.6,603.2 L589.0,602.4 L589.3,601.6 L589.7,600.8 L590.0,600.0 L590.4,599.2 L590.8,598.4 L591.1,597.6 L591.5,596.9 L591.9,596.1 L592.3,595.3 L592.7,594.5 L593.1,593.8 L593.5,593.0 L594.0,592.3 L594.4,591.5 L594.8,590.8 L595.3,590.1 L595.8,589.3 L596.2,588.6 L596.7,587.9 L597.2,587.2 L597.7,586.5 L598.2,585.8 L598.7,585.1 L599.2,584.4 L599.7,583.7 L600.2,583.0 L600.7,582.3 L601.2,581.6 L601.7,580.9 L602.2,580.2 L602.8,579.5 L603.3,578.8 L603.8,578.1 L604.3,577.4 L604.8,576.7 L605.3,576.0 L605.9,575.3 L606.4,574.6 L606.9,573.9 L607.4,573.2 L607.9,572.5 L608.4,571.7 L608.9,571.0 L609.4,570.3 L609.8,569.6 L610.3,568.9 L610.8,568.1 L611.2,567.4 L611.7,566.6 L612.1,565.9 L612.6,565.1 L613.0,564.4 L613.3,563.7 L613.7,563.1 L614.0,562.5 L614.3,561.9 L614.6,561.3 L614.9,560.6 L615.2,560.0 L615.5,559.4 L615.8,558.7 L616.1,558.1 L616.4,557.4 L616.7,556.8 L617.0,556.1 L617.3,555.5 L617.5,554.8 L617.8,554.2 L618.1,553.5 L618.3,552.8 L618.6,552.2 L618.8,551.5 L619.1,550.9 L619.3,550.2 L619.6,549.5 L619.8,548.9 L620.1,548.2 L620.3,547.5 L620.5,546.8 L620.8,546.2 L621.0,545.5 L621.2,544.8 L621.5,544.2 L621.7,543.5 L621.9,542.8 L622.1,542.1 L622.3,541.5 L622.6,540.8 L622.8,540.1 L623.0,539.4 L623.2,538.8 L623.4,538.1 L623.6,537.4 L623.8,536.7 L624.0,536.1 L624.2,535.4 L624.5,534.7 L624.7,533.9 L625.0,533.1 L625.2,532.2 L625.5,531.4 L625.7,530.6 L626.0,529.7 L626.2,528.9 L626.5,528.1 L626.8,527.3 L627.0,526.4 L627.3,525.6 L627.5,524.8 L627.8,524.0 L628.0,523.2 L628.3,522.3 L628.5,521.5 L628.8,520.7 L629.0,519.9 L629.3,519.1 L629.5,518.3 L629.8,517.5 L630.0,516.6 L630.3,515.8 L630.5,515.0 L630.8,514.2 L631.1,513.4 L631.3,512.6 L631.6,511.8 L631.8,511.0 L632.1,510.2 L632.3,509.3 L632.6,508.5 L632.9,507.7 L633.1,506.9 L633.4,506.1 L633.7,505.3 L633.9,504.5 L634.2,503.7 L634.5,502.9 L634.7,502.0 L635.0,501.2 L635.3,500.4 L635.6,499.6 L635.8,498.8 L636.1,498.0 L636.4,497.2 L636.7,496.3 L637.0,495.5 L637.2,494.7 L637.5,493.9 L637.8,493.1 L638.1,492.2 L638.4,491.6 L638.6,490.9 L638.8,490.2 L639.1,489.6 L639.3,488.9 L639.6,488.3 L639.8,487.6 L640.0,486.9 L640.3,486.3 L640.5,485.6 L640.8,484.9 L641.0,484.3 L641.3,483.6 L641.6,482.9 L641.8,482.2 L642.1,481.6 L642.3,480.9 L642.6,480.2 L642.9,479.5 L643.1,478.9 L643.4,478.2 L643.7,477.5 L644.0,476.8 L644.2,476.1 L644.5,475.4 L644.8,474.7 L645.1,474.1 L645.4,473.4 L645.7,472.7 L645.9,472.0 L646.2,471.3 L646.5,470.6 L646.8,469.9 L647.2,469.2 L647.5,468.6 L647.8,467.9 L648.2,467.3 L648.5,466.7 L649.0,466.0 L649.5,465.3 L650.1,464.7 L650.7,464.2 L651.3,463.7 L652.0,463.3 L652.8,463.0 L653.5,462.8 L654.3,462.7 L655.1,462.7 L655.9,462.9 L656.7,463.2 L657.5,463.5 L658.2,464.0 L658.8,464.4 L659.3,464.9 L659.9,465.4 L660.4,465.9 L660.8,466.4 L661.3,467.0 L661.7,467.5 L662.1,468.1 L662.5,468.7 L662.8,469.3 L663.1,469.9 L663.4,470.6 L663.7,471.2 L664.0,471.9 L664.2,472.6 L664.5,473.2 L664.7,473.9 L664.9,474.6 L665.1,475.3 L665.3,476.0 L665.5,476.7 L665.6,477.4 L665.8,478.1 L666.0,478.8 L666.1,479.5 L666.3,480.2 L666.4,480.9 L666.6,481.6 L666.8,482.3 L666.9,483.0 L667.1,483.7 L667.3,484.4 L667.4,485.1 L667.6,485.8 L667.7,486.5 L667.9,487.2 L668.1,487.9 L668.2,488.6 L668.4,489.3 L668.6,490.0 L668.7,490.6 L668.9,491.3 L669.0,492.0 L669.2,492.7 L669.4,493.4 L669.5,494.1 L669.7,494.8 L669.9,495.5 L670.0,496.1 L670.2,496.8 L670.3,497.5 L670.5,498.2 L670.7,498.9 L670.8,499.6 L671.0,500.2 L671.2,500.9 L671.3,501.6 L671.5,502.3 L671.7,503.1 L671.9,504.0 L672.1,504.8 L672.3,505.7 L672.5,506.5 L672.7,507.4 L672.9,508.2 L673.1,509.1 L673.3,509.9 L673.5,510.8 L673.7,511.6 L673.9,512.5 L674.1,513.3 L674.3,514.2 L674.5,515.0 L674.7,515.9 L674.9,516.7 L675.1,517.6 L675.3,518.4 L675.5,519.3 L675.7,520.1 L675.9,520.9 L676.1,521.8 L676.3,522.6 L676.4,523.5 L676.6,524.3 L676.8,525.2 L677.0,526.0 L677.2,526.9 L677.4,527.7 L677.6,528.6 L677.8,529.4 L678.0,530.2 L678.2,531.1 L678.4,531.9 L678.6,532.8 L678.8,533.6 L679.0,534.5 L679.2,535.3 L679.4,536.1 L679.6,537.0 L679.7,537.8 L679.9,538.7 L680.1,539.5 L680.3,540.4 L680.5,541.2 L680.7,542.1 L680.9,542.9 L681.1,543.7 L681.3,544.6 L681.5,545.4 L681.6,546.3 L681.8,547.1 L682.0,548.0 L682.2,548.8 L682.4,549.7 L682.6,550.5 L682.8,551.4 L683.0,552.2 L683.1,553.0 L683.3,553.9 L683.5,554.7 L683.7,555.6 L683.9,556.4 L684.1,557.3 L684.2,558.1 L684.4,559.0 L684.6,559.8 L684.8,560.7 L685.0,561.5 L685.2,562.4 L685.3,563.2 L685.5,564.1 L685.7,564.9 L685.9,565.8 L686.1,566.6 L686.2,567.5 L686.4,568.3 L686.6,569.2 L686.8,570.0 L686.9,570.9 L687.1,571.7 L687.3,572.6 L687.5,573.5 L687.7,574.3 L687.8,575.2 L688.0,576.0 L688.2,576.9 L688.3,577.6 L688.5,578.3 L688.6,578.9 L688.7,579.6 L688.9,580.3 L689.0,581.0 L689.1,581.7 L689.3,582.4 L689.4,583.1 L689.6,583.8 L689.7,584.4 L689.8,585.1 L690.0,585.8 L690.1,586.5 L690.2,587.2 L690.4,587.9 L690.5,588.6 L690.6,589.3 L690.8,590.0 L690.9,590.7 L691.0,591.4 L691.2,592.1 L691.3,592.8 L691.4,593.5 L691.6,594.2 L691.7,594.8 L691.8,595.5 L692.0,596.2 L692.1,596.9 L692.2,597.6 L692.4,598.3 L692.5,599.0 L692.6,599.7 L692.7,600.4 L692.9,601.1 L693.0,601.8 L693.1,602.5 L693.3,603.2 L693.4,603.9 L693.5,604.6 L693.6,605.4 L693.8,606.1 L693.9,606.8 L694.0,607.5 L694.1,608.2 L694.3,608.9 L694.4,609.6 L694.5,610.3 L694.6,611.0 L694.8,611.7 L694.9,612.4 L695.0,613.1 L695.1,613.8 L695.3,614.6 L695.4,615.3 L695.5,616.0 L695.6,616.7 L695.7,617.4 L695.9,618.1 L696.0,618.8 L696.1,619.5 L696.2,620.3 L696.4,621.0 L696.5,621.7 L696.7,622.4 L696.8,623.1 L697.0,623.8 L697.1,624.4 L697.3,625.1 L697.5,626.0 L697.7,626.8 L698.0,627.6 L698.2,628.5 L698.5,629.3 L698.8,630.1 L699.1,630.8 L699.4,631.6 L699.7,632.4 L700.1,633.1 L700.5,633.8 L700.9,634.5 L701.3,635.2 L701.8,635.9 L702.3,636.5 L702.8,637.1 L703.3,637.7 L703.9,638.3 L704.5,638.9 L705.1,639.4 L705.8,639.9 L706.5,640.4 L707.2,640.8 L708.0,641.2 L708.7,641.6 L709.5,641.9 L710.3,642.2 L711.1,642.5 L711.9,642.7 L712.7,642.8 L713.5,642.8 L714.3,642.8 L715.1,642.8 L715.9,642.6 L716.6,642.4 L717.4,642.2 L718.1,641.9 L718.9,641.5 L719.6,641.1 L720.3,640.6 L721.0,640.2 L721.6,639.8 L722.2,639.3 L722.8,638.9 L723.4,638.5 L723.9,638.0 L724.5,637.6 L725.1,637.1 L725.7,636.7 L726.3,636.2 L726.9,635.8 L727.5,635.3 L728.2,634.9 L728.8,634.5 L729.4,634.1 L730.1,633.7 L730.7,633.3 L731.4,633.0 L732.1,632.6 L732.7,632.3 L733.4,632.0 L734.1,631.7 L734.8,631.4 L735.4,631.1 L736.1,630.9 L736.8,630.7 L737.5,630.5 L738.2,630.3 L738.9,630.1 L739.6,630.0 L740.3,629.8 L741.1,629.7 L742.0,629.6 L742.8,629.6 L743.7,629.6 L744.6,629.6 L745.4,629.7 L746.3,629.7 L747.1,629.9 L747.9,630.0 L748.8,630.2 L749.6,630.4 L750.4,630.6 L751.3,630.9 L752.1,631.1 L752.9,631.5 L753.7,631.8 L754.5,632.1 L755.2,632.5 L756.0,632.9 L756.6,633.3 L757.2,633.6 L757.8,634.0 L758.4,634.4 L759.0,634.8 L759.6,635.2 L760.2,635.6 L760.8,636.0 L761.3,636.5 L761.9,636.9 L762.4,637.4 L762.9,637.9 L763.5,638.3 L764.0,638.8 L764.5,639.3 L765.0,639.9 L765.5,640.4 L766.0,640.9 L766.4,641.4 L766.9,642.0 L767.4,642.5 L767.8,643.1 L768.2,643.6 L768.7,644.2 L769.1,644.8 L769.5,645.4 L769.9,645.9 L770.2,646.5 L770.6,647.1 L771.0,647.7 L771.3,648.3 L771.7,648.9 L772.1,649.5 L772.4,650.1 L772.7,650.7 L773.1,651.4 L773.4,652.0 L773.7,652.6 L774.1,653.2 L774.4,653.8 L774.7,654.5 L775.0,655.1 L775.4,655.7 L775.7,656.3 L776.0,656.9 L776.3,657.6 L776.7,658.3 L777.1,659.1 L777.6,659.9 L778.0,660.6 L778.4,661.4 L778.9,662.2 L779.3,662.9 L779.7,663.5 L780.0,664.1 L780.4,664.7 L780.8,665.3 L781.2,665.9 L781.6,666.4 L782.0,667.0 L782.4,667.6 L782.9,668.1 L783.3,668.7 L783.8,669.2 L784.2,669.8 L784.7,670.3 L785.2,670.8 L785.7,671.3 L786.2,671.9 L786.7,672.4 L787.2,672.8 L787.7,673.3 L788.2,673.8 L788.8,674.3 L789.3,674.7 L789.9,675.2 L790.4,675.6 L791.0,676.0 L791.6,676.4 L792.2,676.8 L792.9,677.3 L793.6,677.8 L794.4,678.2 L795.1,678.6 L795.9,679.0 L796.7,679.4 L797.4,679.8 L798.2,680.1 L799.0,680.5 L799.8,680.8 L800.6,681.1 L801.4,681.4 L802.2,681.7 L803.1,681.9 L803.9,682.2 L804.7,682.4 L805.6,682.6 L806.4,682.8 L807.2,683.0 L808.1,683.2 L808.9,683.4 L809.8,683.6 L810.7,683.7 L811.3,683.8 L812.0,683.9 L812.7,684.0 L813.4,684.1 L814.1,684.2 L814.8,684.3 L815.5,684.4 L816.2,684.5 L816.9,684.6 L817.6,684.6 L818.3,684.7 L819.0,684.8 L819.7,684.8 L820.4,684.9 L821.1,684.9 L821.9,685.0 L822.6,685.0 L823.3,685.1 L824.0,685.1 L824.7,685.2 L825.4,685.2 L826.1,685.2 L826.8,685.3 L827.5,685.3 L828.2,685.3 L828.9,685.4 L829.6,685.4 L830.3,685.4 L831.0,685.5 L831.7,685.5 L832.4,685.5 L833.1,685.5 L834.0,685.6 L834.8,685.6 L835.7,685.6 L836.6,685.6 L837.5,685.7 L838.3,685.7 L839.2,685.7 L840.1,685.7 L840.9,685.7 L841.8,685.8 L842.7,685.8 L843.6,685.8 L844.4,685.8 L845.3,685.8 L846.2,685.8 L847.0,685.8 L847.9,685.9 L848.8,685.9 L849.7,685.9 L850.5,685.9 L851.4,685.9 L852.3,685.9 L853.2,685.9 L854.0,685.9 L854.9,686.0 L855.8,686.0 L856.6,686.0 L857.5,686.0 L858.4,686.0 L859.3,686.0 L860.1,686.0 L861.0,686.0 L861.9,686.0 L862.8,686.1 L863.6,686.1 L864.5,686.1 L865.4,686.1 L866.3,686.1 L867.1,686.1 L868.0,686.1 L868.9,686.1 L869.7,686.1 L870.6,686.2 L871.5,686.2 L872.4,686.2 L873.2,686.2 L874.1,686.2 L875.0,686.2 L875.9,686.2 L876.7,686.2 L877.6,686.2 L878.5,686.2 L879.4,686.3 L880.2,686.3 L881.1,686.3 L882.0,686.3 L882.9,686.3 L883.7,686.3 L884.6,686.3 L885.5,686.3 L886.4,686.3 L887.2,686.3 L888.1,686.3 L889.0,686.3 L889.7,686.3 L890.4,686.3 L891.1,686.3 L891.8,686.4 L892.5,686.4 L893.2,686.4 L893.9,686.4 L894.6,686.4 L895.3,686.4 L896.0,686.4 L896.7,686.4 L897.4,686.4 L898.1,686.4 L898.8,686.4 L899.5,686.4 L900.2,686.4 L900.9,686.4 L901.6,686.4 L902.3,686.4 L903.0,686.4 L903.7,686.4 L904.4,686.4 L905.1,686.4 L905.8,686.4 L906.5,686.4 L907.2,686.4 L907.9,686.4 L908.6,686.4 L909.5,686.4 L910.3,686.4 L911.2,686.4 L912.1,686.4 L913.0,686.4 L913.8,686.4 L914.7,686.4 L915.6,686.4 L916.5,686.4 L917.3,686.4 L918.2,686.4 L919.1,686.4 L920.0,686.4 L920.8,686.4 L921.7,686.4 L922.6,686.3 L923.5,686.3 L924.3,686.3 L925.2,686.3 L926.1,686.3 L927.0,686.3 L927.8,686.3 L928.7,686.3 L929.6,686.3 L930.5,686.3 L931.3,686.3 L932.2,686.2 L933.1,686.2 L934.0,686.2 L934.8,686.2 L935.7,686.2 L936.6,686.2 L937.4,686.2 L938.3,686.2 L939.2,686.1 L940.1,686.1 L940.9,686.1 L941.8,686.1 L942.7,686.1 L943.6,686.1 L944.4,686.0 L945.3,686.0 L946.0,686.0"/>
<path stroke="#008000" d="M190.0,687.5 L190.7,687.4 L191.4,687.3 L192.1,687.2 L192.9,687.1 L193.6,686.9 L194.3,686.8 L195.0,686.7 L195.7,686.6 L196.4,686.6 L197.1,686.5 L197.9,686.4 L198.6,686.3 L199.3,686.2 L200.0,686.1 L200.7,686.0 L201.4,686.0 L202.2,685.9 L202.9,685.8 L203.6,685.7 L204.3,685.7 L205.0,685.6 L205.8,685.5 L206.5,685.5 L207.2,685.4 L207.9,685.4 L208.6,685.3 L209.4,685.3 L210.1,685.2 L210.8,685.1 L211.5,685.1 L212.2,685.1 L213.0,685.0 L213.7,685.0 L214.4,684.9 L215.1,684.9 L215.9,684.8 L216.6,684.8 L217.3,684.8 L218.0,684.7 L218.8,684.7 L219.5,684.7 L220.2,684.6 L220.9,684.6 L221.6,684.6 L222.4,684.5 L223.1,684.5 L223.8,684.5 L224.5,684.5 L225.3,684.4 L226.0,684.4 L226.7,684.4 L227.4,684.4 L228.2,684.4 L228.9,684.3 L229.6,684.3 L230.3,684.3 L231.1,684.3 L231.8,684.3 L232.5,684.3 L233.2,684.3 L234.0,684.2 L234.7,684.2 L235.4,684.2 L236.1,684.2 L236.9,684.2 L237.6,684.2 L238.3,684.2 L239.0,684.2 L239.8,684.2 L240.5,684.2 L241.2,684.1 L241.9,684.1 L242.7,684.1 L243.4,684.1 L244.1,684.1 L244.8,684.1 L245.6,684.1 L246.3,684.1 L247.0,684.1 L247.7,684.1 L248.5,684.1 L249.2,684.1 L249.9,684.0 L250.6,684.0 L251.4,684.0 L252.1,684.0 L252.8,684.0 L253.5,684.0 L254.3,684.0 L255.0,684.0 L255.7,684.0 L256.4,684.0 L257.2,684.0 L257.9,684.0 L258.6,684.0 L259.3,684.0 L260.1,683.9 L260.8,683.9 L261.5,683.9 L262.2,683.9 L263.0,683.9 L263.7,683.9 L264.4,683.9 L265.1,683.9 L265.9,683.9 L266.6,683.9 L267.3,683.9 L268.0,683.9 L268.8,683.9 L269.5,683.9 L270.2,683.9 L270.9,683.9 L271.7,683.9 L272.4,683.8 L273.1,683.8 L273.8,683.8 L274.5,683.8 L275.3,683.8 L276.0,683.8 L276.7,683.8 L277.4,683.8 L278.2,683.8 L278.9,683.8 L279.6,683.8 L280.3,683.8 L281.1,683.8 L281.8,683.8 L282.5,683.8 L283.2,683.8 L284.0,683.8 L284.7,683.8 L285.4,683.8 L286.1,683.8 L286.9,683.8 L287.6,683.8 L288.3,683.8 L289.0,683.8 L289.7,683.8 L290.5,683.8 L291.2,683.8 L291.9,683.8 L292.6,683.8 L293.4,683.8 L294.1,683.8 L294.8,683.8 L295.5,683.8 L296.3,683.8 L297.0,683.8 L297.7,683.8 L298.4,683.8 L299.2,683.8 L299.9,683.8 L300.6,683.8 L301.3,683.8 L302.0,683.8 L302.8,683.8 L303.5,683.8 L304.2,683.8 L304.9,683.8 L305.7,683.8 L306.4,683.8 L307.1,683.8 L307.8,683.8 L308.6,683.8 L309.3,683.8 L310.0,683.8 L310.7,683.8 L311.5,683.8 L312.2,683.8 L312.9,683.8 L313.6,683.8 L314.3,683.9 L315.1,683.9 L315.8,683.9 L316.5,683.9 L317.2,683.9 L318.0,683.9 L318.7,683.9 L319.4,683.9 L320.1,683.9 L320.9,683.9 L321.6,683.9 L322.3,683.9 L323.0,684.0 L323.8,684.0 L324.5,684.0 L325.2,684.0 L325.9,684.0 L326.7,684.0 L327.4,684.0 L328.1,684.0 L328.8,684.0 L329.5,684.0 L330.3,684.1 L331.0,684.1 L331.7,684.1 L332.4,684.1 L333.2,684.1 L333.9,684.1 L334.6,684.1 L335.3,684.1 L336.1,684.1 L336.8,684.2 L337.5,684.2 L338.2,684.2 L339.0,684.2 L339.7,684.2 L340.4,684.2 L341.1,684.2 L341.9,684.2 L342.6,684.3 L343.3,684.3 L344.0,684.3 L344.7,684.3 L345.5,684.3 L346.2,684.3 L346.9,684.3 L347.6,684.3 L348.4,684.4 L349.1,684.4 L349.8,684.4 L350.5,684.4 L351.3,684.4 L352.0,684.4 L352.7,684.4 L353.4,684.4 L354.2,684.5 L354.9,684.5 L355.6,684.5 L356.3,684.5 L357.1,684.5 L357.8,684.5 L358.5,684.5 L359.2,684.5 L359.9,684.6 L360.7,684.6 L361.4,684.6 L362.1,684.6 L362.8,684.6 L363.6,684.6 L364.3,684.6 L365.0,684.6 L365.7,684.7 L366.5,684.7 L367.2,684.7 L367.9,684.7 L368.6,684.7 L369.4,684.7 L370.1,684.7 L370.8,684.7 L371.5,684.7 L372.3,684.8 L373.0,684.8 L373.7,684.8 L374.4,684.8 L375.2,684.8 L375.9,684.8 L376.6,684.8 L377.3,684.8 L378.0,684.8 L378.8,684.8 L379.5,684.8 L380.2,684.9 L380.9,684.9 L381.7,684.9 L382.4,684.9 L383.1,684.9 L383.8,684.9 L384.6,684.9 L385.3,684.9 L386.0,684.9 L386.7,684.9 L387.5,684.9 L388.2,684.9 L388.9,684.9 L389.6,684.9 L390.4,684.9 L391.1,685.0 L391.8,685.0 L392.5,685.0 L393.3,685.0 L394.0,685.0 L394.7,685.0 L395.4,685.0 L396.2,685.0 L396.9,685.0 L397.6,685.0 L398.3,685.0 L399.1,685.0 L399.8,685.0 L400.5,685.0 L401.2,685.0 L401.9,685.0 L402.7,685.0 L403.4,685.0 L404.1,685.0 L404.8,685.0 L405.6,685.0 L406.3,685.0 L407.0,685.0 L407.7,685.0 L408.5,685.0 L409.2,685.0 L409.9,685.0 L410.6,685.0 L411.4,685.0 L412.1,685.0 L412.8,684.9 L413.5,684.9 L414.3,684.9 L415.0,684.9 L415.7,684.9 L416.4,684.9 L417.2,684.9 L417.9,684.9 L418.6,684.9 L419.3,684.9 L420.1,684.9 L420.8,684.9 L421.5,684.8 L422.2,684.8 L423.0,684.8 L423.7,684.8 L424.4,684.8 L425.1,684.8 L425.8,684.8 L426.6,684.7 L427.3,684.7 L428.0,684.7 L428.7,684.7 L429.5,684.7 L430.2,684.7 L430.9,684.6 L431.6,684.6 L432.4,684.6 L433.1,684.6 L433.8,684.6 L434.5,684.5 L435.3,684.5 L436.0,684.5 L436.7,684.5 L437.4,684.5 L438.2,684.4 L438.9,684.4 L439.6,684.4 L440.3,684.4 L441.1,684.3 L441.8,684.3 L442.5,684.3 L443.2,684.2 L444.0,684.2 L444.7,684.2 L445.4,684.2 L446.1,684.1 L446.9,684.1 L447.6,684.1 L448.3,684.0 L449.0,684.0 L449.7,684.0 L450.5,683.9 L451.2,683.9 L451.9,683.8 L452.6,683.8 L453.4,683.8 L454.1,683.7 L454.8,683.7 L455.5,683.6 L456.3,683.6 L457.0,683.6 L457.7,683.5 L458.4,683.5 L459.2,683.4 L459.9,683.4 L460.6,683.3 L461.3,683.3 L462.0,683.2 L462.8,683.2 L463.5,683.1 L464.2,683.1 L464.9,683.0 L465.7,683.0 L466.4,682.9 L467.1,682.8 L467.8,682.8 L468.6,682.7 L469.3,682.7 L470.0,682.6 L470.7,682.5 L471.4,682.5 L472.2,682.4 L472.9,682.3 L473.6,682.3 L474.3,682.2 L475.0,682.1 L475.8,682.1 L476.5,682.0 L477.2,681.9 L477.9,681.8 L478.7,681.8 L479.4,681.7 L480.1,681.6 L480.8,681.5 L481.5,681.5 L482.3,681.4 L483.0,681.3 L483.7,681.2 L484.4,681.1 L485.1,681.0 L485.9,680.9 L486.6,680.9 L487.3,680.8 L488.0,680.7 L488.7,680.6 L489.5,680.5 L490.2,680.4 L490.9,680.3 L491.6,680.2 L492.3,680.1 L493.0,680.0 L493.8,679.9 L494.5,679.8 L495.2,679.7 L495.9,679.6 L496.6,679.5 L497.4,679.4 L498.1,679.2 L498.8,679.1 L499.5,679.0 L500.2,678.9 L500.9,678.8 L501.7,678.7 L502.4,678.5 L503.1,678.4 L503.8,678.3 L504.5,678.2 L505.2,678.0 L505.9,677.9 L506.7,677.8 L507.4,677.6 L508.1,677.5 L508.8,677.4 L509.5,677.2 L510.2,677.1 L510.9,676.9 L511.6,676.8 L512.4,676.6 L513.1,676.5 L513.8,676.3 L514.5,676.2 L515.2,676.0 L515.9,675.9 L516.6,675.7 L517.3,675.5 L518.0,675.4 L518.7,675.2 L519.4,675.0 L520.1,674.8 L520.8,674.7 L521.5,674.5 L522.2,674.3 L522.9,674.1 L523.6,673.9 L524.3,673.7 L525.0,673.5 L525.7,673.3 L526.3,673.1 L527.0,672.9 L527.7,672.7 L528.4,672.4 L529.1,672.2 L529.8,672.0 L530.4,671.8 L531.1,671.5 L531.8,671.3 L532.5,671.1 L533.1,670.8 L533.8,670.6 L534.5,670.3 L535.1,670.0 L535.8,669.8 L536.5,669.5 L537.1,669.2 L537.8,669.0 L538.5,668.7 L539.1,668.4 L539.8,668.1 L540.4,667.8 L541.1,667.5 L541.7,667.2 L542.4,666.9 L543.0,666.6 L543.6,666.3 L544.3,666.0 L544.9,665.6 L545.5,665.3 L546.2,665.0 L546.8,664.6 L547.4,664.3 L548.0,663.9 L548.7,663.6 L549.3,663.2 L549.9,662.8 L550.5,662.5 L551.1,662.1 L551.7,661.7 L552.3,661.3 L552.9,660.9 L553.5,660.5 L554.1,660.1 L554.7,659.7 L555.3,659.2 L555.9,658.8 L556.5,658.4 L557.0,657.9 L557.6,657.5 L558.2,657.0 L558.8,656.6 L559.3,656.1 L559.9,655.7 L560.5,655.2 L561.0,654.7 L561.6,654.2 L562.1,653.7 L562.7,653.2 L563.2,652.7 L563.7,652.2 L564.3,651.7 L564.8,651.2 L565.3,650.7 L565.8,650.2 L566.4,649.6 L566.9,649.1 L567.4,648.6 L567.9,648.0 L568.4,647.5 L568.9,647.0 L569.4,646.4 L569.8,645.8 L570.3,645.3 L570.8,644.7 L571.3,644.2 L571.7,643.6 L572.2,643.0 L572.6,642.4 L573.1,641.9 L573.5,641.3 L574.0,640.7 L574.4,640.1 L574.8,639.5 L575.3,638.9 L575.7,638.3 L576.1,637.7 L576.5,637.1 L576.9,636.5 L577.3,635.9 L577.7,635.3 L578.1,634.7 L578.5,634.1 L578.8,633.5 L579.2,632.9 L579.6,632.2 L579.9,631.6 L580.3,631.0 L580.7,630.4 L581.0,629.7 L581.4,629.1 L581.7,628.5 L582.1,627.9 L582.4,627.2 L582.7,626.6 L583.1,626.0 L583.4,625.3 L583.7,624.7 L584.1,624.1 L584.4,623.4 L584.7,622.8 L585.0,622.1 L585.4,621.5 L585.7,620.8 L586.0,620.2 L586.3,619.6 L586.6,618.9 L587.0,618.3 L587.3,617.6 L587.6,617.0 L587.9,616.3 L588.2,615.7 L588.5,615.0 L588.8,614.4 L589.2,613.8 L589.5,613.1 L589.8,612.5 L590.1,611.8 L590.4,611.2 L590.8,610.5 L591.1,609.9 L591.4,609.2 L591.7,608.6 L592.1,608.0 L592.4,607.3 L592.7,606.7 L593.0,606.0 L593.4,605.4 L593.7,604.8 L594.0,604.1 L594.4,603.5 L594.7,602.8 L595.1,602.2 L595.4,601.6 L595.7,600.9 L596.1,600.3 L596.4,599.6 L596.8,599.0 L597.1,598.4 L597.4,597.7 L597.8,597.1 L598.1,596.5 L598.5,595.8 L598.8,595.2 L599.1,594.5 L599.5,593.9 L599.8,593.3 L600.2,592.6 L600.5,592.0 L600.8,591.3 L601.2,590.7 L601.5,590.1 L601.9,589.4 L602.2,588.8 L602.5,588.1 L602.8,587.5 L603.2,586.8 L603.5,586.2 L603.8,585.6 L604.1,584.9 L604.5,584.3 L604.8,583.6 L605.1,583.0 L605.4,582.3 L605.7,581.7 L606.0,581.0 L606.3,580.3 L606.6,579.7 L606.9,579.0 L607.2,578.4 L607.5,577.7 L607.8,577.0 L608.1,576.4 L608.4,575.7 L608.7,575.1 L608.9,574.4 L609.2,573.7 L609.5,573.0 L609.7,572.4 L610.0,571.7 L610.2,571.0 L610.5,570.3 L610.7,569.7 L611.0,569.0 L611.2,568.3 L611.5,567.6 L611.7,566.9 L611.9,566.2 L612.2,565.5 L612.4,564.9 L612.6,564.2 L612.8,563.5 L613.0,562.8 L613.3,562.1 L613.5,561.4 L613.7,560.7 L613.9,560.0 L614.1,559.3 L614.3,558.6 L614.5,557.9 L614.7,557.2 L614.9,556.5 L615.1,555.8 L615.3,555.1 L615.5,554.4 L615.7,553.7 L615.9,553.0 L616.1,552.3 L616.3,551.6 L616.5,550.9 L616.7,550.2 L616.9,549.5 L617.1,548.8 L617.3,548.2 L617.5,547.5 L617.7,546.8 L617.9,546.1 L618.1,545.4 L618.3,544.7 L618.5,544.0 L618.7,543.3 L618.9,542.6 L619.1,541.9 L619.3,541.2 L619.5,540.5 L619.7,539.8 L619.9,539.1 L620.2,538.4 L620.4,537.8 L620.6,537.1 L620.8,536.4 L621.0,535.7 L621.2,535.0 L621.4,534.3 L621.6,533.6 L621.8,532.9 L622.0,532.2 L622.2,531.5 L622.4,530.9 L622.7,530.2 L622.9,529.5 L623.1,528.8 L623.3,528.1 L623.5,527.4 L623.7,526.7 L623.9,526.0 L624.1,525.3 L624.3,524.6 L624.5,524.0 L624.7,523.3 L624.9,522.6 L625.2,521.9 L625.4,521.2 L625.6,520.5 L625.8,519.8 L626.0,519.1 L626.2,518.4 L626.4,517.7 L626.6,517.0 L626.8,516.3 L627.0,515.6 L627.2,514.9 L627.4,514.2 L627.6,513.5 L627.8,512.8 L628.0,512.2 L628.2,511.5 L628.4,510.8 L628.6,510.1 L628.8,509.4 L628.9,508.7 L629.1,507.9 L629.3,507.2 L629.5,506.5 L629.7,505.8 L629.9,505.1 L630.1,504.4 L630.3,503.7 L630.4,503.0 L630.6,502.3 L630.8,501.6 L631.0,500.9 L631.1,500.2 L631.3,499.5 L631.5,498.7 L631.7,498.0 L631.9,497.3 L632.0,496.6 L632.2,495.9 L632.4,495.2 L632.6,494.5 L632.7,493.8 L632.9,493.1 L633.1,492.3 L633.2,491.6 L633.4,490.9 L633.6,490.2 L633.8,489.5 L633.9,488.8 L634.1,488.1 L634.3,487.4 L634.5,486.7 L634.7,486.0 L634.8,485.3 L635.0,484.6 L635.2,483.9 L635.4,483.2 L635.6,482.5 L635.8,481.8 L635.9,481.1 L636.1,480.4 L636.3,479.7 L636.5,479.0 L636.7,478.3 L636.9,477.6 L637.1,476.9 L637.3,476.3 L637.5,475.6 L637.7,474.9 L637.9,474.2 L638.1,473.5 L638.3,472.9 L638.5,472.2 L638.7,471.5 L639.0,470.7 L639.3,469.9 L639.6,469.0 L639.8,468.2 L640.1,467.4 L640.4,466.6 L640.6,465.9 L640.9,465.2 L641.1,464.6 L641.3,463.9 L641.6,463.2 L641.8,462.6 L642.1,461.9 L642.3,461.2 L642.5,460.6 L642.8,459.9 L643.0,459.2 L643.3,458.5 L643.5,457.8 L643.8,457.1 L644.0,456.4 L644.3,455.7 L644.5,455.0 L644.8,454.3 L645.0,453.5 L645.3,452.8 L645.5,452.1 L645.8,451.3 L646.1,450.6 L646.3,449.9 L646.7,449.2 L647.0,448.5 L647.4,447.9 L647.8,447.3 L648.2,446.7 L648.7,446.1 L649.2,445.6 L649.7,445.2 L650.3,444.7 L651.0,444.4 L651.7,444.1 L652.4,443.9 L653.2,443.8 L654.0,443.9 L654.7,444.2 L655.4,444.7 L656.1,445.3 L656.6,445.8 L657.0,446.4 L657.5,447.0 L657.9,447.6 L658.3,448.3 L658.7,448.9 L659.1,449.5 L659.5,450.2 L659.9,450.8 L660.3,451.4 L660.7,452.1 L661.0,452.7 L661.4,453.4 L661.7,454.0 L662.1,454.7 L662.4,455.3 L662.7,456.0 L663.0,456.7 L663.3,457.3 L663.6,458.0 L663.9,458.7 L664.2,459.3 L664.4,460.0 L664.7,460.7 L665.0,461.3 L665.2,462.0 L665.5,462.7 L665.7,463.4 L665.9,464.1 L666.2,464.7 L666.4,465.4 L666.6,466.1 L666.8,466.8 L667.0,467.5 L667.3,468.2 L667.5,468.9 L667.7,469.6 L667.8,470.3 L668.0,470.9 L668.2,471.6 L668.4,472.3 L668.6,473.0 L668.8,473.7 L668.9,474.4 L669.1,475.1 L669.3,475.8 L669.5,476.5 L669.6,477.2 L669.8,477.9 L669.9,478.6 L670.1,479.3 L670.3,480.0 L670.4,480.7 L670.6,481.4 L670.8,482.1 L670.9,482.9 L671.1,483.6 L671.2,484.3 L671.4,485.0 L671.5,485.7 L671.7,486.4 L671.8,487.1 L672.0,487.8 L672.1,488.5 L672.3,489.2 L672.4,489.9 L672.6,490.6 L672.7,491.3 L672.9,492.0 L673.0,492.7 L673.2,493.4 L673.3,494.1 L673.5,494.9 L673.6,495.6 L673.7,496.3 L673.9,497.0 L674.0,497.7 L674.2,498.4 L674.3,499.1 L674.4,499.8 L674.6,500.5 L674.7,501.2 L674.9,502.0 L675.0,502.7 L675.1,503.4 L675.3,504.1 L675.4,504.8 L675.5,505.5 L675.7,506.2 L675.8,506.9 L675.9,507.6 L676.1,508.4 L676.2,509.1 L676.3,509.8 L676.4,510.5 L676.6,511.2 L676.7,511.9 L676.8,512.6 L677.0,513.4 L677.1,514.1 L677.2,514.8 L677.3,515.5 L677.5,516.2 L677.6,516.9 L677.7,517.6 L677.8,518.4 L678.0,519.1 L678.1,519.8 L678.2,520.5 L678.3,521.2 L678.4,521.9 L678.6,522.6 L678.7,523.4 L678.8,524.1 L678.9,524.8 L679.0,525.5 L679.1,526.2 L679.3,526.9 L679.4,527.7 L679.5,528.4 L679.6,529.1 L679.7,529.8 L679.8,530.5 L680.0,531.2 L680.1,532.0 L680.2,532.7 L680.3,533.4 L680.4,534.1 L680.5,534.8 L680.6,535.5 L680.7,536.3 L680.9,537.0 L681.0,537.7 L681.1,538.4 L681.2,539.1 L681.3,539.8 L681.4,540.6 L681.5,541.3 L681.6,542.0 L681.7,542.7 L681.8,543.4 L682.0,544.2 L682.1,544.9 L682.2,545.6 L682.3,546.3 L682.4,547.0 L682.5,547.7 L682.6,548.5 L682.7,549.2 L682.8,549.9 L682.9,550.6 L683.0,551.3 L683.1,552.0 L683.2,552.8 L683.3,553.5 L683.4,554.2 L683.5,554.9 L683.6,555.6 L683.8,556.4 L683.9,557.1 L684.0,557.8 L684.1,558.5 L684.2,559.2 L684.3,559.9 L684.4,560.7 L684.5,561.4 L684.6,562.1 L684.7,562.8 L684.8,563.5 L684.9,564.3 L685.0,565.0 L685.1,565.7 L685.2,566.4 L685.3,567.1 L685.4,567.8 L685.5,568.6 L685.6,569.3 L685.7,570.0 L685.8,570.7 L685.9,571.4 L686.0,572.1 L686.1,572.9 L686.2,573.6 L686.3,574.3 L686.4,575.0 L686.5,575.7 L686.6,576.4 L686.7,577.2 L686.8,577.9 L686.9,578.6 L687.0,579.3 L687.1,580.0 L687.2,580.7 L687.3,581.5 L687.4,582.2 L687.5,582.9 L687.6,583.6 L687.7,584.3 L687.8,585.0 L687.9,585.7 L688.1,586.5 L688.2,587.2 L688.3,587.9 L688.4,588.6 L688.5,589.3 L688.6,590.0 L688.7,590.7 L688.8,591.5 L688.9,592.2 L689.0,592.9 L689.1,593.6 L689.2,594.3 L689.3,595.0 L689.4,595.7 L689.5,596.4 L689.6,597.2 L689.7,597.9 L689.8,598.6 L689.9,599.3 L690.0,600.0 L690.1,600.7 L690.2,601.4 L690.3,602.1 L690.5,602.8 L690.6,603.6 L690.7,604.3 L690.8,605.0 L690.9,605.7 L691.0,606.4 L691.1,607.1 L691.2,607.8 L691.3,608.5 L691.4,609.2 L691.6,609.9 L691.7,610.7 L691.8,611.4 L691.9,612.1 L692.0,612.8 L692.2,613.5 L692.3,614.2 L692.4,614.9 L692.6,615.6 L692.7,616.3 L692.8,617.0 L693.0,617.7 L693.1,618.4 L693.3,619.2 L693.4,619.9 L693.6,620.6 L693.7,621.3 L693.9,622.0 L694.0,622.7 L694.2,623.4 L694.4,624.1 L694.6,624.8 L694.7,625.6 L694.9,626.3 L695.1,627.0 L695.3,627.7 L695.5,628.4 L695.7,629.1 L695.9,629.8 L696.2,630.5 L696.4,631.3 L696.6,632.0 L696.8,632.7 L697.1,633.4 L697.3,634.1 L697.6,634.8 L697.8,635.5 L698.1,636.3 L698.4,637.0 L698.6,637.7 L698.9,638.4 L699.2,639.1 L699.5,639.8 L699.8,640.5 L700.1,641.2 L700.5,641.9 L700.8,642.6 L701.1,643.3 L701.5,643.9 L701.9,644.5 L702.2,645.1 L702.7,645.8 L703.2,646.5 L703.8,647.1 L704.3,647.7 L704.9,648.2 L705.5,648.7 L706.1,649.1 L706.8,649.4 L707.4,649.7 L708.1,649.9 L708.9,650.0 L709.6,650.1 L710.3,650.2 L711.1,650.2 L711.9,650.2 L712.7,650.1 L713.5,649.9 L714.4,649.8 L715.2,649.6 L715.9,649.4 L716.6,649.2 L717.3,649.0 L718.0,648.7 L718.7,648.5 L719.4,648.2 L720.2,647.9 L720.9,647.6 L721.6,647.3 L722.4,646.9 L723.1,646.6 L723.8,646.3 L724.6,645.9 L725.3,645.6 L726.1,645.2 L726.8,644.8 L727.5,644.5 L728.3,644.1 L729.0,643.8 L729.7,643.4 L730.5,643.0 L731.2,642.7 L731.9,642.3 L732.7,642.0 L733.4,641.7 L734.1,641.3 L734.8,641.0 L735.5,640.7 L736.2,640.4 L736.9,640.1 L737.6,639.8 L738.3,639.6 L739.0,639.3 L739.7,639.1 L740.3,638.8 L741.0,638.6 L741.7,638.4 L742.5,638.2 L743.4,638.0 L744.2,637.8 L745.0,637.6 L745.9,637.5 L746.7,637.4 L747.5,637.3 L748.3,637.3 L749.2,637.3 L750.0,637.3 L750.8,637.4 L751.6,637.5 L752.4,637.6 L753.2,637.8 L754.0,638.0 L754.8,638.3 L755.6,638.5 L756.4,638.9 L757.2,639.2 L758.0,639.6 L758.6,639.9 L759.2,640.2 L759.8,640.6 L760.4,641.0 L761.0,641.3 L761.6,641.7 L762.2,642.1 L762.8,642.6 L763.4,643.0 L764.0,643.4 L764.6,643.9 L765.1,644.4 L765.7,644.8 L766.2,645.3 L766.8,645.8 L767.3,646.3 L767.9,646.8 L768.4,647.3 L768.9,647.9 L769.4,648.4 L770.0,648.9 L770.5,649.5 L771.0,650.0 L771.5,650.6 L772.0,651.1 L772.5,651.7 L773.0,652.3 L773.5,652.8 L774.0,653.4 L774.5,654.0 L775.0,654.5 L775.4,655.1 L775.9,655.7 L776.4,656.3 L776.9,656.9 L777.4,657.4 L777.9,658.0 L778.3,658.6 L778.8,659.2 L779.3,659.8 L779.8,660.3 L780.3,660.9 L780.7,661.5 L781.2,662.0 L781.7,662.6 L782.2,663.2 L782.7,663.7 L783.2,664.3 L783.7,664.8 L784.2,665.4 L784.7,665.9 L785.2,666.5 L785.7,667.0 L786.2,667.5 L786.7,668.0 L787.2,668.5 L787.7,669.0 L788.2,669.5 L788.8,670.0 L789.3,670.5 L789.8,670.9 L790.4,671.4 L790.9,671.8 L791.5,672.2 L792.0,672.7 L792.6,673.1 L793.3,673.6 L794.1,674.1 L794.8,674.5 L795.5,675.0 L796.3,675.4 L797.0,675.9 L797.8,676.3 L798.6,676.7 L799.3,677.1 L800.1,677.5 L800.9,677.8 L801.7,678.2 L802.5,678.5 L803.3,678.8 L804.1,679.2 L804.9,679.5 L805.6,679.7 L806.3,679.9 L806.9,680.1 L807.6,680.4 L808.3,680.6 L809.0,680.8 L809.6,681.0 L810.3,681.1 L811.0,681.3 L811.7,681.5 L812.4,681.7 L813.1,681.8 L813.8,682.0 L814.5,682.1 L815.2,682.3 L815.9,682.4 L816.6,682.6 L817.3,682.7 L818.0,682.8 L818.7,682.9 L819.5,683.0 L820.2,683.2 L820.9,683.3 L821.6,683.4 L822.3,683.5 L823.1,683.6 L823.8,683.6 L824.5,683.7 L825.3,683.8 L826.0,683.9 L826.7,684.0 L827.5,684.0 L828.2,684.1 L828.9,684.2 L829.7,684.2 L830.4,684.3 L831.1,684.3 L831.9,684.4 L832.6,684.5 L833.4,684.5 L834.1,684.5 L834.8,684.6 L835.6,684.6 L836.3,684.7 L837.1,684.7 L837.8,684.7 L838.6,684.8 L839.3,684.8 L840.0,684.8 L840.8,684.9 L841.5,684.9 L842.3,684.9 L843.0,685.0 L843.7,685.0 L844.5,685.0 L845.2,685.0 L846.0,685.1 L846.7,685.1 L847.4,685.1 L848.2,685.1 L848.9,685.2 L849.6,685.2 L850.4,685.2 L851.1,685.2 L851.8,685.3 L852.6,685.3 L853.3,685.3 L854.0,685.3 L854.8,685.3 L855.5,685.3 L856.2,685.4 L856.9,685.4 L857.7,685.4 L858.4,685.4 L859.1,685.4 L859.9,685.4 L860.6,685.5 L861.3,685.5 L862.0,685.5 L862.8,685.5 L863.5,685.5 L864.2,685.5 L864.9,685.5 L865.7,685.5 L866.4,685.6 L867.1,685.6 L867.8,685.6 L868.6,685.6 L869.3,685.6 L870.0,685.6 L870.7,685.6 L871.4,685.6 L872.2,685.6 L872.9,685.6 L873.6,685.6 L874.3,685.6 L875.0,685.6 L875.8,685.7 L876.5,685.7 L877.2,685.7 L877.9,685.7 L878.6,685.7 L879.4,685.7 L880.1,685.7 L880.8,685.7 L881.5,685.7 L882.2,685.7 L883.0,685.7 L883.7,685.7 L884.4,685.7 L885.1,685.7 L885.8,685.7 L886.5,685.7 L887.3,685.7 L888.0,685.7 L888.7,685.7 L889.4,685.7 L890.1,685.7 L890.8,685.7 L891.6,685.7 L892.3,685.7 L893.0,685.7 L893.7,685.7 L894.4,685.7 L895.1,685.7 L895.9,685.7 L896.6,685.7 L897.3,685.7 L898.0,685.7 L898.7,685.7 L899.4,685.7 L900.2,685.7 L900.9,685.7 L901.6,685.7 L902.3,685.7 L903.0,685.7 L903.8,685.7 L904.5,685.7 L905.2,685.7 L905.9,685.7 L906.6,685.7 L907.3,685.7 L908.1,685.7 L908.8,685.7 L909.5,685.7 L910.2,685.7 L910.9,685.7 L911.7,685.7 L912.4,685.7 L913.1,685.7 L913.8,685.7 L914.5,685.7 L915.2,685.7 L916.0,685.7 L916.7,685.7 L917.4,685.7 L918.1,685.7 L918.9,685.7 L919.6,685.7 L920.3,685.7 L921.0,685.7 L921.7,685.7 L922.5,685.7 L923.2,685.7 L923.9,685.7 L924.6,685.8 L925.4,685.8 L926.1,685.8 L926.8,685.8 L927.5,685.8 L928.3,685.8 L929.0,685.8 L929.7,685.8 L930.4,685.8 L931.2,685.8 L931.9,685.8 L932.6,685.8 L933.3,685.8 L934.1,685.8 L934.8,685.8 L935.5,685.8 L936.3,685.8 L937.0,685.9 L937.7,685.9 L938.5,685.9 L939.2,685.9 L939.9,685.9 L940.7,685.9 L941.4,685.9 L942.1,685.9 L942.9,685.9 L943.6,686.0 L944.3,686.0 L945.1,686.0 L945.8,686.0 L946.0,686.0"/>
<path stroke="#000080" d="M186.9,685.4 L187.6,685.2 L188.4,685.1 L189.1,685.0 L189.9,684.8 L190.6,684.7 L191.4,684.6 L192.1,684.4 L192.9,684.3 L193.6,684.2 L194.4,684.1 L195.1,684.0 L195.9,683.9 L196.6,683.8 L197.4,683.7 L198.1,683.6 L198.9,683.5 L199.6,683.4 L200.4,683.3 L201.1,683.3 L201.9,683.2 L202.6,683.1 L203.4,683.1 L204.1,683.0 L204.9,682.9 L205.6,682.9 L206.4,682.8 L207.1,682.8 L207.9,682.7 L208.7,682.7 L209.4,682.6 L210.2,682.6 L210.9,682.6 L211.7,682.5 L212.4,682.5 L213.2,682.5 L213.9,682.4 L214.7,682.4 L215.4,682.4 L216.2,682.3 L217.0,682.3 L217.7,682.3 L218.5,682.3 L219.2,682.3 L220.0,682.2 L220.7,682.2 L221.5,682.2 L222.3,682.2 L223.0,682.2 L223.8,682.2 L224.5,682.2 L225.3,682.2 L226.0,682.1 L226.8,682.1 L227.6,682.1 L228.3,682.1 L229.1,682.1 L229.8,682.1 L230.6,682.1 L231.3,682.1 L232.1,682.1 L232.9,682.1 L233.6,682.1 L234.4,682.1 L235.1,682.1 L235.9,682.0 L236.6,682.0 L237.4,682.0 L238.2,682.0 L238.9,682.0 L239.7,682.0 L240.4,682.0 L241.2,682.0 L241.9,682.0 L242.7,681.9 L243.5,681.9 L244.2,681.9 L245.0,681.9 L245.7,681.9 L246.5,681.8 L247.2,681.8 L248.0,681.8 L248.8,681.8 L249.5,681.7 L250.3,681.7 L251.0,681.7 L251.8,681.7 L252.5,681.6 L253.3,681.6 L254.0,681.6 L254.8,681.5 L255.6,681.5 L256.3,681.4 L257.1,681.4 L257.8,681.4 L258.6,681.3 L259.3,681.3 L260.1,681.3 L260.8,681.2 L261.6,681.2 L262.3,681.1 L263.1,681.1 L263.9,681.1 L264.6,681.0 L265.4,681.0 L266.1,680.9 L266.9,680.9 L267.6,680.8 L268.4,680.8 L269.1,680.8 L269.9,680.7 L270.6,680.7 L271.4,680.6 L272.2,680.6 L272.9,680.6 L273.7,680.5 L274.4,680.5 L275.2,680.4 L275.9,680.4 L276.7,680.4 L277.4,680.3 L278.2,680.3 L278.9,680.3 L279.7,680.2 L280.4,680.2 L281.2,680.2 L282.0,680.1 L282.7,680.1 L283.5,680.1 L284.2,680.0 L285.0,680.0 L285.7,680.0 L286.5,680.0 L287.2,679.9 L288.0,679.9 L288.7,679.9 L289.5,679.9 L290.2,679.9 L291.0,679.9 L291.8,679.8 L292.5,679.8 L293.3,679.8 L294.0,679.8 L294.8,679.8 L295.5,679.8 L296.3,679.8 L297.0,679.8 L297.8,679.8 L298.5,679.8 L299.3,679.8 L300.1,679.8 L300.8,679.8 L301.6,679.8 L302.3,679.9 L303.1,679.9 L303.8,679.9 L304.6,679.9 L305.3,679.9 L306.1,680.0 L306.9,680.0 L307.6,680.0 L308.4,680.1 L309.1,680.1 L309.9,680.1 L310.6,680.2 L311.4,680.2 L312.1,680.2 L312.9,680.3 L313.6,680.3 L314.4,680.4 L315.2,680.4 L315.9,680.5 L316.7,680.5 L317.4,680.6 L318.2,680.6 L318.9,680.7 L319.7,680.7 L320.4,680.8 L321.2,680.8 L322.0,680.9 L322.7,681.0 L323.5,681.0 L324.2,681.1 L325.0,681.1 L325.7,681.2 L326.5,681.3 L327.2,681.3 L328.0,681.4 L328.8,681.4 L329.5,681.5 L330.3,681.6 L331.0,681.6 L331.8,681.7 L332.5,681.8 L333.3,681.8 L334.0,681.9 L334.8,682.0 L335.6,682.0 L336.3,682.1 L337.1,682.2 L337.8,682.2 L338.6,682.3 L339.3,682.4 L340.1,682.4 L340.8,682.5 L341.6,682.6 L342.4,682.6 L343.1,682.7 L343.9,682.8 L344.6,682.8 L345.4,682.9 L346.1,683.0 L346.9,683.0 L347.6,683.1 L348.4,683.2 L349.1,683.2 L349.9,683.3 L350.6,683.3 L351.4,683.4 L352.2,683.5 L352.9,683.5 L353.7,683.6 L354.4,683.6 L355.2,683.7 L355.9,683.7 L356.7,683.8 L357.4,683.8 L358.2,683.9 L358.9,683.9 L359.7,684.0 L360.4,684.0 L361.2,684.1 L361.9,684.1 L362.7,684.1 L363.5,684.2 L364.2,684.2 L365.0,684.3 L365.7,684.3 L366.5,684.3 L367.2,684.4 L368.0,684.4 L368.7,684.4 L369.5,684.5 L370.2,684.5 L371.0,684.5 L371.7,684.5 L372.5,684.6 L373.2,684.6 L374.0,684.6 L374.7,684.6 L375.5,684.7 L376.2,684.7 L377.0,684.7 L377.7,684.7 L378.5,684.7 L379.2,684.7 L380.0,684.8 L380.7,684.8 L381.5,684.8 L382.2,684.8 L383.0,684.8 L383.7,684.8 L384.5,684.8 L385.3,684.8 L386.0,684.9 L386.8,684.9 L387.5,684.9 L388.3,684.9 L389.0,684.9 L389.8,684.9 L390.5,684.9 L391.3,684.9 L392.0,684.9 L392.8,684.9 L393.5,684.9 L394.3,684.9 L395.0,684.9 L395.8,684.9 L396.5,684.9 L397.3,684.9 L398.0,684.9 L398.8,684.9 L399.5,684.9 L400.3,684.9 L401.1,684.9 L401.8,684.9 L402.6,684.9 L403.3,684.9 L404.1,684.9 L404.8,684.9 L405.6,684.9 L406.3,684.9 L407.1,684.9 L407.8,684.9 L408.6,684.9 L409.4,684.9 L410.1,684.9 L410.9,684.9 L411.6,684.9 L412.4,684.9 L413.1,684.9 L413.9,684.9 L414.6,685.0 L415.4,685.0 L416.2,685.0 L416.9,685.0 L417.7,685.0 L418.4,685.0 L419.2,685.0 L419.9,685.0 L420.7,685.0 L421.5,685.0 L422.2,685.0 L423.0,685.0 L423.7,685.0 L424.5,685.0 L425.3,685.0 L426.0,685.0 L426.8,685.0 L427.5,685.0 L428.3,685.0 L429.1,685.0 L429.8,685.0 L430.6,685.0 L431.3,685.0 L432.1,685.1 L432.9,685.1 L433.6,685.1 L434.4,685.1 L435.1,685.1 L435.9,685.1 L436.7,685.1 L437.4,685.1 L438.2,685.1 L439.0,685.1 L439.7,685.1 L440.5,685.1 L441.2,685.1 L442.0,685.1 L442.8,685.1 L443.5,685.1 L444.3,685.1 L445.1,685.1 L445.8,685.1 L446.6,685.1 L447.3,685.1 L448.1,685.1 L448.9,685.1 L449.6,685.1 L450.4,685.1 L451.2,685.1 L451.9,685.1 L452.7,685.1 L453.4,685.1 L454.2,685.1 L455.0,685.1 L455.7,685.1 L456.5,685.1 L457.2,685.1 L458.0,685.1 L458.8,685.1 L459.5,685.0 L460.3,685.0 L461.1,685.0 L461.8,685.0 L462.6,685.0 L463.3,685.0 L464.1,685.0 L464.9,684.9 L465.6,684.9 L466.4,684.9 L467.1,684.9 L467.9,684.8 L468.6,684.8 L469.4,684.8 L470.2,684.7 L470.9,684.7 L471.7,684.7 L472.4,684.7 L473.2,684.6 L473.9,684.6 L474.7,684.5 L475.5,684.5 L476.2,684.5 L477.0,684.4 L477.7,684.4 L478.5,684.3 L479.2,684.3 L480.0,684.2 L480.7,684.2 L481.5,684.1 L482.2,684.0 L483.0,684.0 L483.8,683.9 L484.5,683.9 L485.3,683.8 L486.0,683.7 L486.8,683.7 L487.5,683.6 L488.3,683.5 L489.0,683.4 L489.8,683.4 L490.5,683.3 L491.2,683.2 L492.0,683.1 L492.7,683.0 L493.5,682.9 L494.2,682.8 L495.0,682.8 L495.7,682.7 L496.5,682.6 L497.2,682.5 L498.0,682.4 L498.7,682.2 L499.4,682.1 L500.2,682.0 L500.9,681.9 L501.7,681.8 L502.4,681.7 L503.1,681.6 L503.9,681.4 L504.6,681.3 L505.3,681.2 L506.1,681.0 L506.8,680.9 L507.6,680.8 L508.3,680.6 L509.0,680.5 L509.8,680.3 L510.5,680.2 L511.2,680.0 L512.0,679.9 L512.7,679.7 L513.4,679.5 L514.1,679.4 L514.9,679.2 L515.6,679.0 L516.3,678.8 L517.0,678.7 L517.8,678.5 L518.5,678.3 L519.2,678.1 L519.9,677.9 L520.7,677.7 L521.4,677.5 L522.1,677.3 L522.8,677.1 L523.5,676.9 L524.3,676.7 L525.0,676.5 L525.7,676.2 L526.4,676.0 L527.1,675.8 L527.8,675.6 L528.6,675.3 L529.3,675.1 L530.0,674.8 L530.7,674.6 L531.4,674.3 L532.1,674.1 L532.8,673.8 L533.5,673.6 L534.2,673.3 L534.9,673.0 L535.6,672.7 L536.3,672.5 L537.0,672.2 L537.7,671.9 L538.4,671.6 L539.1,671.3 L539.8,671.0 L540.5,670.7 L541.2,670.4 L541.9,670.1 L542.6,669.8 L543.3,669.4 L544.0,669.1 L544.7,668.8 L545.4,668.5 L546.1,668.1 L546.7,667.8 L547.4,667.4 L548.1,667.1 L548.8,666.7 L549.5,666.4 L550.2,666.0 L550.8,665.6 L551.5,665.2 L552.2,664.9 L552.9,664.5 L553.5,664.1 L554.2,663.7 L554.8,663.3 L555.5,662.9 L556.2,662.5 L556.8,662.1 L557.5,661.7 L558.1,661.2 L558.8,660.8 L559.4,660.4 L560.0,659.9 L560.7,659.5 L561.3,659.1 L561.9,658.6 L562.5,658.2 L563.2,657.7 L563.8,657.2 L564.4,656.8 L565.0,656.3 L565.6,655.8 L566.2,655.3 L566.7,654.9 L567.3,654.4 L567.9,653.9 L568.5,653.4 L569.0,652.9 L569.6,652.4 L570.2,651.8 L570.7,651.3 L571.3,650.8 L571.8,650.3 L572.3,649.7 L572.9,649.2 L573.4,648.7 L573.9,648.1 L574.4,647.6 L574.9,647.0 L575.4,646.4 L575.9,645.9 L576.3,645.3 L576.8,644.7 L577.3,644.1 L577.7,643.6 L578.2,643.0 L578.6,642.4 L579.1,641.8 L579.5,641.2 L579.9,640.6 L580.4,640.0 L580.8,639.3 L581.2,638.7 L581.6,638.1 L582.0,637.5 L582.4,636.8 L582.8,636.2 L583.2,635.6 L583.5,634.9 L583.9,634.3 L584.3,633.6 L584.6,633.0 L585.0,632.3 L585.3,631.7 L585.7,631.0 L586.0,630.4 L586.4,629.7 L586.7,629.0 L587.0,628.4 L587.4,627.7 L587.7,627.0 L588.0,626.3 L588.3,625.7 L588.6,625.0 L589.0,624.3 L589.3,623.6 L589.6,622.9 L589.9,622.2 L590.2,621.5 L590.5,620.8 L590.7,620.2 L591.0,619.5 L591.3,618.8 L591.6,618.1 L591.9,617.4 L592.2,616.7 L592.4,615.9 L592.7,615.2 L593.0,614.5 L593.2,613.8 L593.5,613.1 L593.8,612.4 L594.0,611.7 L594.3,611.0 L594.6,610.3 L594.8,609.6 L595.1,608.9 L595.3,608.2 L595.6,607.4 L595.8,606.7 L596.1,606.0 L596.3,605.3 L596.6,604.6 L596.8,603.9 L597.1,603.2 L597.3,602.5 L597.6,601.7 L597.8,601.0 L598.0,600.3 L598.3,599.6 L598.5,598.9 L598.8,598.2 L599.0,597.4 L599.2,596.7 L599.5,596.0 L599.7,595.3 L599.9,594.6 L600.2,593.9 L600.4,593.1 L600.6,592.4 L600.9,591.7 L601.1,591.0 L601.3,590.3 L601.5,589.5 L601.8,588.8 L602.0,588.1 L602.2,587.4 L602.4,586.7 L602.6,585.9 L602.9,585.2 L603.1,584.5 L603.3,583.8 L603.5,583.0 L603.7,582.3 L603.9,581.6 L604.2,580.9 L604.4,580.2 L604.6,579.4 L604.8,578.7 L605.0,578.0 L605.2,577.3 L605.4,576.5 L605.6,575.8 L605.8,575.1 L606.0,574.4 L606.2,573.6 L606.4,572.9 L606.6,572.2 L606.8,571.5 L607.0,570.7 L607.2,570.0 L607.4,569.3 L607.6,568.5 L607.8,567.8 L608.0,567.1 L608.2,566.4 L608.4,565.6 L608.6,564.9 L608.8,564.2 L609.0,563.4 L609.2,562.7 L609.4,562.0 L609.6,561.3 L609.8,560.5 L610.0,559.8 L610.2,559.1 L610.4,558.3 L610.5,557.6 L610.7,556.9 L610.9,556.2 L611.1,555.4 L611.3,554.7 L611.5,554.0 L611.7,553.2 L611.8,552.5 L612.0,551.8 L612.2,551.0 L612.4,550.3 L612.6,549.6 L612.8,548.8 L612.9,548.1 L613.1,547.4 L613.3,546.6 L613.5,545.9 L613.7,545.2 L613.8,544.5 L614.0,543.7 L614.2,543.0 L614.4,542.3 L614.6,541.5 L614.7,540.8 L614.9,540.1 L615.1,539.3 L615.3,538.6 L615.4,537.9 L615.6,537.1 L615.8,536.4 L616.0,535.7 L616.1,534.9 L616.3,534.2 L616.5,533.5 L616.7,532.7 L616.8,532.0 L617.0,531.3 L617.2,530.5 L617.4,529.8 L617.5,529.1 L617.7,528.3 L617.9,527.6 L618.0,526.9 L618.2,526.1 L618.4,525.4 L618.6,524.7 L618.7,523.9 L618.9,523.2 L619.1,522.5 L619.2,521.7 L619.4,521.0 L619.6,520.3 L619.7,519.5 L619.9,518.8 L620.1,518.1 L620.3,517.3 L620.4,516.6 L620.6,515.9 L620.8,515.1 L620.9,514.4 L621.1,513.7 L621.3,512.9 L621.4,512.2 L621.6,511.5 L621.8,510.7 L622.0,510.0 L622.1,509.3 L622.3,508.5 L622.5,507.8 L622.6,507.1 L622.8,506.3 L623.0,505.6 L623.1,504.9 L623.3,504.1 L623.5,503.4 L623.7,502.7 L623.8,501.9 L624.0,501.2 L624.2,500.5 L624.3,499.8 L624.5,499.0 L624.7,498.3 L624.9,497.6 L625.0,496.8 L625.2,496.1 L625.4,495.4 L625.5,494.6 L625.7,493.9 L625.9,493.2 L626.1,492.4 L626.2,491.7 L626.4,491.0 L626.6,490.2 L626.8,489.5 L626.9,488.8 L627.1,488.0 L627.3,487.3 L627.5,486.6 L627.6,485.8 L627.8,485.1 L628.0,484.4 L628.2,483.6 L628.3,482.9 L628.5,482.2 L628.7,481.4 L628.9,480.7 L629.1,480.0 L629.2,479.2 L629.4,478.5 L629.6,477.8 L629.8,477.0 L629.9,476.3 L630.1,475.6 L630.3,474.8 L630.5,474.1 L630.7,473.4 L630.9,472.6 L631.0,471.9 L631.2,471.2 L631.4,470.4 L631.6,469.7 L631.8,469.0 L632.0,468.2 L632.1,467.5 L632.3,466.7 L632.5,466.0 L632.7,465.3 L632.9,464.5 L633.1,463.8 L633.3,463.0 L633.5,462.3 L633.6,461.6 L633.8,460.8 L634.0,460.1 L634.2,459.3 L634.4,458.6 L634.6,457.9 L634.8,457.1 L635.0,456.4 L635.2,455.6 L635.4,454.9 L635.6,454.1 L635.8,453.4 L636.0,452.6 L636.2,451.9 L636.4,451.1 L636.6,450.4 L636.8,449.7 L637.0,448.9 L637.2,448.2 L637.4,447.4 L637.6,446.7 L637.8,445.9 L638.0,445.2 L638.2,444.4 L638.4,443.7 L638.6,442.9 L638.8,442.2 L639.0,441.4 L639.3,440.7 L639.5,439.9 L639.7,439.2 L640.0,438.5 L640.2,437.7 L640.5,437.0 L640.7,436.3 L641.0,435.6 L641.2,434.9 L641.5,434.2 L641.8,433.5 L642.1,432.8 L642.4,432.1 L642.7,431.4 L643.1,430.7 L643.4,430.0 L643.7,429.4 L644.1,428.7 L644.5,428.1 L644.8,427.5 L645.2,426.8 L645.6,426.2 L646.1,425.6 L646.5,425.0 L646.9,424.4 L647.5,423.9 L648.2,423.6 L648.9,424.0 L649.5,424.6 L650.0,425.2 L650.4,425.8 L650.8,426.4 L651.2,427.0 L651.6,427.7 L652.0,428.3 L652.3,429.0 L652.6,429.7 L653.0,430.4 L653.3,431.1 L653.5,431.8 L653.8,432.5 L654.1,433.2 L654.3,434.0 L654.6,434.7 L654.8,435.5 L655.0,436.2 L655.2,437.0 L655.4,437.8 L655.6,438.6 L655.8,439.3 L656.0,440.1 L656.1,440.9 L656.3,441.7 L656.5,442.5 L656.6,443.3 L656.8,444.1 L657.0,444.8 L657.1,445.6 L657.3,446.4 L657.4,447.2 L657.6,448.0 L657.7,448.7 L657.9,449.5 L658.0,450.3 L658.2,451.0 L658.3,451.8 L658.5,452.5 L658.7,453.3 L658.8,454.0 L659.0,454.8 L659.1,455.5 L659.3,456.2 L659.5,457.0 L659.6,457.7 L659.8,458.4 L660.0,459.1 L660.1,459.9 L660.3,460.6 L660.5,461.3 L660.6,462.0 L660.8,462.7 L661.0,463.5 L661.1,464.2 L661.3,464.9 L661.5,465.6 L661.6,466.3 L661.8,467.0 L662.0,467.7 L662.1,468.5 L662.3,469.2 L662.5,469.9 L662.6,470.6 L662.8,471.3 L663.0,472.0 L663.1,472.8 L663.3,473.5 L663.5,474.2 L663.6,474.9 L663.8,475.6 L664.0,476.4 L664.1,477.1 L664.3,477.8 L664.5,478.5 L664.6,479.3 L664.8,480.0 L665.0,480.7 L665.1,481.4 L665.3,482.2 L665.4,482.9 L665.6,483.6 L665.8,484.4 L665.9,485.1 L666.1,485.8 L666.3,486.6 L666.4,487.3 L666.6,488.0 L666.7,488.8 L666.9,489.5 L667.1,490.2 L667.2,491.0 L667.4,491.7 L667.5,492.5 L667.7,493.2 L667.8,493.9 L668.0,494.7 L668.2,495.4 L668.3,496.2 L668.5,496.9 L668.6,497.7 L668.8,498.4 L668.9,499.2 L669.1,499.9 L669.2,500.6 L669.4,501.4 L669.6,502.1 L669.7,502.9 L669.9,503.6 L670.0,504.4 L670.2,505.1 L670.3,505.9 L670.5,506.6 L670.6,507.4 L670.8,508.1 L670.9,508.9 L671.1,509.6 L671.2,510.4 L671.3,511.1 L671.5,511.8 L671.6,512.6 L671.8,513.3 L671.9,514.1 L672.1,514.8 L672.2,515.6 L672.4,516.3 L672.5,517.1 L672.6,517.8 L672.8,518.6 L672.9,519.3 L673.1,520.1 L673.2,520.8 L673.3,521.6 L673.5,522.3 L673.6,523.1 L673.7,523.8 L673.9,524.6 L674.0,525.3 L674.1,526.0 L674.3,526.8 L674.4,527.5 L674.6,528.3 L674.7,529.0 L674.8,529.8 L674.9,530.5 L675.1,531.3 L675.2,532.0 L675.3,532.8 L675.5,533.5 L675.6,534.2 L675.7,535.0 L675.9,535.7 L676.0,536.5 L676.1,537.2 L676.2,538.0 L676.4,538.7 L676.5,539.5 L676.6,540.2 L676.7,540.9 L676.9,541.7 L677.0,542.4 L677.1,543.2 L677.2,543.9 L677.3,544.7 L677.5,545.4 L677.6,546.2 L677.7,546.9 L677.8,547.6 L678.0,548.4 L678.1,549.1 L678.2,549.9 L678.3,550.6 L678.4,551.4 L678.5,552.1 L678.7,552.9 L678.8,553.6 L678.9,554.3 L679.0,555.1 L679.1,555.8 L679.3,556.6 L679.4,557.3 L679.5,558.1 L679.6,558.8 L679.7,559.6 L679.8,560.3 L679.9,561.0 L680.1,561.8 L680.2,562.5 L680.3,563.3 L680.4,564.0 L680.5,564.8 L680.6,565.5 L680.7,566.3 L680.8,567.0 L681.0,567.7 L681.1,568.5 L681.2,569.2 L681.3,570.0 L681.4,570.7 L681.5,571.5 L681.6,572.2 L681.7,573.0 L681.8,573.7 L682.0,574.4 L682.1,575.2 L682.2,575.9 L682.3,576.7 L682.4,577.4 L682.5,578.2 L682.6,578.9 L682.7,579.7 L682.8,580.4 L682.9,581.2 L683.0,581.9 L683.1,582.7 L683.3,583.4 L683.4,584.1 L683.5,584.9 L683.6,585.6 L683.7,586.4 L683.8,587.1 L683.9,587.9 L684.0,588.6 L684.1,589.4 L684.2,590.1 L684.3,590.9 L684.4,591.6 L684.5,592.4 L684.6,593.1 L684.7,593.9 L684.8,594.6 L685.0,595.4 L685.1,596.1 L685.2,596.9 L685.3,597.6 L685.4,598.4 L685.5,599.1 L685.6,599.9 L685.7,600.6 L685.8,601.4 L685.9,602.1 L686.0,602.9 L686.1,603.6 L686.2,604.4 L686.3,605.1 L686.4,605.9 L686.5,606.6 L686.6,607.4 L686.7,608.1 L686.9,608.9 L687.0,609.6 L687.1,610.4 L687.2,611.1 L687.3,611.9 L687.4,612.6 L687.5,613.4 L687.6,614.1 L687.7,614.9 L687.8,615.6 L687.9,616.4 L688.0,617.2 L688.1,617.9 L688.2,618.7 L688.3,619.4 L688.5,620.2 L688.6,620.9 L688.7,621.7 L688.8,622.4 L688.9,623.2 L689.0,623.9 L689.2,624.7 L689.3,625.4 L689.4,626.2 L689.5,626.9 L689.7,627.7 L689.8,628.4 L690.0,629.2 L690.1,629.9 L690.3,630.7 L690.4,631.4 L690.6,632.1 L690.7,632.9 L690.9,633.6 L691.1,634.3 L691.3,635.1 L691.5,635.8 L691.7,636.5 L691.9,637.3 L692.1,638.0 L692.3,638.7 L692.5,639.4 L692.7,640.2 L693.0,640.9 L693.2,641.6 L693.4,642.3 L693.7,643.0 L694.0,643.7 L694.2,644.4 L694.5,645.1 L694.8,645.8 L695.1,646.5 L695.4,647.2 L695.7,647.9 L696.1,648.6 L696.4,649.2 L696.8,649.9 L697.1,650.6 L697.5,651.2 L697.9,651.9 L698.3,652.5 L698.7,653.1 L699.2,653.7 L699.6,654.2 L700.1,654.7 L700.6,655.2 L701.3,655.8 L702.0,656.2 L702.8,656.6 L703.6,657.0 L704.2,657.2 L704.9,657.4 L705.7,657.5 L706.4,657.6 L707.2,657.6 L708.0,657.6 L708.8,657.6 L709.6,657.5 L710.4,657.4 L711.3,657.3 L712.1,657.1 L712.9,657.0 L713.8,656.8 L714.6,656.6 L715.4,656.3 L716.2,656.1 L717.0,655.9 L717.8,655.6 L718.6,655.4 L719.3,655.1 L720.1,654.9 L720.8,654.6 L721.5,654.4 L722.2,654.1 L722.9,653.8 L723.6,653.6 L724.2,653.3 L724.9,653.1 L725.6,652.8 L726.2,652.5 L726.9,652.3 L727.5,652.0 L728.2,651.7 L728.8,651.4 L729.5,651.2 L730.1,650.9 L730.8,650.6 L731.5,650.4 L732.2,650.1 L732.9,649.8 L733.5,649.6 L734.3,649.3 L735.0,649.1 L735.7,648.8 L736.4,648.5 L737.2,648.3 L737.9,648.1 L738.6,647.9 L739.4,647.6 L740.1,647.4 L740.9,647.2 L741.6,647.1 L742.4,646.9 L743.2,646.8 L743.9,646.6 L744.7,646.5 L745.4,646.4 L746.2,646.3 L747.0,646.3 L747.7,646.3 L748.5,646.2 L749.2,646.3 L749.9,646.3 L750.7,646.4 L751.4,646.5 L752.1,646.6 L752.9,646.7 L753.6,646.9 L754.3,647.1 L755.0,647.4 L755.6,647.6 L756.3,647.9 L757.0,648.3 L757.7,648.6 L758.3,649.0 L759.0,649.4 L759.6,649.8 L760.2,650.2 L760.9,650.6 L761.5,651.1 L762.1,651.6 L762.8,652.0 L763.4,652.5 L764.0,653.0 L764.6,653.5 L765.2,654.0 L765.8,654.5 L766.4,655.1 L767.0,655.6 L767.6,656.1 L768.2,656.6 L768.8,657.1 L769.4,657.6 L769.9,658.1 L770.5,658.6 L771.1,659.1 L771.7,659.6 L772.3,660.1 L772.9,660.6 L773.5,661.1 L774.0,661.6 L774.6,662.1 L775.2,662.6 L775.8,663.1 L776.4,663.5 L777.0,664.0 L777.5,664.5 L778.1,665.0 L778.7,665.4 L779.3,665.9 L779.9,666.3 L780.5,666.8 L781.1,667.2 L781.7,667.7 L782.3,668.1 L782.9,668.6 L783.5,669.0 L784.1,669.4 L784.7,669.8 L785.3,670.2 L785.9,670.7 L786.5,671.1 L787.1,671.4 L787.7,671.8 L788.4,672.2 L789.0,672.6 L789.6,673.0 L790.3,673.3 L790.9,673.7 L791.6,674.0 L792.2,674.4 L792.9,674.7 L793.5,675.0 L794.2,675.3 L794.9,675.6 L795.6,675.9 L796.2,676.2 L796.9,676.5 L797.6,676.8 L798.3,677.0 L799.0,677.3 L799.8,677.5 L800.5,677.8 L801.2,678.0 L801.9,678.2 L802.7,678.4 L803.4,678.6 L804.1,678.8 L804.9,679.0 L805.6,679.2 L806.4,679.4 L807.1,679.6 L807.9,679.8 L808.6,680.0 L809.4,680.2 L810.2,680.3 L810.9,680.5 L811.7,680.7 L812.4,680.9 L813.2,681.0 L813.9,681.2 L814.7,681.4 L815.5,681.6 L816.2,681.8 L817.0,681.9 L817.7,682.1 L818.5,682.3 L819.2,682.5 L819.9,682.7 L820.7,682.9 L821.4,683.1 L822.1,683.3 L822.8,683.6 L823.6,683.8 L824.3,684.0 L825.0,684.3 L825.7,684.5 L826.4,684.8 L827.0,685.0 L827.7,685.3 L828.4,685.6 L829.1,685.8 L829.8,686.0 L830.4,686.2 L831.1,686.3 L831.8,686.4 L832.5,686.5 L833.2,686.5 L834.0,686.4 L834.7,686.3 L835.4,686.2 L836.2,686.0 L836.9,685.9 L837.7,685.7 L838.4,685.6 L839.2,685.4 L839.9,685.3 L840.7,685.2 L841.5,685.1 L842.2,685.1 L843.0,685.0 L843.7,685.0 L844.5,684.9 L845.2,684.9 L846.0,684.9 L846.7,684.9 L847.5,685.0 L848.3,685.0 L849.0,685.0 L849.8,685.0 L850.5,685.1 L851.3,685.1 L852.0,685.1 L852.8,685.1 L853.5,685.2 L854.3,685.2 L855.1,685.2 L855.8,685.2 L856.6,685.2 L857.3,685.3 L858.1,685.3 L858.8,685.3 L859.6,685.3 L860.4,685.3 L861.1,685.4 L861.9,685.4 L862.6,685.4 L863.4,685.4 L864.1,685.4 L864.9,685.4 L865.6,685.4 L866.4,685.5 L867.2,685.5 L867.9,685.5 L868.7,685.5 L869.4,685.5 L870.2,685.5 L870.9,685.5 L871.7,685.5 L872.5,685.6 L873.2,685.6 L874.0,685.6 L874.7,685.6 L875.5,685.6 L876.2,685.6 L877.0,685.6 L877.7,685.6 L878.5,685.6 L879.3,685.6 L880.0,685.6 L880.8,685.6 L881.5,685.7 L882.3,685.7 L883.0,685.7 L883.8,685.7 L884.6,685.7 L885.3,685.7 L886.1,685.7 L886.8,685.7 L887.6,685.7 L888.3,685.7 L889.1,685.7 L889.8,685.7 L890.6,685.7 L891.4,685.7 L892.1,685.7 L892.9,685.7 L893.6,685.7 L894.4,685.7 L895.1,685.7 L895.9,685.7 L896.7,685.7 L897.4,685.7 L898.2,685.7 L898.9,685.7 L899.7,685.7 L900.4,685.7 L901.2,685.7 L901.9,685.7 L902.7,685.7 L903.5,685.7 L904.2,685.7 L905.0,685.7 L905.7,685.7 L906.5,685.7 L907.2,685.7 L908.0,685.7 L908.8,685.7 L909.5,685.7 L910.3,685.7 L911.0,685.7 L911.8,685.7 L912.5,685.7 L913.3,685.7 L914.0,685.7 L914.8,685.7 L915.6,685.7 L916.3,685.7 L917.1,685.7 L917.8,685.8 L918.6,685.8 L919.3,685.8 L920.1,685.8 L920.9,685.8 L921.6,685.8 L922.4,685.8 L923.1,685.8 L923.9,685.8 L924.6,685.8 L925.4,685.8 L926.1,685.8 L926.9,685.8 L927.7,685.8 L928.4,685.8 L929.2,685.8 L929.9,685.8 L930.7,685.8 L931.4,685.8 L932.2,685.8 L933.0,685.8 L933.7,685.8 L934.5,685.8 L935.2,685.9 L936.0,685.9 L936.7,685.9 L937.5,685.9 L938.2,685.9 L939.0,685.9 L939.8,685.9 L940.5,685.9 L941.3,685.9 L942.0,685.9 L942.8,685.9 L943.5,686.0 L944.3,686.0 L945.1,686.0 L945.8,686.0 L946.0,686.0 M827.5,685.2 Q832.5,688.6 838,685.6"/>
<path stroke="#800080" d="M191.9,680.6 L192.7,680.5 L193.5,680.4 L194.3,680.3 L195.0,680.2 L195.8,680.1 L196.6,680.0 L197.4,679.9 L198.2,679.8 L199.0,679.7 L199.7,679.6 L200.5,679.6 L201.3,679.5 L202.1,679.4 L202.9,679.3 L203.7,679.3 L204.5,679.2 L205.3,679.1 L206.0,679.1 L206.8,679.0 L207.6,679.0 L208.4,678.9 L209.2,678.8 L210.0,678.8 L210.8,678.7 L211.6,678.7 L212.3,678.7 L213.1,678.6 L213.9,678.6 L214.7,678.5 L215.5,678.5 L216.3,678.5 L217.1,678.4 L217.9,678.4 L218.6,678.4 L219.4,678.4 L220.2,678.3 L221.0,678.3 L221.8,678.3 L222.6,678.3 L223.4,678.2 L224.2,678.2 L225.0,678.2 L225.7,678.2 L226.5,678.2 L227.3,678.2 L228.1,678.2 L228.9,678.1 L229.7,678.1 L230.5,678.1 L231.3,678.1 L232.1,678.1 L232.9,678.1 L233.6,678.1 L234.4,678.1 L235.2,678.1 L236.0,678.1 L236.8,678.1 L237.6,678.1 L238.4,678.1 L239.2,678.1 L240.0,678.1 L240.8,678.1 L241.5,678.1 L242.3,678.1 L243.1,678.0 L243.9,678.0 L244.7,678.0 L245.5,678.0 L246.3,678.0 L247.1,678.0 L247.9,678.0 L248.7,678.0 L249.4,678.0 L250.2,678.0 L251.0,678.0 L251.8,678.0 L252.6,678.0 L253.4,678.0 L254.2,678.0 L255.0,678.0 L255.8,678.0 L256.6,678.0 L257.4,678.0 L258.1,678.0 L258.9,677.9 L259.7,677.9 L260.5,677.9 L261.3,677.9 L262.1,677.9 L262.9,677.9 L263.7,677.9 L264.5,677.9 L265.3,677.9 L266.0,677.9 L266.8,677.8 L267.6,677.8 L268.4,677.8 L269.2,677.8 L270.0,677.8 L270.8,677.8 L271.6,677.8 L272.4,677.8 L273.2,677.8 L274.0,677.8 L274.7,677.8 L275.5,677.7 L276.3,677.7 L277.1,677.7 L277.9,677.7 L278.7,677.7 L279.5,677.7 L280.3,677.7 L281.1,677.7 L281.9,677.7 L282.6,677.7 L283.4,677.7 L284.2,677.7 L285.0,677.7 L285.8,677.7 L286.6,677.7 L287.4,677.7 L288.2,677.7 L289.0,677.7 L289.7,677.7 L290.5,677.7 L291.3,677.7 L292.1,677.7 L292.9,677.7 L293.7,677.7 L294.5,677.7 L295.3,677.7 L296.1,677.7 L296.8,677.7 L297.6,677.8 L298.4,677.8 L299.2,677.8 L300.0,677.8 L300.8,677.8 L301.6,677.8 L302.4,677.9 L303.2,677.9 L303.9,677.9 L304.7,677.9 L305.5,677.9 L306.3,678.0 L307.1,678.0 L307.9,678.0 L308.7,678.1 L309.5,678.1 L310.3,678.1 L311.0,678.2 L311.8,678.2 L312.6,678.2 L313.4,678.3 L314.2,678.3 L315.0,678.3 L315.8,678.4 L316.6,678.4 L317.3,678.5 L318.1,678.5 L318.9,678.6 L319.7,678.6 L320.5,678.7 L321.3,678.8 L322.1,678.8 L322.8,678.9 L323.6,678.9 L324.4,679.0 L325.2,679.1 L326.0,679.1 L326.8,679.2 L327.6,679.3 L328.4,679.3 L329.1,679.4 L329.9,679.5 L330.7,679.5 L331.5,679.6 L332.3,679.7 L333.1,679.8 L333.9,679.8 L334.6,679.9 L335.4,680.0 L336.2,680.1 L337.0,680.1 L337.8,680.2 L338.6,680.3 L339.4,680.4 L340.1,680.5 L340.9,680.5 L341.7,680.6 L342.5,680.7 L343.3,680.8 L344.1,680.9 L344.9,681.0 L345.6,681.0 L346.4,681.1 L347.2,681.2 L348.0,681.3 L348.8,681.4 L349.6,681.5 L350.4,681.5 L351.1,681.6 L351.9,681.7 L352.7,681.8 L353.5,681.9 L354.3,681.9 L355.1,682.0 L355.9,682.1 L356.6,682.2 L357.4,682.3 L358.2,682.4 L359.0,682.4 L359.8,682.5 L360.6,682.6 L361.4,682.7 L362.1,682.7 L362.9,682.8 L363.7,682.9 L364.5,683.0 L365.3,683.0 L366.1,683.1 L366.9,683.2 L367.7,683.3 L368.4,683.3 L369.2,683.4 L370.0,683.5 L370.8,683.5 L371.6,683.6 L372.4,683.7 L373.2,683.7 L374.0,683.8 L374.7,683.8 L375.5,683.9 L376.3,684.0 L377.1,684.0 L377.9,684.1 L378.7,684.1 L379.5,684.2 L380.3,684.2 L381.0,684.3 L381.8,684.3 L382.6,684.4 L383.4,684.4 L384.2,684.4 L385.0,684.5 L385.8,684.5 L386.6,684.6 L387.4,684.6 L388.1,684.6 L388.9,684.7 L389.7,684.7 L390.5,684.7 L391.3,684.7 L392.1,684.8 L392.9,684.8 L393.7,684.8 L394.5,684.8 L395.2,684.9 L396.0,684.9 L396.8,684.9 L397.6,684.9 L398.4,684.9 L399.2,684.9 L400.0,685.0 L400.8,685.0 L401.6,685.0 L402.4,685.0 L403.2,685.0 L403.9,685.0 L404.7,685.0 L405.5,685.0 L406.3,685.0 L407.1,685.0 L407.9,685.0 L408.7,685.0 L409.5,685.1 L410.3,685.1 L411.1,685.1 L411.9,685.1 L412.6,685.1 L413.4,685.1 L414.2,685.1 L415.0,685.1 L415.8,685.1 L416.6,685.0 L417.4,685.0 L418.2,685.0 L419.0,685.0 L419.8,685.0 L420.6,685.0 L421.3,685.0 L422.1,685.0 L422.9,685.0 L423.7,685.0 L424.5,685.0 L425.3,685.0 L426.1,685.0 L426.9,685.0 L427.7,685.0 L428.5,685.0 L429.3,685.0 L430.0,684.9 L430.8,684.9 L431.6,684.9 L432.4,684.9 L433.2,684.9 L434.0,684.9 L434.8,684.9 L435.6,684.9 L436.4,684.9 L437.2,684.9 L438.0,684.9 L438.7,684.9 L439.5,684.9 L440.3,684.9 L441.1,684.9 L441.9,684.8 L442.7,684.8 L443.5,684.8 L444.3,684.8 L445.1,684.8 L445.9,684.8 L446.6,684.8 L447.4,684.8 L448.2,684.8 L449.0,684.8 L449.8,684.8 L450.6,684.8 L451.4,684.7 L452.2,684.7 L453.0,684.7 L453.7,684.7 L454.5,684.7 L455.3,684.7 L456.1,684.7 L456.9,684.7 L457.7,684.6 L458.5,684.6 L459.3,684.6 L460.1,684.6 L460.8,684.6 L461.6,684.5 L462.4,684.5 L463.2,684.5 L464.0,684.5 L464.8,684.5 L465.6,684.4 L466.4,684.4 L467.2,684.4 L467.9,684.3 L468.7,684.3 L469.5,684.3 L470.3,684.3 L471.1,684.2 L471.9,684.2 L472.7,684.1 L473.4,684.1 L474.2,684.1 L475.0,684.0 L475.8,684.0 L476.6,683.9 L477.4,683.9 L478.2,683.8 L479.0,683.8 L479.7,683.7 L480.5,683.7 L481.3,683.6 L482.1,683.6 L482.9,683.5 L483.7,683.4 L484.5,683.4 L485.2,683.3 L486.0,683.2 L486.8,683.2 L487.6,683.1 L488.4,683.0 L489.2,682.9 L489.9,682.9 L490.7,682.8 L491.5,682.7 L492.3,682.6 L493.1,682.5 L493.9,682.4 L494.6,682.3 L495.4,682.2 L496.2,682.1 L497.0,682.0 L497.8,681.9 L498.6,681.8 L499.3,681.7 L500.1,681.6 L500.9,681.5 L501.7,681.4 L502.5,681.2 L503.2,681.1 L504.0,681.0 L504.8,680.9 L505.6,680.7 L506.4,680.6 L507.1,680.5 L507.9,680.3 L508.7,680.2 L509.5,680.0 L510.3,679.9 L511.0,679.7 L511.8,679.6 L512.6,679.4 L513.4,679.2 L514.1,679.1 L514.9,678.9 L515.7,678.7 L516.5,678.6 L517.2,678.4 L518.0,678.2 L518.8,678.0 L519.6,677.8 L520.3,677.7 L521.1,677.5 L521.9,677.3 L522.6,677.1 L523.4,676.9 L524.2,676.7 L524.9,676.5 L525.7,676.3 L526.5,676.0 L527.2,675.8 L528.0,675.6 L528.7,675.4 L529.5,675.2 L530.3,674.9 L531.0,674.7 L531.8,674.5 L532.5,674.2 L533.3,674.0 L534.0,673.7 L534.8,673.5 L535.6,673.2 L536.3,673.0 L537.1,672.7 L537.8,672.5 L538.5,672.2 L539.3,671.9 L540.0,671.7 L540.8,671.4 L541.5,671.1 L542.3,670.8 L543.0,670.6 L543.7,670.3 L544.5,670.0 L545.2,669.7 L545.9,669.4 L546.7,669.1 L547.4,668.8 L548.1,668.5 L548.9,668.2 L549.6,667.9 L550.3,667.5 L551.0,667.2 L551.8,666.9 L552.5,666.6 L553.2,666.2 L553.9,665.9 L554.6,665.6 L555.3,665.2 L556.0,664.9 L556.8,664.5 L557.5,664.2 L558.2,663.8 L558.9,663.5 L559.6,663.1 L560.3,662.7 L560.9,662.4 L561.6,662.0 L562.3,661.6 L563.0,661.2 L563.7,660.8 L564.3,660.4 L565.0,660.0 L565.6,659.6 L566.3,659.1 L566.9,658.7 L567.6,658.3 L568.2,657.8 L568.8,657.4 L569.4,656.9 L570.1,656.4 L570.7,655.9 L571.2,655.4 L571.8,654.9 L572.4,654.4 L573.0,653.9 L573.5,653.4 L574.1,652.8 L574.6,652.3 L575.1,651.7 L575.7,651.1 L576.2,650.5 L576.7,649.9 L577.2,649.3 L577.6,648.7 L578.1,648.1 L578.5,647.4 L579.0,646.8 L579.4,646.1 L579.9,645.4 L580.3,644.7 L580.7,644.1 L581.1,643.4 L581.5,642.7 L581.9,642.0 L582.3,641.3 L582.7,640.6 L583.0,639.8 L583.4,639.1 L583.8,638.4 L584.2,637.7 L584.5,637.0 L584.9,636.3 L585.2,635.6 L585.6,634.8 L585.9,634.1 L586.2,633.4 L586.6,632.7 L586.9,631.9 L587.2,631.2 L587.6,630.5 L587.9,629.8 L588.2,629.0 L588.5,628.3 L588.8,627.6 L589.1,626.8 L589.4,626.1 L589.7,625.4 L590.0,624.6 L590.3,623.9 L590.6,623.2 L590.9,622.4 L591.2,621.7 L591.5,620.9 L591.7,620.2 L592.0,619.5 L592.3,618.7 L592.6,618.0 L592.8,617.2 L593.1,616.5 L593.3,615.7 L593.6,615.0 L593.9,614.2 L594.1,613.5 L594.4,612.7 L594.6,612.0 L594.9,611.2 L595.1,610.5 L595.3,609.7 L595.6,609.0 L595.8,608.2 L596.1,607.5 L596.3,606.7 L596.5,606.0 L596.8,605.2 L597.0,604.5 L597.2,603.7 L597.4,602.9 L597.7,602.2 L597.9,601.4 L598.1,600.7 L598.3,599.9 L598.6,599.2 L598.8,598.4 L599.0,597.7 L599.2,596.9 L599.4,596.1 L599.6,595.4 L599.8,594.6 L600.1,593.9 L600.3,593.1 L600.5,592.3 L600.7,591.6 L600.9,590.8 L601.1,590.1 L601.3,589.3 L601.5,588.5 L601.7,587.8 L601.9,587.0 L602.1,586.3 L602.3,585.5 L602.5,584.7 L602.7,584.0 L602.9,583.2 L603.1,582.4 L603.3,581.7 L603.5,580.9 L603.7,580.2 L603.8,579.4 L604.0,578.6 L604.2,577.9 L604.4,577.1 L604.6,576.3 L604.8,575.6 L605.0,574.8 L605.2,574.0 L605.3,573.3 L605.5,572.5 L605.7,571.7 L605.9,571.0 L606.1,570.2 L606.2,569.5 L606.4,568.7 L606.6,567.9 L606.8,567.2 L606.9,566.4 L607.1,565.6 L607.3,564.8 L607.5,564.1 L607.6,563.3 L607.8,562.5 L608.0,561.8 L608.1,561.0 L608.3,560.2 L608.5,559.5 L608.7,558.7 L608.8,557.9 L609.0,557.2 L609.2,556.4 L609.3,555.6 L609.5,554.9 L609.6,554.1 L609.8,553.3 L610.0,552.5 L610.1,551.8 L610.3,551.0 L610.5,550.2 L610.6,549.5 L610.8,548.7 L610.9,547.9 L611.1,547.1 L611.3,546.4 L611.4,545.6 L611.6,544.8 L611.7,544.1 L611.9,543.3 L612.1,542.5 L612.2,541.7 L612.4,541.0 L612.5,540.2 L612.7,539.4 L612.8,538.6 L613.0,537.9 L613.1,537.1 L613.3,536.3 L613.5,535.6 L613.6,534.8 L613.8,534.0 L613.9,533.2 L614.1,532.5 L614.2,531.7 L614.4,530.9 L614.5,530.1 L614.7,529.4 L614.8,528.6 L615.0,527.8 L615.1,527.0 L615.3,526.3 L615.4,525.5 L615.6,524.7 L615.7,523.9 L615.9,523.1 L616.0,522.4 L616.2,521.6 L616.3,520.8 L616.5,520.0 L616.6,519.3 L616.8,518.5 L616.9,517.7 L617.1,516.9 L617.3,516.2 L617.4,515.4 L617.6,514.6 L617.7,513.8 L617.9,513.0 L618.0,512.3 L618.2,511.5 L618.3,510.7 L618.5,509.9 L618.6,509.2 L618.8,508.4 L618.9,507.6 L619.1,506.8 L619.2,506.0 L619.4,505.3 L619.5,504.5 L619.7,503.7 L619.8,502.9 L620.0,502.1 L620.1,501.4 L620.3,500.6 L620.4,499.8 L620.6,499.0 L620.8,498.2 L620.9,497.5 L621.1,496.7 L621.2,495.9 L621.4,495.1 L621.5,494.3 L621.7,493.6 L621.8,492.8 L622.0,492.0 L622.2,491.2 L622.3,490.4 L622.5,489.7 L622.6,488.9 L622.8,488.1 L622.9,487.3 L623.1,486.5 L623.3,485.8 L623.4,485.0 L623.6,484.2 L623.7,483.4 L623.9,482.6 L624.1,481.9 L624.2,481.1 L624.4,480.3 L624.6,479.5 L624.7,478.7 L624.9,478.0 L625.0,477.2 L625.2,476.4 L625.4,475.6 L625.5,474.9 L625.7,474.1 L625.9,473.3 L626.0,472.5 L626.2,471.7 L626.4,471.0 L626.5,470.2 L626.7,469.4 L626.9,468.6 L627.0,467.9 L627.2,467.1 L627.4,466.3 L627.5,465.5 L627.7,464.8 L627.9,464.0 L628.0,463.2 L628.2,462.5 L628.4,461.7 L628.5,460.9 L628.7,460.1 L628.9,459.4 L629.1,458.6 L629.2,457.8 L629.4,457.1 L629.6,456.3 L629.7,455.5 L629.9,454.8 L630.1,454.0 L630.3,453.2 L630.4,452.5 L630.6,451.7 L630.8,450.9 L630.9,450.2 L631.1,449.4 L631.3,448.7 L631.5,447.9 L631.6,447.1 L631.8,446.4 L632.0,445.6 L632.1,444.9 L632.3,444.1 L632.5,443.4 L632.7,442.6 L632.8,441.9 L633.0,441.1 L633.2,440.4 L633.4,439.6 L633.5,438.9 L633.7,438.1 L633.9,437.4 L634.1,436.6 L634.2,435.9 L634.4,435.1 L634.6,434.4 L634.8,433.7 L634.9,432.9 L635.1,432.2 L635.3,431.4 L635.5,430.7 L635.6,430.0 L635.8,429.2 L636.0,428.5 L636.2,427.7 L636.4,427.0 L636.6,426.3 L636.8,425.5 L636.9,424.8 L637.1,424.0 L637.3,423.3 L637.5,422.5 L637.7,421.8 L638.0,421.0 L638.2,420.3 L638.4,419.5 L638.6,418.8 L638.8,418.0 L639.1,417.3 L639.3,416.5 L639.5,415.7 L639.8,415.0 L640.0,414.2 L640.3,413.4 L640.5,412.6 L640.8,411.9 L641.1,411.1 L641.3,410.3 L641.6,409.5 L641.9,408.7 L642.2,407.9 L642.5,407.1 L642.8,406.3 L643.1,405.5 L643.4,404.6 L643.8,403.8 L644.1,403.0 L644.5,402.2 L644.8,401.4 L645.2,400.6 L645.7,400.0 L646.2,399.4 L646.8,398.8 L647.5,398.5 L648.3,398.4 L649.0,398.6 L649.7,399.1 L650.2,399.6 L650.7,400.2 L651.2,400.8 L651.7,401.6 L652.1,402.4 L652.5,403.2 L652.9,404.0 L653.2,404.8 L653.5,405.6 L653.8,406.4 L654.0,407.1 L654.2,407.9 L654.4,408.7 L654.6,409.4 L654.8,410.2 L655.0,410.9 L655.2,411.7 L655.4,412.5 L655.6,413.2 L655.8,414.0 L656.0,414.8 L656.2,415.5 L656.4,416.3 L656.5,417.0 L656.7,417.8 L656.9,418.6 L657.1,419.3 L657.3,420.1 L657.4,420.9 L657.6,421.6 L657.8,422.4 L658.0,423.2 L658.1,423.9 L658.3,424.7 L658.5,425.5 L658.6,426.2 L658.8,427.0 L659.0,427.8 L659.1,428.5 L659.3,429.3 L659.5,430.1 L659.6,430.8 L659.8,431.6 L659.9,432.4 L660.1,433.1 L660.2,433.9 L660.4,434.7 L660.5,435.4 L660.7,436.2 L660.8,437.0 L661.0,437.8 L661.1,438.5 L661.3,439.3 L661.4,440.1 L661.5,440.9 L661.7,441.6 L661.8,442.4 L661.9,443.2 L662.1,444.0 L662.2,444.7 L662.3,445.5 L662.5,446.3 L662.6,447.1 L662.7,447.8 L662.8,448.6 L663.0,449.4 L663.1,450.2 L663.2,451.0 L663.3,451.7 L663.5,452.5 L663.6,453.3 L663.7,454.1 L663.8,454.8 L663.9,455.6 L664.0,456.4 L664.2,457.2 L664.3,458.0 L664.4,458.8 L664.5,459.5 L664.6,460.3 L664.7,461.1 L664.8,461.9 L664.9,462.7 L665.0,463.4 L665.2,464.2 L665.3,465.0 L665.4,465.8 L665.5,466.6 L665.6,467.4 L665.7,468.2 L665.8,468.9 L665.9,469.7 L666.0,470.5 L666.1,471.3 L666.2,472.1 L666.3,472.9 L666.4,473.6 L666.5,474.4 L666.6,475.2 L666.7,476.0 L666.8,476.8 L666.9,477.6 L667.0,478.4 L667.1,479.1 L667.2,479.9 L667.3,480.7 L667.4,481.5 L667.5,482.3 L667.6,483.1 L667.7,483.9 L667.8,484.6 L667.9,485.4 L668.0,486.2 L668.1,487.0 L668.2,487.8 L668.3,488.6 L668.4,489.3 L668.5,490.1 L668.6,490.9 L668.7,491.7 L668.8,492.5 L668.9,493.3 L669.0,494.1 L669.1,494.8 L669.2,495.6 L669.3,496.4 L669.4,497.2 L669.5,498.0 L669.6,498.8 L669.7,499.6 L669.8,500.3 L669.9,501.1 L670.0,501.9 L670.1,502.7 L670.2,503.5 L670.3,504.3 L670.4,505.0 L670.5,505.8 L670.6,506.6 L670.7,507.4 L670.8,508.2 L670.9,509.0 L671.0,509.7 L671.1,510.5 L671.2,511.3 L671.3,512.1 L671.4,512.9 L671.5,513.7 L671.6,514.4 L671.7,515.2 L671.8,516.0 L671.9,516.8 L672.0,517.6 L672.1,518.4 L672.2,519.1 L672.3,519.9 L672.4,520.7 L672.5,521.5 L672.6,522.3 L672.7,523.1 L672.8,523.8 L672.9,524.6 L673.1,525.4 L673.2,526.2 L673.3,527.0 L673.4,527.8 L673.5,528.5 L673.6,529.3 L673.7,530.1 L673.8,530.9 L673.9,531.7 L674.0,532.4 L674.1,533.2 L674.2,534.0 L674.3,534.8 L674.4,535.6 L674.5,536.4 L674.6,537.1 L674.7,537.9 L674.8,538.7 L674.9,539.5 L675.0,540.3 L675.2,541.1 L675.3,541.8 L675.4,542.6 L675.5,543.4 L675.6,544.2 L675.7,545.0 L675.8,545.7 L675.9,546.5 L676.0,547.3 L676.1,548.1 L676.2,548.9 L676.3,549.7 L676.4,550.4 L676.5,551.2 L676.6,552.0 L676.7,552.8 L676.8,553.6 L676.9,554.3 L677.0,555.1 L677.1,555.9 L677.2,556.7 L677.4,557.5 L677.5,558.3 L677.6,559.0 L677.7,559.8 L677.8,560.6 L677.9,561.4 L678.0,562.2 L678.1,563.0 L678.2,563.7 L678.3,564.5 L678.4,565.3 L678.5,566.1 L678.6,566.9 L678.7,567.7 L678.8,568.4 L678.9,569.2 L679.0,570.0 L679.1,570.8 L679.2,571.6 L679.3,572.3 L679.4,573.1 L679.5,573.9 L679.6,574.7 L679.7,575.5 L679.8,576.3 L679.9,577.0 L680.0,577.8 L680.1,578.6 L680.2,579.4 L680.3,580.2 L680.4,581.0 L680.5,581.7 L680.6,582.5 L680.7,583.3 L680.8,584.1 L680.9,584.9 L681.0,585.7 L681.1,586.4 L681.2,587.2 L681.3,588.0 L681.4,588.8 L681.5,589.6 L681.6,590.4 L681.7,591.2 L681.8,591.9 L681.9,592.7 L682.0,593.5 L682.1,594.3 L682.2,595.1 L682.3,595.9 L682.4,596.6 L682.5,597.4 L682.6,598.2 L682.7,599.0 L682.8,599.8 L682.9,600.6 L683.0,601.4 L683.1,602.1 L683.2,602.9 L683.2,603.7 L683.3,604.5 L683.4,605.3 L683.5,606.1 L683.6,606.8 L683.7,607.6 L683.8,608.4 L683.9,609.2 L684.0,610.0 L684.1,610.8 L684.2,611.6 L684.3,612.4 L684.3,613.1 L684.4,613.9 L684.5,614.7 L684.6,615.5 L684.7,616.3 L684.8,617.1 L684.9,617.9 L685.0,618.6 L685.1,619.4 L685.1,620.2 L685.2,621.0 L685.3,621.8 L685.4,622.6 L685.5,623.4 L685.6,624.1 L685.7,624.9 L685.8,625.7 L685.9,626.5 L686.1,627.3 L686.2,628.1 L686.3,628.8 L686.4,629.6 L686.5,630.4 L686.7,631.2 L686.8,632.0 L686.9,632.8 L687.1,633.5 L687.2,634.3 L687.4,635.1 L687.5,635.9 L687.7,636.6 L687.9,637.4 L688.1,638.2 L688.2,638.9 L688.4,639.7 L688.6,640.5 L688.8,641.3 L689.1,642.0 L689.3,642.8 L689.5,643.5 L689.7,644.3 L690.0,645.1 L690.3,645.8 L690.5,646.6 L690.8,647.3 L691.1,648.1 L691.4,648.9 L691.7,649.6 L692.0,650.4 L692.3,651.1 L692.6,651.8 L693.0,652.6 L693.4,653.3 L693.7,654.0 L694.1,654.7 L694.5,655.4 L694.9,656.0 L695.4,656.7 L695.8,657.3 L696.3,657.9 L696.7,658.4 L697.2,659.0 L697.7,659.5 L698.3,659.9 L699.0,660.5 L699.7,660.9 L700.4,661.3 L701.2,661.7 L702.0,662.0 L702.8,662.2 L703.6,662.4 L704.5,662.5 L705.2,662.6 L705.9,662.7 L706.6,662.7 L707.4,662.7 L708.1,662.7 L708.9,662.6 L709.6,662.5 L710.4,662.4 L711.2,662.3 L712.0,662.2 L712.8,662.0 L713.6,661.9 L714.4,661.7 L715.2,661.5 L716.0,661.2 L716.8,661.0 L717.6,660.8 L718.4,660.5 L719.2,660.2 L720.1,660.0 L720.9,659.7 L721.7,659.4 L722.5,659.1 L723.3,658.8 L724.1,658.5 L724.9,658.2 L725.7,657.9 L726.5,657.6 L727.3,657.3 L728.1,657.0 L728.8,656.7 L729.6,656.4 L730.4,656.1 L731.1,655.8 L731.9,655.5 L732.7,655.2 L733.4,655.0 L734.2,654.7 L734.9,654.4 L735.7,654.2 L736.5,654.0 L737.2,653.7 L738.0,653.5 L738.7,653.3 L739.5,653.1 L740.2,653.0 L741.0,652.8 L741.7,652.7 L742.5,652.5 L743.3,652.4 L744.0,652.4 L744.8,652.3 L745.5,652.2 L746.3,652.2 L747.1,652.2 L747.9,652.2 L748.6,652.3 L749.4,652.3 L750.2,652.4 L751.0,652.5 L751.8,652.7 L752.6,652.8 L753.3,653.0 L754.1,653.2 L754.9,653.4 L755.6,653.7 L756.4,653.9 L757.1,654.2 L757.9,654.5 L758.6,654.8 L759.3,655.1 L760.0,655.5 L760.7,655.8 L761.4,656.2 L762.1,656.6 L762.8,657.0 L763.4,657.5 L764.0,657.9 L764.7,658.4 L765.3,658.8 L765.9,659.3 L766.5,659.8 L767.2,660.3 L767.8,660.8 L768.4,661.3 L769.0,661.8 L769.5,662.3 L770.1,662.8 L770.7,663.4 L771.3,663.9 L771.9,664.4 L772.5,664.9 L773.1,665.5 L773.7,666.0 L774.3,666.5 L774.9,667.1 L775.5,667.6 L776.1,668.1 L776.7,668.6 L777.3,669.1 L778.0,669.6 L778.6,670.1 L779.2,670.5 L779.9,671.0 L780.6,671.5 L781.2,671.9 L781.9,672.3 L782.6,672.8 L783.3,673.2 L784.0,673.6 L784.6,674.0 L785.4,674.4 L786.1,674.7 L786.8,675.1 L787.5,675.5 L788.2,675.8 L788.9,676.2 L789.7,676.5 L790.4,676.8 L791.1,677.2 L791.9,677.5 L792.6,677.8 L793.3,678.1 L794.1,678.4 L794.8,678.6 L795.5,678.9 L796.3,679.2 L797.0,679.4 L797.8,679.7 L798.5,679.9 L799.3,680.1 L800.0,680.4 L800.8,680.6 L801.5,680.8 L802.3,681.0 L803.0,681.2 L803.8,681.4 L804.6,681.6 L805.3,681.7 L806.1,681.9 L806.9,682.1 L807.6,682.2 L808.4,682.4 L809.2,682.5 L809.9,682.7 L810.7,682.8 L811.5,683.0 L812.2,683.1 L813.0,683.2 L813.8,683.3 L814.6,683.4 L815.3,683.5 L816.1,683.6 L816.9,683.7 L817.7,683.8 L818.4,683.9 L819.2,684.0 L820.0,684.1 L820.8,684.2 L821.6,684.2 L822.4,684.3 L823.1,684.4 L823.9,684.4 L824.7,684.5 L825.5,684.6 L826.3,684.6 L827.1,684.7 L827.9,684.7 L828.7,684.7 L829.4,684.8 L830.2,684.8 L831.0,684.9 L831.8,684.9 L832.6,684.9 L833.4,685.0 L834.2,685.0 L835.0,685.0 L835.8,685.1 L836.6,685.1 L837.3,685.1 L838.1,685.1 L838.9,685.2 L839.7,685.2 L840.5,685.2 L841.3,685.2 L842.1,685.2 L842.9,685.2 L843.7,685.3 L844.5,685.3 L845.3,685.3 L846.1,685.3 L846.8,685.3 L847.6,685.4 L848.4,685.4 L849.2,685.4 L850.0,685.4 L850.8,685.4 L851.6,685.4 L852.4,685.4 L853.2,685.5 L854.0,685.5 L854.8,685.5 L855.5,685.5 L856.3,685.5 L857.1,685.5 L857.9,685.5 L858.7,685.5 L859.5,685.5 L860.3,685.6 L861.1,685.6 L861.9,685.6 L862.7,685.6 L863.5,685.6 L864.2,685.6 L865.0,685.6 L865.8,685.6 L866.6,685.6 L867.4,685.6 L868.2,685.6 L869.0,685.7 L869.8,685.7 L870.6,685.7 L871.4,685.7 L872.1,685.7 L872.9,685.7 L873.7,685.7 L874.5,685.7 L875.3,685.7 L876.1,685.7 L876.9,685.7 L877.7,685.7 L878.5,685.7 L879.3,685.7 L880.0,685.7 L880.8,685.7 L881.6,685.7 L882.4,685.8 L883.2,685.8 L884.0,685.8 L884.8,685.8 L885.6,685.8 L886.4,685.8 L887.2,685.8 L887.9,685.8 L888.7,685.8 L889.5,685.8 L890.3,685.8 L891.1,685.8 L891.9,685.8 L892.7,685.8 L893.5,685.8 L894.3,685.8 L895.1,685.8 L895.8,685.8 L896.6,685.8 L897.4,685.8 L898.2,685.8 L899.0,685.8 L899.8,685.8 L900.6,685.8 L901.4,685.8 L902.2,685.8 L902.9,685.8 L903.7,685.8 L904.5,685.8 L905.3,685.8 L906.1,685.8 L906.9,685.8 L907.7,685.8 L908.5,685.8 L909.3,685.8 L910.1,685.8 L910.8,685.8 L911.6,685.8 L912.4,685.8 L913.2,685.8 L914.0,685.8 L914.8,685.8 L915.6,685.8 L916.4,685.8 L917.2,685.8 L917.9,685.9 L918.7,685.9 L919.5,685.9 L920.3,685.9 L921.1,685.9 L921.9,685.9 L922.7,685.9 L923.5,685.9 L924.3,685.9 L925.1,685.9 L925.8,685.9 L926.6,685.9 L927.4,685.9 L928.2,685.9 L929.0,685.9 L929.8,685.9 L930.6,685.9 L931.4,685.9 L932.2,685.9 L933.0,685.9 L933.7,685.9 L934.5,685.9 L935.3,685.9 L936.1,685.9 L936.9,685.9 L937.7,685.9 L938.5,685.9 L939.3,685.9 L940.1,686.0 L940.9,686.0 L941.7,686.0 L942.4,686.0 L943.2,686.0 L944.0,686.0 L944.8,686.0 L945.6,686.0 L946.0,686.0"/>
</g>
<g stroke="#000" stroke-width="2.5" fill="none" stroke-linecap="butt">
<rect x="83.9" y="8.6" width="933.6" height="715.05"/>
<line x1="83.9" y1="366.15" x2="1017.5" y2="366.15"/>
<line x1="78.00" y1="366.15" x2="83.9" y2="366.15"/>
<line x1="73.60" y1="321.20" x2="83.9" y2="321.20"/>
<line x1="78.00" y1="276.49" x2="83.9" y2="276.49"/>
<line x1="73.60" y1="231.78" x2="83.9" y2="231.78"/>
<line x1="78.00" y1="187.08" x2="83.9" y2="187.08"/>
<line x1="73.60" y1="142.37" x2="83.9" y2="142.37"/>
<line x1="78.00" y1="97.66" x2="83.9" y2="97.66"/>
<line x1="73.60" y1="52.95" x2="83.9" y2="52.95"/>
<line x1="78.00" y1="8.60" x2="83.9" y2="8.60"/>
<line x1="73.60" y1="686.10" x2="83.9" y2="686.10"/>
<line x1="78.00" y1="639.07" x2="83.9" y2="639.07"/>
<line x1="73.60" y1="592.04" x2="83.9" y2="592.04"/>
<line x1="78.00" y1="545.00" x2="83.9" y2="545.00"/>
<line x1="73.60" y1="497.97" x2="83.9" y2="497.97"/>
<line x1="78.00" y1="450.94" x2="83.9" y2="450.94"/>
<line x1="73.60" y1="403.91" x2="83.9" y2="403.91"/>
<line x1="83.90" y1="723.65" x2="83.90" y2="729.55"/>
<line x1="150.40" y1="366.15" x2="150.40" y2="376.45"/>
<line x1="150.40" y1="723.65" x2="150.40" y2="733.95"/>
<line x1="217.07" y1="366.15" x2="217.07" y2="372.05"/>
<line x1="217.07" y1="723.65" x2="217.07" y2="729.55"/>
<line x1="283.75" y1="366.15" x2="283.75" y2="376.45"/>
<line x1="283.75" y1="723.65" x2="283.75" y2="733.95"/>
<line x1="350.42" y1="366.15" x2="350.42" y2="372.05"/>
<line x1="350.42" y1="723.65" x2="350.42" y2="729.55"/>
<line x1="417.10" y1="366.15" x2="417.10" y2="376.45"/>
<line x1="417.10" y1="723.65" x2="417.10" y2="733.95"/>
<line x1="483.77" y1="366.15" x2="483.77" y2="372.05"/>
<line x1="483.77" y1="723.65" x2="483.77" y2="729.55"/>
<line x1="550.45" y1="366.15" x2="550.45" y2="376.45"/>
<line x1="550.45" y1="723.65" x2="550.45" y2="733.95"/>
<line x1="617.12" y1="366.15" x2="617.12" y2="372.05"/>
<line x1="617.12" y1="723.65" x2="617.12" y2="729.55"/>
<line x1="683.80" y1="366.15" x2="683.80" y2="376.45"/>
<line x1="683.80" y1="723.65" x2="683.80" y2="733.95"/>
<line x1="750.47" y1="366.15" x2="750.47" y2="372.05"/>
<line x1="750.47" y1="723.65" x2="750.47" y2="729.55"/>
<line x1="817.15" y1="366.15" x2="817.15" y2="376.45"/>
<line x1="817.15" y1="723.65" x2="817.15" y2="733.95"/>
<line x1="883.82" y1="366.15" x2="883.82" y2="372.05"/>
<line x1="883.82" y1="723.65" x2="883.82" y2="729.55"/>
<line x1="950.50" y1="366.15" x2="950.50" y2="376.45"/>
<line x1="950.50" y1="723.65" x2="950.50" y2="733.95"/>
<line x1="1017.50" y1="723.65" x2="1017.50" y2="729.55"/>
</g>
<g font-size="18.4" style="filter:grayscale(1)">
<text transform="translate(69.30,325.95) scale(1,1.02)" text-anchor="end">0,0</text>
<text transform="translate(69.30,690.85) scale(1,1.02)" text-anchor="end">0,0</text>
<text transform="translate(69.30,236.53) scale(1,1.02)" text-anchor="end">0,5</text>
<text transform="translate(69.30,596.79) scale(1,1.02)" text-anchor="end">0,5</text>
<text transform="translate(69.30,147.12) scale(1,1.02)" text-anchor="end"><tspan visibility="hidden">1</tspan>,0</text>
<path transform="translate(69.30,147.12) translate(-25.58,0) scale(0.008984,-0.008984)" d="M763,0H583V1147Q518,1085 412.5,1023Q307,961 223,930V1104Q374,1175 487,1276Q600,1377 647,1472H763Z"/>
<text transform="translate(69.30,502.72) scale(1,1.02)" text-anchor="end"><tspan visibility="hidden">1</tspan>,0</text>
<path transform="translate(69.30,502.72) translate(-25.58,0) scale(0.008984,-0.008984)" d="M763,0H583V1147Q518,1085 412.5,1023Q307,961 223,930V1104Q374,1175 487,1276Q600,1377 647,1472H763Z"/>
<text transform="translate(69.30,57.70) scale(1,1.02)" text-anchor="end"><tspan visibility="hidden">1</tspan>,5</text>
<path transform="translate(69.30,57.70) translate(-25.58,0) scale(0.008984,-0.008984)" d="M763,0H583V1147Q518,1085 412.5,1023Q307,961 223,930V1104Q374,1175 487,1276Q600,1377 647,1472H763Z"/>
<text transform="translate(69.30,408.66) scale(1,1.02)" text-anchor="end"><tspan visibility="hidden">1</tspan>,5</text>
<path transform="translate(69.30,408.66) translate(-25.58,0) scale(0.008984,-0.008984)" d="M763,0H583V1147Q518,1085 412.5,1023Q307,961 223,930V1104Q374,1175 487,1276Q600,1377 647,1472H763Z"/>
<text transform="translate(150.40,753.30) scale(1,1.02)" text-anchor="middle">0</text>
<text transform="translate(283.75,753.30) scale(1,1.02)" text-anchor="middle"><tspan visibility="hidden">1</tspan>00</text>
<path transform="translate(283.75,753.30) translate(-15.35,0) scale(0.008984,-0.008984)" d="M763,0H583V1147Q518,1085 412.5,1023Q307,961 223,930V1104Q374,1175 487,1276Q600,1377 647,1472H763Z"/>
<text transform="translate(417.10,753.30) scale(1,1.02)" text-anchor="middle">200</text>
<text transform="translate(550.45,753.30) scale(1,1.02)" text-anchor="middle">300</text>
<text transform="translate(683.80,753.30) scale(1,1.02)" text-anchor="middle">400</text>
<text transform="translate(817.15,753.30) scale(1,1.02)" text-anchor="middle">500</text>
<text transform="translate(950.50,753.30) scale(1,1.02)" text-anchor="middle">600</text>
</g>
<g font-size="22.25" style="filter:grayscale(1)">
<text transform="translate(550.90,789.40) scale(1,1.04)" text-anchor="middle" font-size="22.62">Temperature (°C)</text>
<text transform="translate(27.70,201.00) rotate(-90) scale(1,1.04)" text-anchor="middle" font-size="22.62">Deriv. Weight (%/°C)</text>
<text transform="translate(27.70,549.10) rotate(-90) scale(1,1.04)" text-anchor="middle" font-size="22.62">Deriv. Weight (%/°C)</text>
<text transform="translate(972.70,33.50) scale(1,1.0)" font-size="22.3">(a)</text>
<text transform="translate(972.60,408.00) scale(1,1.0)" font-size="22.3">(b)</text>
<text transform="translate(192.00,44.85) scale(1,1.04)">CSAN-30</text>
<text transform="translate(192.00,72.55) scale(1,1.04)">CSAN-<tspan visibility="hidden">1</tspan>-30</text>
<path transform="translate(192.00,72.55) translate(69.23,0) scale(0.010864,-0.010864)" d="M763,0H583V1147Q518,1085 412.5,1023Q307,961 223,930V1104Q374,1175 487,1276Q600,1377 647,1472H763Z"/>
<text transform="translate(192.00,100.25) scale(1,1.04)">CSAN-2-30</text>
<text transform="translate(192.00,127.95) scale(1,1.04)">CSAN-3-30</text>
<text transform="translate(192.00,155.65) scale(1,1.04)">CSAN-4-30</text>
<text transform="translate(192.00,417.25) scale(1,1.04)">CTIN-30</text>
<text transform="translate(192.00,444.95) scale(1,1.04)">CTIN-<tspan visibility="hidden">1</tspan>-30</text>
<path transform="translate(192.00,444.95) translate(59.32,0) scale(0.010864,-0.010864)" d="M763,0H583V1147Q518,1085 412.5,1023Q307,961 223,930V1104Q374,1175 487,1276Q600,1377 647,1472H763Z"/>
<text transform="translate(192.00,472.65) scale(1,1.04)">CTIN-2-30</text>
<text transform="translate(192.00,500.35) scale(1,1.04)">CTIN-3-30</text>
<text transform="translate(192.00,528.05) scale(1,1.04)">CTIN-4-30</text>
</g>
<g stroke-width="2.7" stroke-linecap="round">
<line x1="136.0" y1="37.10" x2="185.9" y2="37.10" stroke="#000000"/>
<line x1="136.0" y1="64.80" x2="185.9" y2="64.80" stroke="#ff0000"/>
<line x1="136.0" y1="92.50" x2="185.9" y2="92.50" stroke="#008000"/>
<line x1="136.0" y1="120.20" x2="185.9" y2="120.20" stroke="#000080"/>
<line x1="136.0" y1="147.90" x2="185.9" y2="147.90" stroke="#800080"/>
<line x1="136.0" y1="409.50" x2="185.9" y2="409.50" stroke="#000000"/>
<line x1="136.0" y1="437.20" x2="185.9" y2="437.20" stroke="#ff0000"/>
<line x1="136.0" y1="464.90" x2="185.9" y2="464.90" stroke="#008000"/>
<line x1="136.0" y1="492.60" x2="185.9" y2="492.60" stroke="#000080"/>
<line x1="136.0" y1="520.30" x2="185.9" y2="520.30" stroke="#800080"/>
</g>
</svg></body></html>
